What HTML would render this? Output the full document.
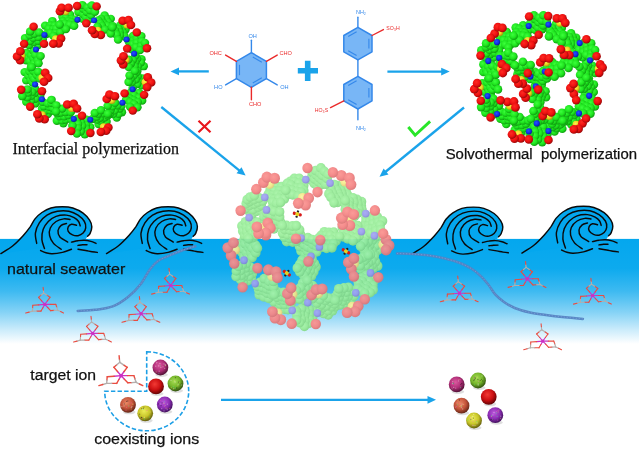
<!DOCTYPE html>
<html><head><meta charset="utf-8"><title>Scheme</title>
<style>
html,body{margin:0;padding:0;background:#fff;}
body{width:639px;height:450px;overflow:hidden;font-family:"Liberation Sans",sans-serif;}
svg{display:block;filter:blur(0.5px);}
svg text{font-family:"Liberation Sans",sans-serif;}
</style></head><body>
<svg width="639" height="450" viewBox="0 0 639 450">
<defs>
<linearGradient id="water" x1="0" y1="0" x2="0" y2="1">
<stop offset="0" stop-color="#04a7ee"/>
<stop offset="0.28" stop-color="#0daaee"/>
<stop offset="0.5" stop-color="#3ebaf1"/>
<stop offset="0.7" stop-color="#86d3f6"/>
<stop offset="0.86" stop-color="#c9ebfb"/>
<stop offset="1" stop-color="#ffffff"/>
</linearGradient>
<radialGradient id="gG" cx="0.4" cy="0.38" r="0.62"><stop offset="0" stop-color="#3cff3c"/><stop offset="0.6" stop-color="#1fe51f"/><stop offset="1" stop-color="#0f9f10"/></radialGradient>
<radialGradient id="gR" cx="0.4" cy="0.38" r="0.62"><stop offset="0" stop-color="#ff2a22"/><stop offset="0.6" stop-color="#ee1010"/><stop offset="1" stop-color="#9a0808"/></radialGradient>
<radialGradient id="gB" cx="0.4" cy="0.38" r="0.62"><stop offset="0" stop-color="#2a50ff"/><stop offset="0.6" stop-color="#1030e8"/><stop offset="1" stop-color="#0a1c9a"/></radialGradient>
<radialGradient id="gY" cx="0.4" cy="0.38" r="0.62"><stop offset="0" stop-color="#fff050"/><stop offset="0.6" stop-color="#ead820"/><stop offset="1" stop-color="#a89a10"/></radialGradient>
<radialGradient id="gGf" cx="0.4" cy="0.38" r="0.62"><stop offset="0" stop-color="#a8f5a8"/><stop offset="0.6" stop-color="#98ec98"/><stop offset="1" stop-color="#84d886"/></radialGradient>
<radialGradient id="gRf" cx="0.4" cy="0.38" r="0.62"><stop offset="0" stop-color="#fb9490"/><stop offset="0.6" stop-color="#f48484"/><stop offset="1" stop-color="#dc7474"/></radialGradient>
<radialGradient id="gBf" cx="0.4" cy="0.38" r="0.62"><stop offset="0" stop-color="#a4a8f4"/><stop offset="0.6" stop-color="#989cec"/><stop offset="1" stop-color="#8488d4"/></radialGradient>
<radialGradient id="gYf" cx="0.4" cy="0.38" r="0.62"><stop offset="0" stop-color="#fbf4a0"/><stop offset="0.6" stop-color="#f2e888"/><stop offset="1" stop-color="#d8cc78"/></radialGradient>
</defs>

<rect x="0" y="0" width="639" height="450" fill="#fff"/>
<rect x="-6" y="238.9" width="651" height="105" fill="url(#water)"/>
<g id="ringL" transform="translate(84,69.3) scale(1,0.965)"><circle cx="26.7" cy="-52.3" r="4.3" fill="url(#gG)"/>
<circle cx="20.6" cy="-55.8" r="4.3" fill="url(#gG)"/>
<circle cx="22.3" cy="-51.9" r="4.3" fill="url(#gG)"/>
<circle cx="24.3" cy="-48.4" r="4.3" fill="url(#gG)"/>
<circle cx="27.6" cy="-44.2" r="4.3" fill="url(#gG)"/>
<circle cx="17.2" cy="-52.1" r="4.3" fill="url(#gG)"/>
<circle cx="19.7" cy="-47.5" r="4.3" fill="url(#gG)"/>
<circle cx="23.3" cy="-45.2" r="4.3" fill="url(#gG)"/>
<circle cx="14.3" cy="-50.6" r="4.3" fill="url(#gG)"/>
<circle cx="16.3" cy="-47.5" r="4.3" fill="url(#gG)"/>
<circle cx="17.9" cy="-45" r="4.3" fill="url(#gG)"/>
<circle cx="21" cy="-41.2" r="4.3" fill="url(#gG)"/>
<circle cx="13.5" cy="-44.2" r="4.3" fill="url(#gG)"/>
<circle cx="41.5" cy="-41.2" r="4.3" fill="url(#gG)"/>
<circle cx="36.6" cy="-45.7" r="4.3" fill="url(#gG)"/>
<circle cx="38" cy="-41.8" r="4.3" fill="url(#gG)"/>
<circle cx="39.3" cy="-37.5" r="4.3" fill="url(#gG)"/>
<circle cx="40.5" cy="-34" r="4.3" fill="url(#gG)"/>
<circle cx="34.5" cy="-42.2" r="4.3" fill="url(#gG)"/>
<circle cx="35.6" cy="-38.4" r="4.3" fill="url(#gG)"/>
<circle cx="35.9" cy="-35.1" r="4.3" fill="url(#gG)"/>
<circle cx="28.9" cy="-44.8" r="4.3" fill="url(#gG)"/>
<circle cx="31.1" cy="-40" r="4.3" fill="url(#gG)"/>
<circle cx="32.6" cy="-35.8" r="4.3" fill="url(#gG)"/>
<circle cx="34.1" cy="-30.7" r="4.3" fill="url(#gG)"/>
<circle cx="26.7" cy="-37.1" r="4.3" fill="url(#gG)"/>
<circle cx="28.4" cy="-43.5" r="4.3" fill="url(#gG)"/>
<circle cx="59.7" cy="-3.2" r="4.3" fill="url(#gG)"/>
<circle cx="57.4" cy="-10.5" r="4.3" fill="url(#gG)"/>
<circle cx="56.8" cy="-7.1" r="4.3" fill="url(#gG)"/>
<circle cx="53.6" cy="-3" r="4.3" fill="url(#gG)"/>
<circle cx="53.3" cy="1.8" r="4.3" fill="url(#gG)"/>
<circle cx="53.1" cy="-10.8" r="4.3" fill="url(#gG)"/>
<circle cx="51.1" cy="-7.2" r="4.3" fill="url(#gG)"/>
<circle cx="50.5" cy="-2.9" r="4.3" fill="url(#gG)"/>
<circle cx="51.4" cy="-14.2" r="4.3" fill="url(#gG)"/>
<circle cx="48.8" cy="-9.6" r="4.3" fill="url(#gG)"/>
<circle cx="46.8" cy="-5.8" r="4.3" fill="url(#gG)"/>
<circle cx="44.8" cy="-2.2" r="4.3" fill="url(#gG)"/>
<circle cx="44.4" cy="-10.1" r="4.3" fill="url(#gG)"/>
<circle cx="57.6" cy="16.7" r="4.3" fill="url(#gG)"/>
<circle cx="58.1" cy="9.3" r="4.3" fill="url(#gG)"/>
<circle cx="54.9" cy="11.7" r="4.3" fill="url(#gG)"/>
<circle cx="53.1" cy="15.4" r="4.3" fill="url(#gG)"/>
<circle cx="48.7" cy="19.3" r="4.3" fill="url(#gG)"/>
<circle cx="53.6" cy="7.2" r="4.3" fill="url(#gG)"/>
<circle cx="51.6" cy="10.6" r="4.3" fill="url(#gG)"/>
<circle cx="47.7" cy="13.4" r="4.3" fill="url(#gG)"/>
<circle cx="52.1" cy="3.5" r="4.3" fill="url(#gG)"/>
<circle cx="49.3" cy="6.8" r="4.3" fill="url(#gG)"/>
<circle cx="46.5" cy="9.8" r="4.3" fill="url(#gG)"/>
<circle cx="44.6" cy="13.1" r="4.3" fill="url(#gG)"/>
<circle cx="45.6" cy="6.3" r="4.3" fill="url(#gG)"/>
<circle cx="50.9" cy="1.6" r="4.3" fill="url(#gG)"/>
<circle cx="32.8" cy="50" r="4.3" fill="url(#gG)"/>
<circle cx="37.9" cy="44.5" r="4.3" fill="url(#gG)"/>
<circle cx="34.4" cy="46.2" r="4.3" fill="url(#gG)"/>
<circle cx="29" cy="46.5" r="4.3" fill="url(#gG)"/>
<circle cx="25.8" cy="46.3" r="4.3" fill="url(#gG)"/>
<circle cx="35.7" cy="40.7" r="4.3" fill="url(#gG)"/>
<circle cx="30.6" cy="42.6" r="4.3" fill="url(#gG)"/>
<circle cx="26.5" cy="42.4" r="4.3" fill="url(#gG)"/>
<circle cx="37.4" cy="38" r="4.3" fill="url(#gG)"/>
<circle cx="33.5" cy="37.3" r="4.3" fill="url(#gG)"/>
<circle cx="28.3" cy="38.4" r="4.3" fill="url(#gG)"/>
<circle cx="23.7" cy="37.9" r="4.3" fill="url(#gG)"/>
<circle cx="31" cy="34.7" r="4.3" fill="url(#gG)"/>
<circle cx="14.6" cy="56.8" r="4.3" fill="url(#gG)"/>
<circle cx="22.5" cy="54.4" r="4.3" fill="url(#gG)"/>
<circle cx="16.6" cy="53.5" r="4.3" fill="url(#gG)"/>
<circle cx="13" cy="52.2" r="4.3" fill="url(#gG)"/>
<circle cx="8.2" cy="51.7" r="4.3" fill="url(#gG)"/>
<circle cx="20.6" cy="50" r="4.3" fill="url(#gG)"/>
<circle cx="15.9" cy="50.4" r="4.3" fill="url(#gG)"/>
<circle cx="12.7" cy="49" r="4.3" fill="url(#gG)"/>
<circle cx="23.8" cy="47.6" r="4.3" fill="url(#gG)"/>
<circle cx="18.5" cy="45.6" r="4.3" fill="url(#gG)"/>
<circle cx="14" cy="46.2" r="4.3" fill="url(#gG)"/>
<circle cx="10.8" cy="45.3" r="4.3" fill="url(#gG)"/>
<circle cx="17" cy="42.4" r="4.3" fill="url(#gG)"/>
<circle cx="23.8" cy="46.1" r="4.3" fill="url(#gG)"/>
<circle cx="-27.1" cy="53.3" r="4.3" fill="url(#gG)"/>
<circle cx="-20.6" cy="55.9" r="4.3" fill="url(#gG)"/>
<circle cx="-21.9" cy="52.8" r="4.3" fill="url(#gG)"/>
<circle cx="-24.4" cy="48.8" r="4.3" fill="url(#gG)"/>
<circle cx="-26.8" cy="45.5" r="4.3" fill="url(#gG)"/>
<circle cx="-18.2" cy="52.1" r="4.3" fill="url(#gG)"/>
<circle cx="-19.7" cy="48.8" r="4.3" fill="url(#gG)"/>
<circle cx="-23.1" cy="44.9" r="4.3" fill="url(#gG)"/>
<circle cx="-12.8" cy="51.6" r="4.3" fill="url(#gG)"/>
<circle cx="-15.7" cy="47.5" r="4.3" fill="url(#gG)"/>
<circle cx="-18.3" cy="44.3" r="4.3" fill="url(#gG)"/>
<circle cx="-21.8" cy="40.7" r="4.3" fill="url(#gG)"/>
<circle cx="-13.2" cy="44.4" r="4.3" fill="url(#gG)"/>
<circle cx="-41.9" cy="40.9" r="4.3" fill="url(#gG)"/>
<circle cx="-36.2" cy="46.5" r="4.3" fill="url(#gG)"/>
<circle cx="-38.1" cy="42.7" r="4.3" fill="url(#gG)"/>
<circle cx="-40.1" cy="38.3" r="4.3" fill="url(#gG)"/>
<circle cx="-41.5" cy="33.8" r="4.3" fill="url(#gG)"/>
<circle cx="-33.7" cy="42.6" r="4.3" fill="url(#gG)"/>
<circle cx="-34.6" cy="38.8" r="4.3" fill="url(#gG)"/>
<circle cx="-36.1" cy="35.3" r="4.3" fill="url(#gG)"/>
<circle cx="-29.7" cy="43.2" r="4.3" fill="url(#gG)"/>
<circle cx="-31" cy="40.1" r="4.3" fill="url(#gG)"/>
<circle cx="-32.5" cy="35" r="4.3" fill="url(#gG)"/>
<circle cx="-32.5" cy="31.6" r="4.3" fill="url(#gG)"/>
<circle cx="-27.7" cy="37.3" r="4.3" fill="url(#gG)"/>
<circle cx="-28" cy="43.8" r="4.3" fill="url(#gG)"/>
<circle cx="-59.3" cy="2.9" r="4.3" fill="url(#gG)"/>
<circle cx="-57.7" cy="11.5" r="4.3" fill="url(#gG)"/>
<circle cx="-55.6" cy="6.5" r="4.3" fill="url(#gG)"/>
<circle cx="-54.2" cy="2.4" r="4.3" fill="url(#gG)"/>
<circle cx="-53.1" cy="-1.3" r="4.3" fill="url(#gG)"/>
<circle cx="-53.2" cy="11" r="4.3" fill="url(#gG)"/>
<circle cx="-51.5" cy="7.2" r="4.3" fill="url(#gG)"/>
<circle cx="-50.3" cy="1.8" r="4.3" fill="url(#gG)"/>
<circle cx="-51.4" cy="13.7" r="4.3" fill="url(#gG)"/>
<circle cx="-49.9" cy="9.9" r="4.3" fill="url(#gG)"/>
<circle cx="-47.2" cy="6" r="4.3" fill="url(#gG)"/>
<circle cx="-45.8" cy="2.6" r="4.3" fill="url(#gG)"/>
<circle cx="-44" cy="9.6" r="4.3" fill="url(#gG)"/>
<circle cx="-57.5" cy="-16.9" r="4.3" fill="url(#gG)"/>
<circle cx="-57.8" cy="-9.4" r="4.3" fill="url(#gG)"/>
<circle cx="-55.1" cy="-11.7" r="4.3" fill="url(#gG)"/>
<circle cx="-52.8" cy="-14.6" r="4.3" fill="url(#gG)"/>
<circle cx="-50.3" cy="-19" r="4.3" fill="url(#gG)"/>
<circle cx="-54.2" cy="-8.5" r="4.3" fill="url(#gG)"/>
<circle cx="-50.5" cy="-11.3" r="4.3" fill="url(#gG)"/>
<circle cx="-48.7" cy="-14.9" r="4.3" fill="url(#gG)"/>
<circle cx="-52.6" cy="-3.4" r="4.3" fill="url(#gG)"/>
<circle cx="-49.6" cy="-6.3" r="4.3" fill="url(#gG)"/>
<circle cx="-46.2" cy="-9.1" r="4.3" fill="url(#gG)"/>
<circle cx="-43.4" cy="-13.7" r="4.3" fill="url(#gG)"/>
<circle cx="-45.5" cy="-6.2" r="4.3" fill="url(#gG)"/>
<circle cx="-52.4" cy="-2.3" r="4.3" fill="url(#gG)"/>
<circle cx="-31.6" cy="-50" r="4.3" fill="url(#gG)"/>
<circle cx="-38.8" cy="-45.3" r="4.3" fill="url(#gG)"/>
<circle cx="-33.6" cy="-45.4" r="4.3" fill="url(#gG)"/>
<circle cx="-29.3" cy="-45.3" r="4.3" fill="url(#gG)"/>
<circle cx="-25.3" cy="-45.5" r="4.3" fill="url(#gG)"/>
<circle cx="-35.2" cy="-42.1" r="4.3" fill="url(#gG)"/>
<circle cx="-30.7" cy="-41.3" r="4.3" fill="url(#gG)"/>
<circle cx="-27.7" cy="-42.1" r="4.3" fill="url(#gG)"/>
<circle cx="-37.6" cy="-36.6" r="4.3" fill="url(#gG)"/>
<circle cx="-33.6" cy="-37.6" r="4.3" fill="url(#gG)"/>
<circle cx="-28.3" cy="-37.5" r="4.3" fill="url(#gG)"/>
<circle cx="-23.7" cy="-38.5" r="4.3" fill="url(#gG)"/>
<circle cx="-30.6" cy="-34.6" r="4.3" fill="url(#gG)"/>
<circle cx="-14" cy="-56.6" r="4.3" fill="url(#gG)"/>
<circle cx="-21.5" cy="-54.5" r="4.3" fill="url(#gG)"/>
<circle cx="-18" cy="-53.2" r="4.3" fill="url(#gG)"/>
<circle cx="-12.3" cy="-52.1" r="4.3" fill="url(#gG)"/>
<circle cx="-8.7" cy="-51.4" r="4.3" fill="url(#gG)"/>
<circle cx="-20.8" cy="-49.9" r="4.3" fill="url(#gG)"/>
<circle cx="-15.5" cy="-50" r="4.3" fill="url(#gG)"/>
<circle cx="-12.6" cy="-48.8" r="4.3" fill="url(#gG)"/>
<circle cx="-23.4" cy="-46.9" r="4.3" fill="url(#gG)"/>
<circle cx="-19.2" cy="-47.3" r="4.3" fill="url(#gG)"/>
<circle cx="-14.3" cy="-46.2" r="4.3" fill="url(#gG)"/>
<circle cx="-9.9" cy="-45" r="4.3" fill="url(#gG)"/>
<circle cx="-18.1" cy="-41.7" r="4.3" fill="url(#gG)"/>
<circle cx="-24.4" cy="-46.3" r="4.3" fill="url(#gG)"/>
<circle cx="-5.5" cy="-59.4" r="4.3" fill="url(#gG)"/>
<circle cx="-1.2" cy="-52.2" r="4.3" fill="url(#gG)"/>
<circle cx="-0.8" cy="-57.3" r="4.3" fill="url(#gG)"/>
<circle cx="-0.6" cy="-62.7" r="4.3" fill="url(#gG)"/>
<circle cx="-1.7" cy="-66.6" r="4.3" fill="url(#gG)"/>
<circle cx="2" cy="-54.3" r="4.3" fill="url(#gG)"/>
<circle cx="2.8" cy="-59.4" r="4.3" fill="url(#gG)"/>
<circle cx="3.4" cy="-64" r="4.3" fill="url(#gG)"/>
<circle cx="6" cy="-52.4" r="4.3" fill="url(#gG)"/>
<circle cx="7.2" cy="-56.2" r="4.3" fill="url(#gG)"/>
<circle cx="6.2" cy="-61" r="4.3" fill="url(#gG)"/>
<circle cx="7.8" cy="-66.3" r="4.3" fill="url(#gG)"/>
<circle cx="10.9" cy="-59.6" r="4.3" fill="url(#gG)"/>
<circle cx="49.1" cy="-34.7" r="4.3" fill="url(#gG)"/>
<circle cx="44.8" cy="-28.7" r="4.3" fill="url(#gG)"/>
<circle cx="49.7" cy="-30" r="4.3" fill="url(#gG)"/>
<circle cx="52.8" cy="-31.6" r="4.3" fill="url(#gG)"/>
<circle cx="57.3" cy="-34.4" r="4.3" fill="url(#gG)"/>
<circle cx="49" cy="-26.1" r="4.3" fill="url(#gG)"/>
<circle cx="52.8" cy="-27.6" r="4.3" fill="url(#gG)"/>
<circle cx="57.8" cy="-28.9" r="4.3" fill="url(#gG)"/>
<circle cx="48" cy="-20.7" r="4.3" fill="url(#gG)"/>
<circle cx="51.9" cy="-22.9" r="4.3" fill="url(#gG)"/>
<circle cx="57.3" cy="-24.2" r="4.3" fill="url(#gG)"/>
<circle cx="60.9" cy="-27.4" r="4.3" fill="url(#gG)"/>
<circle cx="56" cy="-20" r="4.3" fill="url(#gG)"/>
<circle cx="55.3" cy="24.4" r="4.3" fill="url(#gG)"/>
<circle cx="46.9" cy="23.9" r="4.3" fill="url(#gG)"/>
<circle cx="49.8" cy="26.8" r="4.3" fill="url(#gG)"/>
<circle cx="54.7" cy="29.5" r="4.3" fill="url(#gG)"/>
<circle cx="58.1" cy="32.5" r="4.3" fill="url(#gG)"/>
<circle cx="45.5" cy="29.9" r="4.3" fill="url(#gG)"/>
<circle cx="49.5" cy="32" r="4.3" fill="url(#gG)"/>
<circle cx="53.7" cy="34" r="4.3" fill="url(#gG)"/>
<circle cx="42.1" cy="31.5" r="4.3" fill="url(#gG)"/>
<circle cx="45.8" cy="34" r="4.3" fill="url(#gG)"/>
<circle cx="50" cy="36.1" r="4.3" fill="url(#gG)"/>
<circle cx="53.4" cy="39.4" r="4.3" fill="url(#gG)"/>
<circle cx="46.1" cy="38.9" r="4.3" fill="url(#gG)"/>
<circle cx="6.2" cy="60" r="4.3" fill="url(#gG)"/>
<circle cx="2.4" cy="52.1" r="4.3" fill="url(#gG)"/>
<circle cx="2" cy="57.8" r="4.3" fill="url(#gG)"/>
<circle cx="2.1" cy="61.6" r="4.3" fill="url(#gG)"/>
<circle cx="0.8" cy="67.4" r="4.3" fill="url(#gG)"/>
<circle cx="-2.9" cy="55.6" r="4.3" fill="url(#gG)"/>
<circle cx="-1.9" cy="58.8" r="4.3" fill="url(#gG)"/>
<circle cx="-3.3" cy="64.5" r="4.3" fill="url(#gG)"/>
<circle cx="-6.8" cy="51.5" r="4.3" fill="url(#gG)"/>
<circle cx="-6" cy="56.8" r="4.3" fill="url(#gG)"/>
<circle cx="-6.2" cy="60.9" r="4.3" fill="url(#gG)"/>
<circle cx="-7.1" cy="66.6" r="4.3" fill="url(#gG)"/>
<circle cx="-11.6" cy="58.5" r="4.3" fill="url(#gG)"/>
<circle cx="-48.7" cy="35.4" r="4.3" fill="url(#gG)"/>
<circle cx="-43.8" cy="27.1" r="4.3" fill="url(#gG)"/>
<circle cx="-48.8" cy="30.5" r="4.3" fill="url(#gG)"/>
<circle cx="-53" cy="32.5" r="4.3" fill="url(#gG)"/>
<circle cx="-57.7" cy="33.6" r="4.3" fill="url(#gG)"/>
<circle cx="-49.3" cy="24.5" r="4.3" fill="url(#gG)"/>
<circle cx="-52.7" cy="27.5" r="4.3" fill="url(#gG)"/>
<circle cx="-56.8" cy="29" r="4.3" fill="url(#gG)"/>
<circle cx="-49" cy="20.1" r="4.3" fill="url(#gG)"/>
<circle cx="-52" cy="23.7" r="4.3" fill="url(#gG)"/>
<circle cx="-56" cy="24.2" r="4.3" fill="url(#gG)"/>
<circle cx="-61.7" cy="27.9" r="4.3" fill="url(#gG)"/>
<circle cx="-56.6" cy="20.7" r="4.3" fill="url(#gG)"/>
<circle cx="-54.9" cy="-25.2" r="4.3" fill="url(#gG)"/>
<circle cx="-46.4" cy="-24.9" r="4.3" fill="url(#gG)"/>
<circle cx="-50.2" cy="-28.2" r="4.3" fill="url(#gG)"/>
<circle cx="-54" cy="-29.2" r="4.3" fill="url(#gG)"/>
<circle cx="-58.9" cy="-32.4" r="4.3" fill="url(#gG)"/>
<circle cx="-45.8" cy="-29.6" r="4.3" fill="url(#gG)"/>
<circle cx="-50.7" cy="-32.6" r="4.3" fill="url(#gG)"/>
<circle cx="-54.1" cy="-35.4" r="4.3" fill="url(#gG)"/>
<circle cx="-41.3" cy="-31.1" r="4.3" fill="url(#gG)"/>
<circle cx="-45.6" cy="-33.5" r="4.3" fill="url(#gG)"/>
<circle cx="-49.7" cy="-36.8" r="4.3" fill="url(#gG)"/>
<circle cx="-53.8" cy="-39.2" r="4.3" fill="url(#gG)"/>
<circle cx="-44.9" cy="-38.3" r="4.3" fill="url(#gG)"/>
<circle cx="10.1" cy="-50.7" r="3.1" fill="url(#gB)"/>
<circle cx="42.6" cy="-30.8" r="3.1" fill="url(#gB)"/>
<circle cx="13.6" cy="-40.4" r="3.8" fill="url(#gY)"/>
<circle cx="43.1" cy="-46" r="3.8" fill="url(#gY)"/>
<circle cx="50.2" cy="-16.1" r="3.1" fill="url(#gB)"/>
<circle cx="48.6" cy="20.7" r="3.1" fill="url(#gB)"/>
<circle cx="41.8" cy="-9.6" r="3.8" fill="url(#gY)"/>
<circle cx="61.3" cy="13.3" r="3.8" fill="url(#gY)"/>
<circle cx="38.4" cy="34.6" r="3.1" fill="url(#gB)"/>
<circle cx="6.3" cy="52.4" r="3.1" fill="url(#gB)"/>
<circle cx="27.8" cy="32.2" r="3.8" fill="url(#gY)"/>
<circle cx="19.6" cy="59.7" r="3.8" fill="url(#gY)"/>
<circle cx="-10.2" cy="51.5" r="3.1" fill="url(#gB)"/>
<circle cx="-42.1" cy="31.1" r="3.1" fill="url(#gB)"/>
<circle cx="-12.1" cy="40.5" r="3.8" fill="url(#gY)"/>
<circle cx="-42" cy="47.2" r="3.8" fill="url(#gY)"/>
<circle cx="-48.9" cy="15.7" r="3.1" fill="url(#gB)"/>
<circle cx="-48" cy="-20.4" r="3.1" fill="url(#gB)"/>
<circle cx="-41.8" cy="8.7" r="3.8" fill="url(#gY)"/>
<circle cx="-62.4" cy="-13.9" r="3.8" fill="url(#gY)"/>
<circle cx="-39.5" cy="-35.6" r="3.1" fill="url(#gB)"/>
<circle cx="-6.5" cy="-51.4" r="3.1" fill="url(#gB)"/>
<circle cx="-28.2" cy="-31.4" r="3.8" fill="url(#gY)"/>
<circle cx="-18.4" cy="-59.9" r="3.8" fill="url(#gY)"/>
<circle cx="16.8" cy="-35.6" r="4.4" fill="url(#gR)"/>
<circle cx="10.8" cy="-36.6" r="4.4" fill="url(#gR)"/>
<circle cx="8.1" cy="-40.5" r="4.4" fill="url(#gR)"/>
<circle cx="38.7" cy="-50.3" r="4.4" fill="url(#gR)"/>
<circle cx="44.5" cy="-51.1" r="4.4" fill="url(#gR)"/>
<circle cx="46.9" cy="-45.9" r="4.4" fill="url(#gR)"/>
<circle cx="39.2" cy="-5" r="4.4" fill="url(#gR)"/>
<circle cx="37" cy="-9.2" r="4.4" fill="url(#gR)"/>
<circle cx="39.5" cy="-13.5" r="4.4" fill="url(#gR)"/>
<circle cx="63.7" cy="8.3" r="4.4" fill="url(#gR)"/>
<circle cx="67.1" cy="13.7" r="4.4" fill="url(#gR)"/>
<circle cx="63.1" cy="18.6" r="4.4" fill="url(#gR)"/>
<circle cx="22.8" cy="30.8" r="4.4" fill="url(#gR)"/>
<circle cx="25.5" cy="26" r="4.4" fill="url(#gR)"/>
<circle cx="30.9" cy="27.8" r="4.4" fill="url(#gR)"/>
<circle cx="24.3" cy="60.4" r="4.4" fill="url(#gR)"/>
<circle cx="22.1" cy="63.8" r="4.4" fill="url(#gR)"/>
<circle cx="16.9" cy="64.9" r="4.4" fill="url(#gR)"/>
<circle cx="-16.7" cy="36.6" r="4.4" fill="url(#gR)"/>
<circle cx="-10.4" cy="35.8" r="4.4" fill="url(#gR)"/>
<circle cx="-7" cy="40.5" r="4.4" fill="url(#gR)"/>
<circle cx="-39.4" cy="51.8" r="4.4" fill="url(#gR)"/>
<circle cx="-44.7" cy="51" r="4.4" fill="url(#gR)"/>
<circle cx="-46.6" cy="46.5" r="4.4" fill="url(#gR)"/>
<circle cx="-38.8" cy="3.5" r="4.4" fill="url(#gR)"/>
<circle cx="-35.9" cy="9" r="4.4" fill="url(#gR)"/>
<circle cx="-40" cy="12.9" r="4.4" fill="url(#gR)"/>
<circle cx="-63.9" cy="-9.4" r="4.4" fill="url(#gR)"/>
<circle cx="-66.9" cy="-13.3" r="4.4" fill="url(#gR)"/>
<circle cx="-63.6" cy="-18.6" r="4.4" fill="url(#gR)"/>
<circle cx="-23" cy="-31.8" r="4.4" fill="url(#gR)"/>
<circle cx="-25.4" cy="-26.7" r="4.4" fill="url(#gR)"/>
<circle cx="-30.7" cy="-26.5" r="4.4" fill="url(#gR)"/>
<circle cx="-24" cy="-60.2" r="4.4" fill="url(#gR)"/>
<circle cx="-22.4" cy="-63.9" r="4.4" fill="url(#gR)"/>
<circle cx="-15.5" cy="-63.9" r="4.4" fill="url(#gR)"/>
<circle cx="12.6" cy="-65.2" r="4.3" fill="url(#gR)"/>
<circle cx="-6.9" cy="-65.6" r="4.3" fill="url(#gR)"/>
<circle cx="2.3" cy="-47.6" r="4.3" fill="url(#gR)"/>
<circle cx="63" cy="-21.8" r="4.3" fill="url(#gR)"/>
<circle cx="52.8" cy="-38.2" r="4.3" fill="url(#gR)"/>
<circle cx="43.2" cy="-21.4" r="4.3" fill="url(#gR)"/>
<circle cx="48.8" cy="42.8" r="4.3" fill="url(#gR)"/>
<circle cx="60.1" cy="26.5" r="4.3" fill="url(#gR)"/>
<circle cx="40.6" cy="25" r="4.3" fill="url(#gR)"/>
<circle cx="-12.8" cy="64" r="4.3" fill="url(#gR)"/>
<circle cx="6.4" cy="66" r="4.3" fill="url(#gR)"/>
<circle cx="-2" cy="48.1" r="4.3" fill="url(#gR)"/>
<circle cx="-62.8" cy="21.2" r="4.3" fill="url(#gR)"/>
<circle cx="-53.8" cy="38.8" r="4.3" fill="url(#gR)"/>
<circle cx="-42" cy="22.7" r="4.3" fill="url(#gR)"/>
<circle cx="-50.4" cy="-44.2" r="4.3" fill="url(#gR)"/>
<circle cx="-59.9" cy="-26.4" r="4.3" fill="url(#gR)"/>
<circle cx="-39.9" cy="-26.3" r="4.3" fill="url(#gR)"/></g>
<g id="cageR"><circle cx="561.8" cy="27.7" r="4.3" fill="url(#gG)"/>
<circle cx="555.6" cy="24.5" r="4.3" fill="url(#gG)"/>
<circle cx="557.5" cy="28.3" r="4.3" fill="url(#gG)"/>
<circle cx="559.6" cy="31.7" r="4.3" fill="url(#gG)"/>
<circle cx="563" cy="35.8" r="4.3" fill="url(#gG)"/>
<circle cx="552.3" cy="28.3" r="4.3" fill="url(#gG)"/>
<circle cx="555" cy="32.8" r="4.3" fill="url(#gG)"/>
<circle cx="558.7" cy="35" r="4.3" fill="url(#gG)"/>
<circle cx="549.5" cy="30" r="4.3" fill="url(#gG)"/>
<circle cx="551.6" cy="33" r="4.3" fill="url(#gG)"/>
<circle cx="553.4" cy="35.5" r="4.3" fill="url(#gG)"/>
<circle cx="556.7" cy="39.1" r="4.3" fill="url(#gG)"/>
<circle cx="549" cy="36.4" r="4.3" fill="url(#gG)"/>
<circle cx="576.2" cy="37.7" r="4.3" fill="url(#gG)"/>
<circle cx="571.1" cy="33.4" r="4.3" fill="url(#gG)"/>
<circle cx="572.7" cy="37.2" r="4.3" fill="url(#gG)"/>
<circle cx="574.2" cy="41.4" r="4.3" fill="url(#gG)"/>
<circle cx="575.6" cy="44.9" r="4.3" fill="url(#gG)"/>
<circle cx="569.2" cy="37.1" r="4.3" fill="url(#gG)"/>
<circle cx="570.4" cy="40.7" r="4.3" fill="url(#gG)"/>
<circle cx="570.9" cy="44.1" r="4.3" fill="url(#gG)"/>
<circle cx="563.5" cy="34.6" r="4.3" fill="url(#gG)"/>
<circle cx="565.9" cy="39.4" r="4.3" fill="url(#gG)"/>
<circle cx="567.5" cy="43.5" r="4.3" fill="url(#gG)"/>
<circle cx="569.2" cy="48.6" r="4.3" fill="url(#gG)"/>
<circle cx="561.6" cy="42.4" r="4.3" fill="url(#gG)"/>
<circle cx="563.5" cy="36.2" r="4.3" fill="url(#gG)"/>
<circle cx="595" cy="73" r="4.3" fill="url(#gG)"/>
<circle cx="592.4" cy="65.8" r="4.3" fill="url(#gG)"/>
<circle cx="591.9" cy="69.2" r="4.3" fill="url(#gG)"/>
<circle cx="588.9" cy="73.4" r="4.3" fill="url(#gG)"/>
<circle cx="588.8" cy="78.3" r="4.3" fill="url(#gG)"/>
<circle cx="588.1" cy="65.6" r="4.3" fill="url(#gG)"/>
<circle cx="586.3" cy="69.4" r="4.3" fill="url(#gG)"/>
<circle cx="585.8" cy="73.7" r="4.3" fill="url(#gG)"/>
<circle cx="586.2" cy="62.4" r="4.3" fill="url(#gG)"/>
<circle cx="583.8" cy="67" r="4.3" fill="url(#gG)"/>
<circle cx="581.9" cy="71" r="4.3" fill="url(#gG)"/>
<circle cx="580.1" cy="74.7" r="4.3" fill="url(#gG)"/>
<circle cx="579.4" cy="66.7" r="4.3" fill="url(#gG)"/>
<circle cx="593.7" cy="92" r="4.3" fill="url(#gG)"/>
<circle cx="593.9" cy="84.5" r="4.3" fill="url(#gG)"/>
<circle cx="590.9" cy="87" r="4.3" fill="url(#gG)"/>
<circle cx="589.1" cy="90.9" r="4.3" fill="url(#gG)"/>
<circle cx="584.9" cy="94.9" r="4.3" fill="url(#gG)"/>
<circle cx="589.4" cy="82.6" r="4.3" fill="url(#gG)"/>
<circle cx="587.5" cy="86.1" r="4.3" fill="url(#gG)"/>
<circle cx="583.8" cy="89" r="4.3" fill="url(#gG)"/>
<circle cx="587.6" cy="79" r="4.3" fill="url(#gG)"/>
<circle cx="585" cy="82.4" r="4.3" fill="url(#gG)"/>
<circle cx="582.4" cy="85.5" r="4.3" fill="url(#gG)"/>
<circle cx="580.6" cy="89" r="4.3" fill="url(#gG)"/>
<circle cx="581.3" cy="82.1" r="4.3" fill="url(#gG)"/>
<circle cx="586.4" cy="77.7" r="4.3" fill="url(#gG)"/>
<circle cx="571.4" cy="124.5" r="4.3" fill="url(#gG)"/>
<circle cx="576.4" cy="118.7" r="4.3" fill="url(#gG)"/>
<circle cx="572.9" cy="120.6" r="4.3" fill="url(#gG)"/>
<circle cx="567.5" cy="121.1" r="4.3" fill="url(#gG)"/>
<circle cx="564.3" cy="121.1" r="4.3" fill="url(#gG)"/>
<circle cx="574.1" cy="115" r="4.3" fill="url(#gG)"/>
<circle cx="569" cy="117.1" r="4.3" fill="url(#gG)"/>
<circle cx="564.9" cy="117.1" r="4.3" fill="url(#gG)"/>
<circle cx="575.5" cy="112.2" r="4.3" fill="url(#gG)"/>
<circle cx="571.7" cy="111.8" r="4.3" fill="url(#gG)"/>
<circle cx="566.5" cy="113.1" r="4.3" fill="url(#gG)"/>
<circle cx="561.9" cy="112.7" r="4.3" fill="url(#gG)"/>
<circle cx="569" cy="109.2" r="4.3" fill="url(#gG)"/>
<circle cx="554.5" cy="131.5" r="4.3" fill="url(#gG)"/>
<circle cx="562.3" cy="128.8" r="4.3" fill="url(#gG)"/>
<circle cx="556.3" cy="128.1" r="4.3" fill="url(#gG)"/>
<circle cx="552.7" cy="127" r="4.3" fill="url(#gG)"/>
<circle cx="547.9" cy="126.7" r="4.3" fill="url(#gG)"/>
<circle cx="560.2" cy="124.5" r="4.3" fill="url(#gG)"/>
<circle cx="555.5" cy="125.1" r="4.3" fill="url(#gG)"/>
<circle cx="552.2" cy="123.8" r="4.3" fill="url(#gG)"/>
<circle cx="563.3" cy="121.9" r="4.3" fill="url(#gG)"/>
<circle cx="557.9" cy="120.1" r="4.3" fill="url(#gG)"/>
<circle cx="553.3" cy="120.9" r="4.3" fill="url(#gG)"/>
<circle cx="550.2" cy="120.2" r="4.3" fill="url(#gG)"/>
<circle cx="556.2" cy="117" r="4.3" fill="url(#gG)"/>
<circle cx="562.7" cy="120.7" r="4.3" fill="url(#gG)"/>
<circle cx="514.8" cy="129.9" r="4.3" fill="url(#gG)"/>
<circle cx="521.4" cy="132.1" r="4.3" fill="url(#gG)"/>
<circle cx="520" cy="129.2" r="4.3" fill="url(#gG)"/>
<circle cx="517.3" cy="125.3" r="4.3" fill="url(#gG)"/>
<circle cx="514.7" cy="122.1" r="4.3" fill="url(#gG)"/>
<circle cx="523.7" cy="128.3" r="4.3" fill="url(#gG)"/>
<circle cx="522" cy="125" r="4.3" fill="url(#gG)"/>
<circle cx="518.5" cy="121.3" r="4.3" fill="url(#gG)"/>
<circle cx="529" cy="127.5" r="4.3" fill="url(#gG)"/>
<circle cx="525.9" cy="123.6" r="4.3" fill="url(#gG)"/>
<circle cx="523.2" cy="120.5" r="4.3" fill="url(#gG)"/>
<circle cx="519.6" cy="117" r="4.3" fill="url(#gG)"/>
<circle cx="528.3" cy="120.4" r="4.3" fill="url(#gG)"/>
<circle cx="500.4" cy="118.6" r="4.3" fill="url(#gG)"/>
<circle cx="506.3" cy="124" r="4.3" fill="url(#gG)"/>
<circle cx="504.2" cy="120.2" r="4.3" fill="url(#gG)"/>
<circle cx="502.1" cy="115.9" r="4.3" fill="url(#gG)"/>
<circle cx="500.5" cy="111.4" r="4.3" fill="url(#gG)"/>
<circle cx="508.7" cy="119.9" r="4.3" fill="url(#gG)"/>
<circle cx="507.6" cy="116.2" r="4.3" fill="url(#gG)"/>
<circle cx="505.9" cy="112.8" r="4.3" fill="url(#gG)"/>
<circle cx="512.7" cy="120.3" r="4.3" fill="url(#gG)"/>
<circle cx="511.2" cy="117.4" r="4.3" fill="url(#gG)"/>
<circle cx="509.6" cy="112.3" r="4.3" fill="url(#gG)"/>
<circle cx="509.3" cy="108.9" r="4.3" fill="url(#gG)"/>
<circle cx="514.4" cy="114.3" r="4.3" fill="url(#gG)"/>
<circle cx="513.9" cy="120.6" r="4.3" fill="url(#gG)"/>
<circle cx="482.4" cy="83.3" r="4.3" fill="url(#gG)"/>
<circle cx="484.4" cy="91.8" r="4.3" fill="url(#gG)"/>
<circle cx="486.3" cy="86.7" r="4.3" fill="url(#gG)"/>
<circle cx="487.5" cy="82.5" r="4.3" fill="url(#gG)"/>
<circle cx="488.4" cy="78.8" r="4.3" fill="url(#gG)"/>
<circle cx="488.9" cy="91.1" r="4.3" fill="url(#gG)"/>
<circle cx="490.4" cy="87.2" r="4.3" fill="url(#gG)"/>
<circle cx="491.3" cy="81.7" r="4.3" fill="url(#gG)"/>
<circle cx="490.8" cy="93.7" r="4.3" fill="url(#gG)"/>
<circle cx="492.2" cy="89.8" r="4.3" fill="url(#gG)"/>
<circle cx="494.6" cy="85.9" r="4.3" fill="url(#gG)"/>
<circle cx="495.8" cy="82.4" r="4.3" fill="url(#gG)"/>
<circle cx="498" cy="89.4" r="4.3" fill="url(#gG)"/>
<circle cx="483.4" cy="64.4" r="4.3" fill="url(#gG)"/>
<circle cx="483.4" cy="72" r="4.3" fill="url(#gG)"/>
<circle cx="486" cy="69.5" r="4.3" fill="url(#gG)"/>
<circle cx="488.2" cy="66.5" r="4.3" fill="url(#gG)"/>
<circle cx="490.5" cy="61.9" r="4.3" fill="url(#gG)"/>
<circle cx="487" cy="72.7" r="4.3" fill="url(#gG)"/>
<circle cx="490.6" cy="69.7" r="4.3" fill="url(#gG)"/>
<circle cx="492.2" cy="66" r="4.3" fill="url(#gG)"/>
<circle cx="488.9" cy="77.7" r="4.3" fill="url(#gG)"/>
<circle cx="491.7" cy="74.6" r="4.3" fill="url(#gG)"/>
<circle cx="494.9" cy="71.8" r="4.3" fill="url(#gG)"/>
<circle cx="497.6" cy="67" r="4.3" fill="url(#gG)"/>
<circle cx="495.8" cy="74.6" r="4.3" fill="url(#gG)"/>
<circle cx="489.1" cy="78.2" r="4.3" fill="url(#gG)"/>
<circle cx="506.7" cy="32.1" r="4.3" fill="url(#gG)"/>
<circle cx="499.7" cy="37.1" r="4.3" fill="url(#gG)"/>
<circle cx="504.9" cy="36.8" r="4.3" fill="url(#gG)"/>
<circle cx="509.2" cy="36.7" r="4.3" fill="url(#gG)"/>
<circle cx="513.2" cy="36.3" r="4.3" fill="url(#gG)"/>
<circle cx="503.5" cy="40.1" r="4.3" fill="url(#gG)"/>
<circle cx="508" cy="40.8" r="4.3" fill="url(#gG)"/>
<circle cx="511" cy="39.7" r="4.3" fill="url(#gG)"/>
<circle cx="501.3" cy="45.7" r="4.3" fill="url(#gG)"/>
<circle cx="505.2" cy="44.6" r="4.3" fill="url(#gG)"/>
<circle cx="510.6" cy="44.5" r="4.3" fill="url(#gG)"/>
<circle cx="515.1" cy="43.3" r="4.3" fill="url(#gG)"/>
<circle cx="508.4" cy="47.5" r="4.3" fill="url(#gG)"/>
<circle cx="523.1" cy="25.2" r="4.3" fill="url(#gG)"/>
<circle cx="515.7" cy="27.6" r="4.3" fill="url(#gG)"/>
<circle cx="519.3" cy="28.8" r="4.3" fill="url(#gG)"/>
<circle cx="525" cy="29.7" r="4.3" fill="url(#gG)"/>
<circle cx="528.6" cy="30.2" r="4.3" fill="url(#gG)"/>
<circle cx="516.6" cy="32.2" r="4.3" fill="url(#gG)"/>
<circle cx="521.9" cy="32" r="4.3" fill="url(#gG)"/>
<circle cx="524.9" cy="32.9" r="4.3" fill="url(#gG)"/>
<circle cx="514.1" cy="35.3" r="4.3" fill="url(#gG)"/>
<circle cx="518.4" cy="34.8" r="4.3" fill="url(#gG)"/>
<circle cx="523.3" cy="35.6" r="4.3" fill="url(#gG)"/>
<circle cx="527.7" cy="36.6" r="4.3" fill="url(#gG)"/>
<circle cx="519.6" cy="40.3" r="4.3" fill="url(#gG)"/>
<circle cx="513.6" cy="35.7" r="4.3" fill="url(#gG)"/>
<circle cx="530.4" cy="22.7" r="4.3" fill="url(#gG)"/>
<circle cx="535" cy="29.7" r="4.3" fill="url(#gG)"/>
<circle cx="535.2" cy="24.6" r="4.3" fill="url(#gG)"/>
<circle cx="535.2" cy="19.2" r="4.3" fill="url(#gG)"/>
<circle cx="533.9" cy="15.3" r="4.3" fill="url(#gG)"/>
<circle cx="538.1" cy="27.4" r="4.3" fill="url(#gG)"/>
<circle cx="538.7" cy="22.3" r="4.3" fill="url(#gG)"/>
<circle cx="539.1" cy="17.7" r="4.3" fill="url(#gG)"/>
<circle cx="542.2" cy="29.1" r="4.3" fill="url(#gG)"/>
<circle cx="543.2" cy="25.4" r="4.3" fill="url(#gG)"/>
<circle cx="542" cy="20.6" r="4.3" fill="url(#gG)"/>
<circle cx="543.4" cy="15.3" r="4.3" fill="url(#gG)"/>
<circle cx="546.8" cy="21.8" r="4.3" fill="url(#gG)"/>
<circle cx="583" cy="43.3" r="4.3" fill="url(#gG)"/>
<circle cx="579" cy="49.5" r="4.3" fill="url(#gG)"/>
<circle cx="583.8" cy="48" r="4.3" fill="url(#gG)"/>
<circle cx="586.8" cy="46.1" r="4.3" fill="url(#gG)"/>
<circle cx="591.2" cy="43.2" r="4.3" fill="url(#gG)"/>
<circle cx="583.3" cy="51.9" r="4.3" fill="url(#gG)"/>
<circle cx="587.1" cy="50.1" r="4.3" fill="url(#gG)"/>
<circle cx="591.9" cy="48.7" r="4.3" fill="url(#gG)"/>
<circle cx="582.5" cy="57.3" r="4.3" fill="url(#gG)"/>
<circle cx="586.3" cy="54.9" r="4.3" fill="url(#gG)"/>
<circle cx="591.6" cy="53.4" r="4.3" fill="url(#gG)"/>
<circle cx="595.1" cy="50" r="4.3" fill="url(#gG)"/>
<circle cx="590.5" cy="57.6" r="4.3" fill="url(#gG)"/>
<circle cx="591.8" cy="98.6" r="4.3" fill="url(#gG)"/>
<circle cx="583.4" cy="98.4" r="4.3" fill="url(#gG)"/>
<circle cx="586.4" cy="101.1" r="4.3" fill="url(#gG)"/>
<circle cx="591.4" cy="103.6" r="4.3" fill="url(#gG)"/>
<circle cx="594.9" cy="106.5" r="4.3" fill="url(#gG)"/>
<circle cx="582.2" cy="104.4" r="4.3" fill="url(#gG)"/>
<circle cx="586.3" cy="106.3" r="4.3" fill="url(#gG)"/>
<circle cx="590.6" cy="108.1" r="4.3" fill="url(#gG)"/>
<circle cx="578.9" cy="106.2" r="4.3" fill="url(#gG)"/>
<circle cx="582.7" cy="108.5" r="4.3" fill="url(#gG)"/>
<circle cx="587.1" cy="110.4" r="4.3" fill="url(#gG)"/>
<circle cx="590.5" cy="113.6" r="4.3" fill="url(#gG)"/>
<circle cx="583.2" cy="113.4" r="4.3" fill="url(#gG)"/>
<circle cx="547.3" cy="134.5" r="4.3" fill="url(#gG)"/>
<circle cx="543.2" cy="126.8" r="4.3" fill="url(#gG)"/>
<circle cx="543" cy="132.5" r="4.3" fill="url(#gG)"/>
<circle cx="543.3" cy="136.3" r="4.3" fill="url(#gG)"/>
<circle cx="542.2" cy="142.1" r="4.3" fill="url(#gG)"/>
<circle cx="538" cy="130.5" r="4.3" fill="url(#gG)"/>
<circle cx="539.2" cy="133.6" r="4.3" fill="url(#gG)"/>
<circle cx="538" cy="139.4" r="4.3" fill="url(#gG)"/>
<circle cx="534" cy="126.5" r="4.3" fill="url(#gG)"/>
<circle cx="535" cy="131.8" r="4.3" fill="url(#gG)"/>
<circle cx="535" cy="136" r="4.3" fill="url(#gG)"/>
<circle cx="534.3" cy="141.7" r="4.3" fill="url(#gG)"/>
<circle cx="529.5" cy="133.8" r="4.3" fill="url(#gG)"/>
<circle cx="494.4" cy="114.1" r="4.3" fill="url(#gG)"/>
<circle cx="499" cy="105.6" r="4.3" fill="url(#gG)"/>
<circle cx="494.1" cy="109.1" r="4.3" fill="url(#gG)"/>
<circle cx="490" cy="111.3" r="4.3" fill="url(#gG)"/>
<circle cx="485.4" cy="112.6" r="4.3" fill="url(#gG)"/>
<circle cx="493.4" cy="103.1" r="4.3" fill="url(#gG)"/>
<circle cx="490.1" cy="106.3" r="4.3" fill="url(#gG)"/>
<circle cx="486.1" cy="108" r="4.3" fill="url(#gG)"/>
<circle cx="493.5" cy="98.7" r="4.3" fill="url(#gG)"/>
<circle cx="490.6" cy="102.5" r="4.3" fill="url(#gG)"/>
<circle cx="486.7" cy="103.2" r="4.3" fill="url(#gG)"/>
<circle cx="481.1" cy="107.1" r="4.3" fill="url(#gG)"/>
<circle cx="485.9" cy="99.7" r="4.3" fill="url(#gG)"/>
<circle cx="485.6" cy="57.3" r="4.3" fill="url(#gG)"/>
<circle cx="494.1" cy="57.2" r="4.3" fill="url(#gG)"/>
<circle cx="490.2" cy="54.1" r="4.3" fill="url(#gG)"/>
<circle cx="486.3" cy="53.3" r="4.3" fill="url(#gG)"/>
<circle cx="481.3" cy="50.2" r="4.3" fill="url(#gG)"/>
<circle cx="494.5" cy="52.5" r="4.3" fill="url(#gG)"/>
<circle cx="489.5" cy="49.7" r="4.3" fill="url(#gG)"/>
<circle cx="486" cy="47.1" r="4.3" fill="url(#gG)"/>
<circle cx="498.9" cy="50.8" r="4.3" fill="url(#gG)"/>
<circle cx="494.4" cy="48.6" r="4.3" fill="url(#gG)"/>
<circle cx="490.2" cy="45.4" r="4.3" fill="url(#gG)"/>
<circle cx="486.1" cy="43.3" r="4.3" fill="url(#gG)"/>
<circle cx="494.9" cy="43.8" r="4.3" fill="url(#gG)"/>
<circle cx="529.9" cy="79" r="4.3" fill="url(#gG)"/>
<circle cx="534.9" cy="85.9" r="4.3" fill="url(#gG)"/>
<circle cx="535" cy="80.5" r="4.3" fill="url(#gG)"/>
<circle cx="535.1" cy="76.6" r="4.3" fill="url(#gG)"/>
<circle cx="534.8" cy="71.7" r="4.3" fill="url(#gG)"/>
<circle cx="539" cy="82.8" r="4.3" fill="url(#gG)"/>
<circle cx="538.9" cy="77.5" r="4.3" fill="url(#gG)"/>
<circle cx="538.2" cy="73.5" r="4.3" fill="url(#gG)"/>
<circle cx="541.7" cy="85.1" r="4.3" fill="url(#gG)"/>
<circle cx="542.8" cy="80.9" r="4.3" fill="url(#gG)"/>
<circle cx="542.1" cy="76.8" r="4.3" fill="url(#gG)"/>
<circle cx="542.9" cy="71" r="4.3" fill="url(#gG)"/>
<circle cx="546.9" cy="78.4" r="4.3" fill="url(#gG)"/>
<circle cx="552.2" cy="62" r="4.3" fill="url(#gG)"/>
<circle cx="546.9" cy="67.1" r="4.3" fill="url(#gG)"/>
<circle cx="550.7" cy="66.8" r="4.3" fill="url(#gG)"/>
<circle cx="555.7" cy="64.9" r="4.3" fill="url(#gG)"/>
<circle cx="559.4" cy="65.7" r="4.3" fill="url(#gG)"/>
<circle cx="548.2" cy="70.3" r="4.3" fill="url(#gG)"/>
<circle cx="552.2" cy="69.4" r="4.3" fill="url(#gG)"/>
<circle cx="557.2" cy="68.6" r="4.3" fill="url(#gG)"/>
<circle cx="546.4" cy="75.3" r="4.3" fill="url(#gG)"/>
<circle cx="551.4" cy="74" r="4.3" fill="url(#gG)"/>
<circle cx="556.6" cy="73.6" r="4.3" fill="url(#gG)"/>
<circle cx="561" cy="73.2" r="4.3" fill="url(#gG)"/>
<circle cx="554.5" cy="76.8" r="4.3" fill="url(#gG)"/>
<circle cx="572.1" cy="52.7" r="4.3" fill="url(#gG)"/>
<circle cx="563.8" cy="55.6" r="4.3" fill="url(#gG)"/>
<circle cx="568.4" cy="55.6" r="4.3" fill="url(#gG)"/>
<circle cx="572.8" cy="56.4" r="4.3" fill="url(#gG)"/>
<circle cx="578" cy="56.4" r="4.3" fill="url(#gG)"/>
<circle cx="566.9" cy="58.9" r="4.3" fill="url(#gG)"/>
<circle cx="570.6" cy="60" r="4.3" fill="url(#gG)"/>
<circle cx="574.6" cy="60.2" r="4.3" fill="url(#gG)"/>
<circle cx="563.5" cy="62.5" r="4.3" fill="url(#gG)"/>
<circle cx="567.2" cy="63.6" r="4.3" fill="url(#gG)"/>
<circle cx="571.6" cy="63.1" r="4.3" fill="url(#gG)"/>
<circle cx="575.9" cy="64" r="4.3" fill="url(#gG)"/>
<circle cx="568.5" cy="67.9" r="4.3" fill="url(#gG)"/>
<circle cx="561.6" cy="65.6" r="4.3" fill="url(#gG)"/>
<circle cx="546" cy="97.3" r="4.3" fill="url(#gG)"/>
<circle cx="545.5" cy="91.3" r="4.3" fill="url(#gG)"/>
<circle cx="542.2" cy="95.3" r="4.3" fill="url(#gG)"/>
<circle cx="541" cy="98.6" r="4.3" fill="url(#gG)"/>
<circle cx="540.3" cy="102.3" r="4.3" fill="url(#gG)"/>
<circle cx="540.3" cy="91.8" r="4.3" fill="url(#gG)"/>
<circle cx="538.9" cy="95" r="4.3" fill="url(#gG)"/>
<circle cx="537.6" cy="99.8" r="4.3" fill="url(#gG)"/>
<circle cx="537.8" cy="86.8" r="4.3" fill="url(#gG)"/>
<circle cx="536.1" cy="91.5" r="4.3" fill="url(#gG)"/>
<circle cx="533.5" cy="94.8" r="4.3" fill="url(#gG)"/>
<circle cx="532.4" cy="99" r="4.3" fill="url(#gG)"/>
<circle cx="531.3" cy="92.4" r="4.3" fill="url(#gG)"/>
<circle cx="544.3" cy="119.8" r="4.3" fill="url(#gG)"/>
<circle cx="545.9" cy="112.5" r="4.3" fill="url(#gG)"/>
<circle cx="543.4" cy="116.1" r="4.3" fill="url(#gG)"/>
<circle cx="540.9" cy="120.3" r="4.3" fill="url(#gG)"/>
<circle cx="537.5" cy="122.4" r="4.3" fill="url(#gG)"/>
<circle cx="540.7" cy="112.6" r="4.3" fill="url(#gG)"/>
<circle cx="539" cy="115.5" r="4.3" fill="url(#gG)"/>
<circle cx="535.4" cy="118.2" r="4.3" fill="url(#gG)"/>
<circle cx="540.2" cy="107.8" r="4.3" fill="url(#gG)"/>
<circle cx="537.2" cy="111.3" r="4.3" fill="url(#gG)"/>
<circle cx="534.6" cy="113.9" r="4.3" fill="url(#gG)"/>
<circle cx="530.8" cy="118.7" r="4.3" fill="url(#gG)"/>
<circle cx="533.4" cy="111" r="4.3" fill="url(#gG)"/>
<circle cx="537.7" cy="104.4" r="4.3" fill="url(#gG)"/>
<circle cx="517.4" cy="74.4" r="4.3" fill="url(#gG)"/>
<circle cx="525.1" cy="76.8" r="4.3" fill="url(#gG)"/>
<circle cx="522.3" cy="73.2" r="4.3" fill="url(#gG)"/>
<circle cx="518.8" cy="70.7" r="4.3" fill="url(#gG)"/>
<circle cx="517" cy="67.1" r="4.3" fill="url(#gG)"/>
<circle cx="526.4" cy="73.4" r="4.3" fill="url(#gG)"/>
<circle cx="523.4" cy="69.6" r="4.3" fill="url(#gG)"/>
<circle cx="521.7" cy="66.9" r="4.3" fill="url(#gG)"/>
<circle cx="530.3" cy="72.2" r="4.3" fill="url(#gG)"/>
<circle cx="528.9" cy="69.6" r="4.3" fill="url(#gG)"/>
<circle cx="526.2" cy="65.3" r="4.3" fill="url(#gG)"/>
<circle cx="522.9" cy="61.8" r="4.3" fill="url(#gG)"/>
<circle cx="530.7" cy="65" r="4.3" fill="url(#gG)"/>
<circle cx="499.5" cy="63.3" r="4.3" fill="url(#gG)"/>
<circle cx="504.8" cy="67.5" r="4.3" fill="url(#gG)"/>
<circle cx="504.1" cy="64" r="4.3" fill="url(#gG)"/>
<circle cx="502" cy="58.8" r="4.3" fill="url(#gG)"/>
<circle cx="499.9" cy="55.5" r="4.3" fill="url(#gG)"/>
<circle cx="507.2" cy="63.3" r="4.3" fill="url(#gG)"/>
<circle cx="506.6" cy="59.8" r="4.3" fill="url(#gG)"/>
<circle cx="505.3" cy="55.3" r="4.3" fill="url(#gG)"/>
<circle cx="512.9" cy="64" r="4.3" fill="url(#gG)"/>
<circle cx="510.4" cy="60.9" r="4.3" fill="url(#gG)"/>
<circle cx="508.6" cy="56.1" r="4.3" fill="url(#gG)"/>
<circle cx="508.3" cy="52.6" r="4.3" fill="url(#gG)"/>
<circle cx="513.4" cy="56.6" r="4.3" fill="url(#gG)"/>
<circle cx="515" cy="65.3" r="4.3" fill="url(#gG)"/>
<circle cx="548.5" cy="24.6" r="3.1" fill="url(#gB)"/>
<circle cx="579.7" cy="43.1" r="3.1" fill="url(#gB)"/>
<circle cx="560" cy="22.9" r="3.8" fill="url(#gY)"/>
<circle cx="567" cy="50.4" r="3.8" fill="url(#gY)"/>
<circle cx="590" cy="60.3" r="3.1" fill="url(#gB)"/>
<circle cx="589.2" cy="95.8" r="3.1" fill="url(#gB)"/>
<circle cx="598.4" cy="68.9" r="3.8" fill="url(#gY)"/>
<circle cx="575.9" cy="88.2" r="3.8" fill="url(#gY)"/>
<circle cx="579" cy="113.4" r="3.1" fill="url(#gB)"/>
<circle cx="548.5" cy="131.1" r="3.1" fill="url(#gB)"/>
<circle cx="576.3" cy="124.5" r="3.8" fill="url(#gY)"/>
<circle cx="549.2" cy="116.3" r="3.8" fill="url(#gY)"/>
<circle cx="528.9" cy="131.4" r="3.1" fill="url(#gB)"/>
<circle cx="497.1" cy="114.1" r="3.1" fill="url(#gB)"/>
<circle cx="518.4" cy="134.1" r="3.8" fill="url(#gY)"/>
<circle cx="509.9" cy="106.1" r="3.8" fill="url(#gY)"/>
<circle cx="487.6" cy="96.1" r="3.1" fill="url(#gB)"/>
<circle cx="488.3" cy="60.9" r="3.1" fill="url(#gB)"/>
<circle cx="480" cy="87.6" r="3.8" fill="url(#gY)"/>
<circle cx="500.7" cy="68.7" r="3.8" fill="url(#gY)"/>
<circle cx="497" cy="42.2" r="3.1" fill="url(#gB)"/>
<circle cx="528.7" cy="26" r="3.1" fill="url(#gB)"/>
<circle cx="499.4" cy="32.4" r="3.8" fill="url(#gY)"/>
<circle cx="527.7" cy="40.9" r="3.8" fill="url(#gY)"/>
<circle cx="544.8" cy="71.5" r="3.1" fill="url(#gB)"/>
<circle cx="575.5" cy="54.2" r="3.1" fill="url(#gB)"/>
<circle cx="546.3" cy="62.7" r="3.8" fill="url(#gY)"/>
<circle cx="535.8" cy="86.4" r="3.1" fill="url(#gB)"/>
<circle cx="536.8" cy="123.4" r="3.1" fill="url(#gB)"/>
<circle cx="528.4" cy="93.2" r="3.8" fill="url(#gY)"/>
<circle cx="530.4" cy="76.6" r="3.1" fill="url(#gB)"/>
<circle cx="499.2" cy="57.9" r="3.1" fill="url(#gB)"/>
<circle cx="521.2" cy="79.9" r="3.8" fill="url(#gY)"/>
<circle cx="556.9" cy="18.4" r="4.4" fill="url(#gR)"/>
<circle cx="562.5" cy="18.3" r="4.4" fill="url(#gR)"/>
<circle cx="565.3" cy="22.8" r="4.4" fill="url(#gR)"/>
<circle cx="569.3" cy="55.1" r="4.4" fill="url(#gR)"/>
<circle cx="564.2" cy="54.9" r="4.4" fill="url(#gR)"/>
<circle cx="560.9" cy="49.4" r="4.4" fill="url(#gR)"/>
<circle cx="600.2" cy="64.3" r="4.4" fill="url(#gR)"/>
<circle cx="602.6" cy="67.6" r="4.4" fill="url(#gR)"/>
<circle cx="599.2" cy="72.8" r="4.4" fill="url(#gR)"/>
<circle cx="573.9" cy="94" r="4.4" fill="url(#gR)"/>
<circle cx="570.4" cy="88.1" r="4.4" fill="url(#gR)"/>
<circle cx="573.6" cy="83.9" r="4.4" fill="url(#gR)"/>
<circle cx="582.5" cy="123.3" r="4.4" fill="url(#gR)"/>
<circle cx="578.6" cy="128.8" r="4.4" fill="url(#gR)"/>
<circle cx="573.9" cy="129.4" r="4.4" fill="url(#gR)"/>
<circle cx="542.7" cy="116" r="4.4" fill="url(#gR)"/>
<circle cx="545.5" cy="111.2" r="4.4" fill="url(#gR)"/>
<circle cx="551.3" cy="112.4" r="4.4" fill="url(#gR)"/>
<circle cx="520.9" cy="138.3" r="4.4" fill="url(#gR)"/>
<circle cx="514.5" cy="138.6" r="4.4" fill="url(#gR)"/>
<circle cx="512" cy="134.5" r="4.4" fill="url(#gR)"/>
<circle cx="507.4" cy="101.9" r="4.4" fill="url(#gR)"/>
<circle cx="514" cy="101.5" r="4.4" fill="url(#gR)"/>
<circle cx="515.5" cy="107.3" r="4.4" fill="url(#gR)"/>
<circle cx="478" cy="92.9" r="4.4" fill="url(#gR)"/>
<circle cx="474.3" cy="89.2" r="4.4" fill="url(#gR)"/>
<circle cx="477.2" cy="83.2" r="4.4" fill="url(#gR)"/>
<circle cx="501.9" cy="64.2" r="4.4" fill="url(#gR)"/>
<circle cx="506.3" cy="68" r="4.4" fill="url(#gR)"/>
<circle cx="502.8" cy="73" r="4.4" fill="url(#gR)"/>
<circle cx="494.6" cy="33.6" r="4.4" fill="url(#gR)"/>
<circle cx="497.9" cy="27.2" r="4.4" fill="url(#gR)"/>
<circle cx="502.4" cy="27.9" r="4.4" fill="url(#gR)"/>
<circle cx="533.3" cy="40.4" r="4.4" fill="url(#gR)"/>
<circle cx="531.3" cy="45.1" r="4.4" fill="url(#gR)"/>
<circle cx="524.7" cy="44" r="4.4" fill="url(#gR)"/>
<circle cx="548.2" cy="16.1" r="4.3" fill="url(#gR)"/>
<circle cx="529.1" cy="16.5" r="4.3" fill="url(#gR)"/>
<circle cx="538.7" cy="34.8" r="4.3" fill="url(#gR)"/>
<circle cx="596.6" cy="56.2" r="4.3" fill="url(#gR)"/>
<circle cx="586.4" cy="39.2" r="4.3" fill="url(#gR)"/>
<circle cx="586.1" cy="118.5" r="4.3" fill="url(#gR)"/>
<circle cx="597.7" cy="101.1" r="4.3" fill="url(#gR)"/>
<circle cx="576.2" cy="100.1" r="4.3" fill="url(#gR)"/>
<circle cx="528.8" cy="139.4" r="4.3" fill="url(#gR)"/>
<circle cx="548.5" cy="140" r="4.3" fill="url(#gR)"/>
<circle cx="480.8" cy="100.7" r="4.3" fill="url(#gR)"/>
<circle cx="490.6" cy="117.5" r="4.3" fill="url(#gR)"/>
<circle cx="500.6" cy="100.4" r="4.3" fill="url(#gR)"/>
<circle cx="490.8" cy="38" r="4.3" fill="url(#gR)"/>
<circle cx="480.5" cy="55.6" r="4.3" fill="url(#gR)"/>
<circle cx="548.6" cy="72.5" r="4.3" fill="url(#gR)"/>
<circle cx="527.8" cy="73.1" r="4.3" fill="url(#gR)"/>
<circle cx="538.2" cy="89.6" r="4.3" fill="url(#gR)"/>
<circle cx="540.3" cy="62.4" r="4.4" fill="url(#gR)"/>
<circle cx="543.6" cy="58.1" r="4.4" fill="url(#gR)"/>
<circle cx="549.1" cy="58.3" r="4.4" fill="url(#gR)"/>
<circle cx="525.6" cy="97.7" r="4.4" fill="url(#gR)"/>
<circle cx="523.2" cy="93.9" r="4.4" fill="url(#gR)"/>
<circle cx="526.9" cy="88.6" r="4.4" fill="url(#gR)"/>
<circle cx="522.8" cy="83.6" r="4.4" fill="url(#gR)"/>
<circle cx="518.4" cy="83.7" r="4.4" fill="url(#gR)"/>
<circle cx="515.6" cy="79" r="4.4" fill="url(#gR)"/></g>
<g transform="translate(-106,0.9)"><g><path d="M106.9,252.7C108.9,251.4 115.2,247.9 118.9,244.9C122.6,241.9 126.4,237.8 129.3,234.6C132.2,231.4 134.2,228.8 136.2,226C138.1,223.2 139.1,220.4 141,218C142.9,215.6 145.2,213.4 147.9,211.6C150.6,209.8 153.5,208.1 156.9,207.1C160.3,206.1 164.8,205.8 168.5,205.8C172.2,205.8 175.4,206 178.8,207.1C182.2,208.2 186.3,210.2 189.1,212.2C191.9,214.2 194.1,217 195.6,219.3C197.1,221.6 197.7,223.7 197.8,225.8C197.9,228 196.9,230.6 196.2,232.2C195.5,233.8 194,234.9 193.6,235.4L190,241 L106.9,252.7Z" fill="#04a7ee" stroke="none"/><g fill="none" stroke="#0a0a0a" stroke-width="1.45" stroke-linecap="round" stroke-linejoin="round"><path d="M106.9,252.7C108.9,251.4 115.2,247.9 118.9,244.9C122.6,241.9 126.4,237.8 129.3,234.6C132.2,231.4 134.2,228.8 136.2,226C138.1,223.2 139.1,220.4 141,218C142.9,215.6 145.2,213.4 147.9,211.6C150.6,209.8 153.5,208.1 156.9,207.1C160.3,206.1 164.8,205.8 168.5,205.8C172.2,205.8 175.4,206 178.8,207.1C182.2,208.2 186.3,210.2 189.1,212.2C191.9,214.2 194.1,217 195.6,219.3C197.1,221.6 197.7,223.7 197.8,225.8C197.9,228 196.9,230.6 196.2,232.2C195.5,233.8 194,234.9 193.6,235.4"/><path d="M142.7,242.5C142.5,240.8 141,235.6 141.4,232.2C141.8,228.8 143.4,224.9 145.3,221.9C147.2,218.9 150,216.1 153,214.2C156,212.3 159.8,211 163.4,210.3C167.1,209.7 171.5,209.7 174.9,210.3C178.3,211 181.4,212.5 184,214.2C186.6,215.9 189.1,218.5 190.4,220.6C191.7,222.7 191.9,225.1 191.7,227C191.5,228.9 190.4,230.9 189.1,232.2C187.8,233.5 185.8,234.5 184,234.8C182.2,235.1 180.1,234.7 178.5,234C176.9,233.3 174.9,231.8 174.2,230.5C173.5,229.2 173.6,227.2 174.2,226C174.8,224.8 176.1,223.6 177.5,223.3C178.9,223 181.7,224.1 182.5,224.3"/><path d="M150.5,247.7C150.1,246.2 148.1,241.9 147.9,238.7C147.7,235.5 148.1,231.4 149.2,228.4C150.3,225.4 152.2,222.8 154.3,220.6C156.5,218.4 159.1,216.6 162.1,215.5C165.1,214.4 169.4,214 172.4,214.2C175.4,214.4 178.1,215.7 180.1,216.8C182.1,217.9 183.6,219.2 184.6,220.6C185.6,222 185.9,224.3 186.2,225"/><path d="M167.2,248.3C165.9,247.3 161.4,244.8 159.5,242.5C157.6,240.2 156.1,237.4 155.6,234.8C155.1,232.2 155.2,229.5 156.3,227.1C157.4,224.7 159.8,222.1 162.1,220.6C164.3,219.1 167.5,218.3 169.8,218C172.1,217.7 175,218.5 176,218.6"/><path d="M173.7,241.2C172.4,240.3 167.5,238 165.9,236.1C164.3,234.2 163.8,231.5 164,229.6C164.2,227.7 165.8,225.7 167.2,224.5C168.6,223.3 171.6,222.9 172.5,222.6"/><path d="M177.5,241.2C178.6,241 181.8,240.1 184,239.8C186.2,239.5 188.2,239.2 190.4,239.3C192.6,239.4 195.1,240 197,240.5C198.9,241 201.2,242.2 202,242.5"/><path d="M184,244.5C184.8,244.4 187,244 188.5,243.9C190,243.8 192.2,243.8 193,243.8"/><path d="M184,248.3C185.3,248.5 189.4,249.2 191.7,249.6C194,250 196.1,250.5 198,250.8C199.9,251.1 202.4,251.4 203.3,251.5"/><path d="M146.6,249.6C147.5,250 150.1,251.3 152,251.8C153.9,252.3 155.4,252.9 158.2,252.8C160.9,252.8 165.3,252.2 168.5,251.5C171.7,250.8 176,248.8 177.5,248.3"/></g></g></g>
<g transform="translate(-0.4,0.9)"><g><path d="M106.9,252.7C108.9,251.4 115.2,247.9 118.9,244.9C122.6,241.9 126.4,237.8 129.3,234.6C132.2,231.4 134.2,228.8 136.2,226C138.1,223.2 139.1,220.4 141,218C142.9,215.6 145.2,213.4 147.9,211.6C150.6,209.8 153.5,208.1 156.9,207.1C160.3,206.1 164.8,205.8 168.5,205.8C172.2,205.8 175.4,206 178.8,207.1C182.2,208.2 186.3,210.2 189.1,212.2C191.9,214.2 194.1,217 195.6,219.3C197.1,221.6 197.7,223.7 197.8,225.8C197.9,228 196.9,230.6 196.2,232.2C195.5,233.8 194,234.9 193.6,235.4L190,241 L106.9,252.7Z" fill="#04a7ee" stroke="none"/><g fill="none" stroke="#0a0a0a" stroke-width="1.45" stroke-linecap="round" stroke-linejoin="round"><path d="M106.9,252.7C108.9,251.4 115.2,247.9 118.9,244.9C122.6,241.9 126.4,237.8 129.3,234.6C132.2,231.4 134.2,228.8 136.2,226C138.1,223.2 139.1,220.4 141,218C142.9,215.6 145.2,213.4 147.9,211.6C150.6,209.8 153.5,208.1 156.9,207.1C160.3,206.1 164.8,205.8 168.5,205.8C172.2,205.8 175.4,206 178.8,207.1C182.2,208.2 186.3,210.2 189.1,212.2C191.9,214.2 194.1,217 195.6,219.3C197.1,221.6 197.7,223.7 197.8,225.8C197.9,228 196.9,230.6 196.2,232.2C195.5,233.8 194,234.9 193.6,235.4"/><path d="M142.7,242.5C142.5,240.8 141,235.6 141.4,232.2C141.8,228.8 143.4,224.9 145.3,221.9C147.2,218.9 150,216.1 153,214.2C156,212.3 159.8,211 163.4,210.3C167.1,209.7 171.5,209.7 174.9,210.3C178.3,211 181.4,212.5 184,214.2C186.6,215.9 189.1,218.5 190.4,220.6C191.7,222.7 191.9,225.1 191.7,227C191.5,228.9 190.4,230.9 189.1,232.2C187.8,233.5 185.8,234.5 184,234.8C182.2,235.1 180.1,234.7 178.5,234C176.9,233.3 174.9,231.8 174.2,230.5C173.5,229.2 173.6,227.2 174.2,226C174.8,224.8 176.1,223.6 177.5,223.3C178.9,223 181.7,224.1 182.5,224.3"/><path d="M150.5,247.7C150.1,246.2 148.1,241.9 147.9,238.7C147.7,235.5 148.1,231.4 149.2,228.4C150.3,225.4 152.2,222.8 154.3,220.6C156.5,218.4 159.1,216.6 162.1,215.5C165.1,214.4 169.4,214 172.4,214.2C175.4,214.4 178.1,215.7 180.1,216.8C182.1,217.9 183.6,219.2 184.6,220.6C185.6,222 185.9,224.3 186.2,225"/><path d="M167.2,248.3C165.9,247.3 161.4,244.8 159.5,242.5C157.6,240.2 156.1,237.4 155.6,234.8C155.1,232.2 155.2,229.5 156.3,227.1C157.4,224.7 159.8,222.1 162.1,220.6C164.3,219.1 167.5,218.3 169.8,218C172.1,217.7 175,218.5 176,218.6"/><path d="M173.7,241.2C172.4,240.3 167.5,238 165.9,236.1C164.3,234.2 163.8,231.5 164,229.6C164.2,227.7 165.8,225.7 167.2,224.5C168.6,223.3 171.6,222.9 172.5,222.6"/><path d="M177.5,241.2C178.6,241 181.8,240.1 184,239.8C186.2,239.5 188.2,239.2 190.4,239.3C192.6,239.4 195.1,240 197,240.5C198.9,241 201.2,242.2 202,242.5"/><path d="M184,244.5C184.8,244.4 187,244 188.5,243.9C190,243.8 192.2,243.8 193,243.8"/><path d="M184,248.3C185.3,248.5 189.4,249.2 191.7,249.6C194,250 196.1,250.5 198,250.8C199.9,251.1 202.4,251.4 203.3,251.5"/><path d="M146.6,249.6C147.5,250 150.1,251.3 152,251.8C153.9,252.3 155.4,252.9 158.2,252.8C160.9,252.8 165.3,252.2 168.5,251.5C171.7,250.8 176,248.8 177.5,248.3"/></g></g></g>
<g transform="translate(305,1.3)"><g><path d="M106.9,252.7C108.9,251.4 115.2,247.9 118.9,244.9C122.6,241.9 126.4,237.8 129.3,234.6C132.2,231.4 134.2,228.8 136.2,226C138.1,223.2 139.1,220.4 141,218C142.9,215.6 145.2,213.4 147.9,211.6C150.6,209.8 153.5,208.1 156.9,207.1C160.3,206.1 164.8,205.8 168.5,205.8C172.2,205.8 175.4,206 178.8,207.1C182.2,208.2 186.3,210.2 189.1,212.2C191.9,214.2 194.1,217 195.6,219.3C197.1,221.6 197.7,223.7 197.8,225.8C197.9,228 196.9,230.6 196.2,232.2C195.5,233.8 194,234.9 193.6,235.4L190,241 L106.9,252.7Z" fill="#04a7ee" stroke="none"/><g fill="none" stroke="#0a0a0a" stroke-width="1.45" stroke-linecap="round" stroke-linejoin="round"><path d="M106.9,252.7C108.9,251.4 115.2,247.9 118.9,244.9C122.6,241.9 126.4,237.8 129.3,234.6C132.2,231.4 134.2,228.8 136.2,226C138.1,223.2 139.1,220.4 141,218C142.9,215.6 145.2,213.4 147.9,211.6C150.6,209.8 153.5,208.1 156.9,207.1C160.3,206.1 164.8,205.8 168.5,205.8C172.2,205.8 175.4,206 178.8,207.1C182.2,208.2 186.3,210.2 189.1,212.2C191.9,214.2 194.1,217 195.6,219.3C197.1,221.6 197.7,223.7 197.8,225.8C197.9,228 196.9,230.6 196.2,232.2C195.5,233.8 194,234.9 193.6,235.4"/><path d="M142.7,242.5C142.5,240.8 141,235.6 141.4,232.2C141.8,228.8 143.4,224.9 145.3,221.9C147.2,218.9 150,216.1 153,214.2C156,212.3 159.8,211 163.4,210.3C167.1,209.7 171.5,209.7 174.9,210.3C178.3,211 181.4,212.5 184,214.2C186.6,215.9 189.1,218.5 190.4,220.6C191.7,222.7 191.9,225.1 191.7,227C191.5,228.9 190.4,230.9 189.1,232.2C187.8,233.5 185.8,234.5 184,234.8C182.2,235.1 180.1,234.7 178.5,234C176.9,233.3 174.9,231.8 174.2,230.5C173.5,229.2 173.6,227.2 174.2,226C174.8,224.8 176.1,223.6 177.5,223.3C178.9,223 181.7,224.1 182.5,224.3"/><path d="M150.5,247.7C150.1,246.2 148.1,241.9 147.9,238.7C147.7,235.5 148.1,231.4 149.2,228.4C150.3,225.4 152.2,222.8 154.3,220.6C156.5,218.4 159.1,216.6 162.1,215.5C165.1,214.4 169.4,214 172.4,214.2C175.4,214.4 178.1,215.7 180.1,216.8C182.1,217.9 183.6,219.2 184.6,220.6C185.6,222 185.9,224.3 186.2,225"/><path d="M167.2,248.3C165.9,247.3 161.4,244.8 159.5,242.5C157.6,240.2 156.1,237.4 155.6,234.8C155.1,232.2 155.2,229.5 156.3,227.1C157.4,224.7 159.8,222.1 162.1,220.6C164.3,219.1 167.5,218.3 169.8,218C172.1,217.7 175,218.5 176,218.6"/><path d="M173.7,241.2C172.4,240.3 167.5,238 165.9,236.1C164.3,234.2 163.8,231.5 164,229.6C164.2,227.7 165.8,225.7 167.2,224.5C168.6,223.3 171.6,222.9 172.5,222.6"/><path d="M177.5,241.2C178.6,241 181.8,240.1 184,239.8C186.2,239.5 188.2,239.2 190.4,239.3C192.6,239.4 195.1,240 197,240.5C198.9,241 201.2,242.2 202,242.5"/><path d="M184,244.5C184.8,244.4 187,244 188.5,243.9C190,243.8 192.2,243.8 193,243.8"/><path d="M184,248.3C185.3,248.5 189.4,249.2 191.7,249.6C194,250 196.1,250.5 198,250.8C199.9,251.1 202.4,251.4 203.3,251.5"/><path d="M146.6,249.6C147.5,250 150.1,251.3 152,251.8C153.9,252.3 155.4,252.9 158.2,252.8C160.9,252.8 165.3,252.2 168.5,251.5C171.7,250.8 176,248.8 177.5,248.3"/></g></g></g>
<g transform="translate(415,0.4)"><g><path d="M106.9,252.7C108.9,251.4 115.2,247.9 118.9,244.9C122.6,241.9 126.4,237.8 129.3,234.6C132.2,231.4 134.2,228.8 136.2,226C138.1,223.2 139.1,220.4 141,218C142.9,215.6 145.2,213.4 147.9,211.6C150.6,209.8 153.5,208.1 156.9,207.1C160.3,206.1 164.8,205.8 168.5,205.8C172.2,205.8 175.4,206 178.8,207.1C182.2,208.2 186.3,210.2 189.1,212.2C191.9,214.2 194.1,217 195.6,219.3C197.1,221.6 197.7,223.7 197.8,225.8C197.9,228 196.9,230.6 196.2,232.2C195.5,233.8 194,234.9 193.6,235.4L190,241 L106.9,252.7Z" fill="#04a7ee" stroke="none"/><g fill="none" stroke="#0a0a0a" stroke-width="1.45" stroke-linecap="round" stroke-linejoin="round"><path d="M106.9,252.7C108.9,251.4 115.2,247.9 118.9,244.9C122.6,241.9 126.4,237.8 129.3,234.6C132.2,231.4 134.2,228.8 136.2,226C138.1,223.2 139.1,220.4 141,218C142.9,215.6 145.2,213.4 147.9,211.6C150.6,209.8 153.5,208.1 156.9,207.1C160.3,206.1 164.8,205.8 168.5,205.8C172.2,205.8 175.4,206 178.8,207.1C182.2,208.2 186.3,210.2 189.1,212.2C191.9,214.2 194.1,217 195.6,219.3C197.1,221.6 197.7,223.7 197.8,225.8C197.9,228 196.9,230.6 196.2,232.2C195.5,233.8 194,234.9 193.6,235.4"/><path d="M142.7,242.5C142.5,240.8 141,235.6 141.4,232.2C141.8,228.8 143.4,224.9 145.3,221.9C147.2,218.9 150,216.1 153,214.2C156,212.3 159.8,211 163.4,210.3C167.1,209.7 171.5,209.7 174.9,210.3C178.3,211 181.4,212.5 184,214.2C186.6,215.9 189.1,218.5 190.4,220.6C191.7,222.7 191.9,225.1 191.7,227C191.5,228.9 190.4,230.9 189.1,232.2C187.8,233.5 185.8,234.5 184,234.8C182.2,235.1 180.1,234.7 178.5,234C176.9,233.3 174.9,231.8 174.2,230.5C173.5,229.2 173.6,227.2 174.2,226C174.8,224.8 176.1,223.6 177.5,223.3C178.9,223 181.7,224.1 182.5,224.3"/><path d="M150.5,247.7C150.1,246.2 148.1,241.9 147.9,238.7C147.7,235.5 148.1,231.4 149.2,228.4C150.3,225.4 152.2,222.8 154.3,220.6C156.5,218.4 159.1,216.6 162.1,215.5C165.1,214.4 169.4,214 172.4,214.2C175.4,214.4 178.1,215.7 180.1,216.8C182.1,217.9 183.6,219.2 184.6,220.6C185.6,222 185.9,224.3 186.2,225"/><path d="M167.2,248.3C165.9,247.3 161.4,244.8 159.5,242.5C157.6,240.2 156.1,237.4 155.6,234.8C155.1,232.2 155.2,229.5 156.3,227.1C157.4,224.7 159.8,222.1 162.1,220.6C164.3,219.1 167.5,218.3 169.8,218C172.1,217.7 175,218.5 176,218.6"/><path d="M173.7,241.2C172.4,240.3 167.5,238 165.9,236.1C164.3,234.2 163.8,231.5 164,229.6C164.2,227.7 165.8,225.7 167.2,224.5C168.6,223.3 171.6,222.9 172.5,222.6"/><path d="M177.5,241.2C178.6,241 181.8,240.1 184,239.8C186.2,239.5 188.2,239.2 190.4,239.3C192.6,239.4 195.1,240 197,240.5C198.9,241 201.2,242.2 202,242.5"/><path d="M184,244.5C184.8,244.4 187,244 188.5,243.9C190,243.8 192.2,243.8 193,243.8"/><path d="M184,248.3C185.3,248.5 189.4,249.2 191.7,249.6C194,250 196.1,250.5 198,250.8C199.9,251.1 202.4,251.4 203.3,251.5"/><path d="M146.6,249.6C147.5,250 150.1,251.3 152,251.8C153.9,252.3 155.4,252.9 158.2,252.8C160.9,252.8 165.3,252.2 168.5,251.5C171.7,250.8 176,248.8 177.5,248.3"/></g></g></g>
<g id="cageC" opacity="0.93" transform="translate(308.3,246.6) scale(1,1.025)"><circle cx="34.8" cy="-59" r="4.8" fill="url(#gGf)"/>
<circle cx="37.7" cy="-55.1" r="4.8" fill="url(#gGf)"/>
<circle cx="39" cy="-50.8" r="4.8" fill="url(#gGf)"/>
<circle cx="29.7" cy="-59.4" r="4.8" fill="url(#gGf)"/>
<circle cx="32.6" cy="-54.7" r="4.8" fill="url(#gGf)"/>
<circle cx="33.7" cy="-51.5" r="4.8" fill="url(#gGf)"/>
<circle cx="35.8" cy="-46.5" r="4.8" fill="url(#gGf)"/>
<circle cx="26" cy="-60.5" r="4.8" fill="url(#gGf)"/>
<circle cx="28.6" cy="-54.7" r="4.8" fill="url(#gGf)"/>
<circle cx="30.1" cy="-51.2" r="4.8" fill="url(#gGf)"/>
<circle cx="31.3" cy="-48.2" r="4.8" fill="url(#gGf)"/>
<circle cx="34" cy="-44" r="4.8" fill="url(#gGf)"/>
<circle cx="22.6" cy="-56.2" r="4.8" fill="url(#gGf)"/>
<circle cx="24.4" cy="-51.7" r="4.8" fill="url(#gGf)"/>
<circle cx="27.2" cy="-47" r="4.8" fill="url(#gGf)"/>
<circle cx="29.4" cy="-43.2" r="4.8" fill="url(#gGf)"/>
<circle cx="20.6" cy="-51.6" r="4.8" fill="url(#gGf)"/>
<circle cx="22.6" cy="-48.2" r="4.8" fill="url(#gGf)"/>
<circle cx="25.7" cy="-42.8" r="4.8" fill="url(#gGf)"/>
<circle cx="53.2" cy="-43.8" r="4.8" fill="url(#gGf)"/>
<circle cx="53" cy="-40.1" r="4.8" fill="url(#gGf)"/>
<circle cx="53.7" cy="-35.9" r="4.8" fill="url(#gGf)"/>
<circle cx="48.7" cy="-46" r="4.8" fill="url(#gGf)"/>
<circle cx="49.6" cy="-41.4" r="4.8" fill="url(#gGf)"/>
<circle cx="50.6" cy="-36.1" r="4.8" fill="url(#gGf)"/>
<circle cx="49.6" cy="-32.7" r="4.8" fill="url(#gGf)"/>
<circle cx="44.7" cy="-47.4" r="4.8" fill="url(#gGf)"/>
<circle cx="45.6" cy="-43" r="4.8" fill="url(#gGf)"/>
<circle cx="44.7" cy="-38.1" r="4.8" fill="url(#gGf)"/>
<circle cx="46.7" cy="-34.2" r="4.8" fill="url(#gGf)"/>
<circle cx="46.3" cy="-29.5" r="4.8" fill="url(#gGf)"/>
<circle cx="41.2" cy="-44" r="4.8" fill="url(#gGf)"/>
<circle cx="40.5" cy="-40.4" r="4.8" fill="url(#gGf)"/>
<circle cx="41.2" cy="-36.2" r="4.8" fill="url(#gGf)"/>
<circle cx="43.2" cy="-31.4" r="4.8" fill="url(#gGf)"/>
<circle cx="36.9" cy="-41.6" r="4.8" fill="url(#gGf)"/>
<circle cx="37" cy="-36.5" r="4.8" fill="url(#gGf)"/>
<circle cx="37.7" cy="-32.2" r="4.8" fill="url(#gGf)"/>
<circle cx="37" cy="-45" r="4.8" fill="url(#gGf)"/>
<circle cx="70.7" cy="-1.5" r="4.8" fill="url(#gGf)"/>
<circle cx="69.7" cy="3.4" r="4.8" fill="url(#gGf)"/>
<circle cx="66.2" cy="7.5" r="4.8" fill="url(#gGf)"/>
<circle cx="68.4" cy="-5.3" r="4.8" fill="url(#gGf)"/>
<circle cx="67.2" cy="-0.9" r="4.8" fill="url(#gGf)"/>
<circle cx="63.6" cy="3.7" r="4.8" fill="url(#gGf)"/>
<circle cx="61.5" cy="6.4" r="4.8" fill="url(#gGf)"/>
<circle cx="67.1" cy="-9.4" r="4.8" fill="url(#gGf)"/>
<circle cx="63.9" cy="-5.9" r="4.8" fill="url(#gGf)"/>
<circle cx="61.3" cy="-1" r="4.8" fill="url(#gGf)"/>
<circle cx="59.2" cy="3" r="4.8" fill="url(#gGf)"/>
<circle cx="57.2" cy="6.7" r="4.8" fill="url(#gGf)"/>
<circle cx="62.9" cy="-9.1" r="4.8" fill="url(#gGf)"/>
<circle cx="59.8" cy="-4.5" r="4.8" fill="url(#gGf)"/>
<circle cx="56.8" cy="-1.8" r="4.8" fill="url(#gGf)"/>
<circle cx="55.8" cy="3.4" r="4.8" fill="url(#gGf)"/>
<circle cx="57" cy="-9.7" r="4.8" fill="url(#gGf)"/>
<circle cx="55.5" cy="-4.3" r="4.8" fill="url(#gGf)"/>
<circle cx="52.3" cy="-0.3" r="4.8" fill="url(#gGf)"/>
<circle cx="69.4" cy="19" r="4.8" fill="url(#gGf)"/>
<circle cx="65.1" cy="21.2" r="4.8" fill="url(#gGf)"/>
<circle cx="61.1" cy="25.9" r="4.8" fill="url(#gGf)"/>
<circle cx="67.2" cy="14.7" r="4.8" fill="url(#gGf)"/>
<circle cx="63.8" cy="18.1" r="4.8" fill="url(#gGf)"/>
<circle cx="61.1" cy="20.2" r="4.8" fill="url(#gGf)"/>
<circle cx="56.9" cy="24.1" r="4.8" fill="url(#gGf)"/>
<circle cx="65.9" cy="9.4" r="4.8" fill="url(#gGf)"/>
<circle cx="63.4" cy="13.6" r="4.8" fill="url(#gGf)"/>
<circle cx="60.1" cy="15.7" r="4.8" fill="url(#gGf)"/>
<circle cx="57.3" cy="18.7" r="4.8" fill="url(#gGf)"/>
<circle cx="52.3" cy="21.9" r="4.8" fill="url(#gGf)"/>
<circle cx="62.2" cy="7.7" r="4.8" fill="url(#gGf)"/>
<circle cx="58.3" cy="11.4" r="4.8" fill="url(#gGf)"/>
<circle cx="55.6" cy="14.1" r="4.8" fill="url(#gGf)"/>
<circle cx="51.9" cy="18.6" r="4.8" fill="url(#gGf)"/>
<circle cx="58.7" cy="7.4" r="4.8" fill="url(#gGf)"/>
<circle cx="54.8" cy="10.4" r="4.8" fill="url(#gGf)"/>
<circle cx="50.5" cy="12.5" r="4.8" fill="url(#gGf)"/>
<circle cx="60.1" cy="8.2" r="4.8" fill="url(#gGf)"/>
<circle cx="41.2" cy="56.7" r="4.8" fill="url(#gGf)"/>
<circle cx="35.4" cy="56.4" r="4.8" fill="url(#gGf)"/>
<circle cx="31.6" cy="56.9" r="4.8" fill="url(#gGf)"/>
<circle cx="42.5" cy="52.6" r="4.8" fill="url(#gGf)"/>
<circle cx="37.5" cy="52.1" r="4.8" fill="url(#gGf)"/>
<circle cx="34.1" cy="53.1" r="4.8" fill="url(#gGf)"/>
<circle cx="29.5" cy="53" r="4.8" fill="url(#gGf)"/>
<circle cx="45.4" cy="48.3" r="4.8" fill="url(#gGf)"/>
<circle cx="40" cy="48.2" r="4.8" fill="url(#gGf)"/>
<circle cx="36.4" cy="48.9" r="4.8" fill="url(#gGf)"/>
<circle cx="30.9" cy="49.1" r="4.8" fill="url(#gGf)"/>
<circle cx="27.2" cy="49" r="4.8" fill="url(#gGf)"/>
<circle cx="42.5" cy="43.6" r="4.8" fill="url(#gGf)"/>
<circle cx="37.9" cy="44.3" r="4.8" fill="url(#gGf)"/>
<circle cx="32.4" cy="44.7" r="4.8" fill="url(#gGf)"/>
<circle cx="29.4" cy="45.4" r="4.8" fill="url(#gGf)"/>
<circle cx="40.1" cy="39.8" r="4.8" fill="url(#gGf)"/>
<circle cx="35.6" cy="40.4" r="4.8" fill="url(#gGf)"/>
<circle cx="30.5" cy="41.2" r="4.8" fill="url(#gGf)"/>
<circle cx="19.9" cy="66.5" r="4.8" fill="url(#gGf)"/>
<circle cx="15.4" cy="65.2" r="4.8" fill="url(#gGf)"/>
<circle cx="11.7" cy="63.4" r="4.8" fill="url(#gGf)"/>
<circle cx="24.2" cy="62.7" r="4.8" fill="url(#gGf)"/>
<circle cx="19.6" cy="62.4" r="4.8" fill="url(#gGf)"/>
<circle cx="14.4" cy="59.7" r="4.8" fill="url(#gGf)"/>
<circle cx="10" cy="59.8" r="4.8" fill="url(#gGf)"/>
<circle cx="26.5" cy="58.7" r="4.8" fill="url(#gGf)"/>
<circle cx="23.2" cy="58.6" r="4.8" fill="url(#gGf)"/>
<circle cx="17.9" cy="57.9" r="4.8" fill="url(#gGf)"/>
<circle cx="13.2" cy="56.5" r="4.8" fill="url(#gGf)"/>
<circle cx="8.5" cy="55" r="4.8" fill="url(#gGf)"/>
<circle cx="26.2" cy="55.7" r="4.8" fill="url(#gGf)"/>
<circle cx="21.9" cy="53.7" r="4.8" fill="url(#gGf)"/>
<circle cx="16.9" cy="52.5" r="4.8" fill="url(#gGf)"/>
<circle cx="11.6" cy="51.7" r="4.8" fill="url(#gGf)"/>
<circle cx="25" cy="51.1" r="4.8" fill="url(#gGf)"/>
<circle cx="20.2" cy="50.3" r="4.8" fill="url(#gGf)"/>
<circle cx="15" cy="47.8" r="4.8" fill="url(#gGf)"/>
<circle cx="26.8" cy="52.3" r="4.8" fill="url(#gGf)"/>
<circle cx="-29.7" cy="61" r="4.8" fill="url(#gGf)"/>
<circle cx="-31.4" cy="57.2" r="4.8" fill="url(#gGf)"/>
<circle cx="-34.3" cy="53.9" r="4.8" fill="url(#gGf)"/>
<circle cx="-23.7" cy="61" r="4.8" fill="url(#gGf)"/>
<circle cx="-27.8" cy="56.3" r="4.8" fill="url(#gGf)"/>
<circle cx="-28.7" cy="52.4" r="4.8" fill="url(#gGf)"/>
<circle cx="-31.4" cy="49.4" r="4.8" fill="url(#gGf)"/>
<circle cx="-20.3" cy="61.5" r="4.8" fill="url(#gGf)"/>
<circle cx="-23.3" cy="56.4" r="4.8" fill="url(#gGf)"/>
<circle cx="-24.9" cy="52.2" r="4.8" fill="url(#gGf)"/>
<circle cx="-26.6" cy="48.7" r="4.8" fill="url(#gGf)"/>
<circle cx="-30.2" cy="44.4" r="4.8" fill="url(#gGf)"/>
<circle cx="-17.6" cy="56.8" r="4.8" fill="url(#gGf)"/>
<circle cx="-20" cy="53.3" r="4.8" fill="url(#gGf)"/>
<circle cx="-22" cy="49.9" r="4.8" fill="url(#gGf)"/>
<circle cx="-24.7" cy="44.6" r="4.8" fill="url(#gGf)"/>
<circle cx="-15.6" cy="52.3" r="4.8" fill="url(#gGf)"/>
<circle cx="-18.9" cy="48.9" r="4.8" fill="url(#gGf)"/>
<circle cx="-20" cy="44.4" r="4.8" fill="url(#gGf)"/>
<circle cx="-49.1" cy="46.9" r="4.8" fill="url(#gGf)"/>
<circle cx="-49.5" cy="42.7" r="4.8" fill="url(#gGf)"/>
<circle cx="-50.8" cy="38.7" r="4.8" fill="url(#gGf)"/>
<circle cx="-44.5" cy="48.9" r="4.8" fill="url(#gGf)"/>
<circle cx="-44.7" cy="43.2" r="4.8" fill="url(#gGf)"/>
<circle cx="-45.8" cy="39.9" r="4.8" fill="url(#gGf)"/>
<circle cx="-48.3" cy="34.9" r="4.8" fill="url(#gGf)"/>
<circle cx="-39.6" cy="50.4" r="4.8" fill="url(#gGf)"/>
<circle cx="-41.2" cy="45.3" r="4.8" fill="url(#gGf)"/>
<circle cx="-41.4" cy="41.3" r="4.8" fill="url(#gGf)"/>
<circle cx="-42.5" cy="36.2" r="4.8" fill="url(#gGf)"/>
<circle cx="-44.1" cy="31.3" r="4.8" fill="url(#gGf)"/>
<circle cx="-36.2" cy="47" r="4.8" fill="url(#gGf)"/>
<circle cx="-37.4" cy="42.4" r="4.8" fill="url(#gGf)"/>
<circle cx="-39.3" cy="38.2" r="4.8" fill="url(#gGf)"/>
<circle cx="-39.1" cy="33.9" r="4.8" fill="url(#gGf)"/>
<circle cx="-33.2" cy="43.8" r="4.8" fill="url(#gGf)"/>
<circle cx="-34.7" cy="39.5" r="4.8" fill="url(#gGf)"/>
<circle cx="-34.9" cy="34" r="4.8" fill="url(#gGf)"/>
<circle cx="-34.2" cy="46.8" r="4.8" fill="url(#gGf)"/>
<circle cx="-69.3" cy="2.3" r="4.8" fill="url(#gGf)"/>
<circle cx="-67.1" cy="-3" r="4.8" fill="url(#gGf)"/>
<circle cx="-64.2" cy="-6.9" r="4.8" fill="url(#gGf)"/>
<circle cx="-66.6" cy="5.2" r="4.8" fill="url(#gGf)"/>
<circle cx="-65.1" cy="2.4" r="4.8" fill="url(#gGf)"/>
<circle cx="-63.1" cy="-2.7" r="4.8" fill="url(#gGf)"/>
<circle cx="-60.1" cy="-5.7" r="4.8" fill="url(#gGf)"/>
<circle cx="-64.3" cy="10.2" r="4.8" fill="url(#gGf)"/>
<circle cx="-61.8" cy="5.9" r="4.8" fill="url(#gGf)"/>
<circle cx="-59.4" cy="1.2" r="4.8" fill="url(#gGf)"/>
<circle cx="-58.4" cy="-2" r="4.8" fill="url(#gGf)"/>
<circle cx="-55.9" cy="-5.6" r="4.8" fill="url(#gGf)"/>
<circle cx="-60.1" cy="9.9" r="4.8" fill="url(#gGf)"/>
<circle cx="-57.4" cy="6" r="4.8" fill="url(#gGf)"/>
<circle cx="-56" cy="1.7" r="4.8" fill="url(#gGf)"/>
<circle cx="-52.7" cy="-1.3" r="4.8" fill="url(#gGf)"/>
<circle cx="-56.2" cy="10.6" r="4.8" fill="url(#gGf)"/>
<circle cx="-52.5" cy="6" r="4.8" fill="url(#gGf)"/>
<circle cx="-50.9" cy="1.5" r="4.8" fill="url(#gGf)"/>
<circle cx="-66.4" cy="-20.2" r="4.8" fill="url(#gGf)"/>
<circle cx="-62.8" cy="-24.2" r="4.8" fill="url(#gGf)"/>
<circle cx="-58.8" cy="-26.4" r="4.8" fill="url(#gGf)"/>
<circle cx="-65.6" cy="-15.2" r="4.8" fill="url(#gGf)"/>
<circle cx="-61.9" cy="-18.9" r="4.8" fill="url(#gGf)"/>
<circle cx="-58.3" cy="-22.7" r="4.8" fill="url(#gGf)"/>
<circle cx="-55.2" cy="-25.2" r="4.8" fill="url(#gGf)"/>
<circle cx="-63.7" cy="-10.5" r="4.8" fill="url(#gGf)"/>
<circle cx="-61.5" cy="-14.4" r="4.8" fill="url(#gGf)"/>
<circle cx="-58.4" cy="-17.6" r="4.8" fill="url(#gGf)"/>
<circle cx="-53.7" cy="-19.8" r="4.8" fill="url(#gGf)"/>
<circle cx="-50.9" cy="-23.9" r="4.8" fill="url(#gGf)"/>
<circle cx="-60.7" cy="-9.6" r="4.8" fill="url(#gGf)"/>
<circle cx="-55.9" cy="-13.6" r="4.8" fill="url(#gGf)"/>
<circle cx="-52.8" cy="-16.9" r="4.8" fill="url(#gGf)"/>
<circle cx="-50.4" cy="-19.6" r="4.8" fill="url(#gGf)"/>
<circle cx="-55.4" cy="-8.8" r="4.8" fill="url(#gGf)"/>
<circle cx="-52.6" cy="-11.3" r="4.8" fill="url(#gGf)"/>
<circle cx="-49.6" cy="-14.2" r="4.8" fill="url(#gGf)"/>
<circle cx="-59.6" cy="-7.7" r="4.8" fill="url(#gGf)"/>
<circle cx="-36.3" cy="-59.1" r="4.8" fill="url(#gGf)"/>
<circle cx="-31.2" cy="-58.6" r="4.8" fill="url(#gGf)"/>
<circle cx="-26.9" cy="-58.5" r="4.8" fill="url(#gGf)"/>
<circle cx="-38.2" cy="-55.2" r="4.8" fill="url(#gGf)"/>
<circle cx="-34.2" cy="-54.3" r="4.8" fill="url(#gGf)"/>
<circle cx="-28.8" cy="-54.4" r="4.8" fill="url(#gGf)"/>
<circle cx="-23.8" cy="-54.1" r="4.8" fill="url(#gGf)"/>
<circle cx="-40" cy="-51.1" r="4.8" fill="url(#gGf)"/>
<circle cx="-35.6" cy="-50" r="4.8" fill="url(#gGf)"/>
<circle cx="-30.7" cy="-50.8" r="4.8" fill="url(#gGf)"/>
<circle cx="-27.1" cy="-49.6" r="4.8" fill="url(#gGf)"/>
<circle cx="-22.7" cy="-49.4" r="4.8" fill="url(#gGf)"/>
<circle cx="-37.7" cy="-47.3" r="4.8" fill="url(#gGf)"/>
<circle cx="-34.2" cy="-46.1" r="4.8" fill="url(#gGf)"/>
<circle cx="-29.6" cy="-47.2" r="4.8" fill="url(#gGf)"/>
<circle cx="-24" cy="-46.5" r="4.8" fill="url(#gGf)"/>
<circle cx="-35.6" cy="-43.3" r="4.8" fill="url(#gGf)"/>
<circle cx="-31.7" cy="-42.2" r="4.8" fill="url(#gGf)"/>
<circle cx="-27.8" cy="-43" r="4.8" fill="url(#gGf)"/>
<circle cx="-14" cy="-66.4" r="4.8" fill="url(#gGf)"/>
<circle cx="-9.1" cy="-66.4" r="4.8" fill="url(#gGf)"/>
<circle cx="-5.6" cy="-63.8" r="4.8" fill="url(#gGf)"/>
<circle cx="-17.8" cy="-63.7" r="4.8" fill="url(#gGf)"/>
<circle cx="-14" cy="-63.4" r="4.8" fill="url(#gGf)"/>
<circle cx="-9.7" cy="-62" r="4.8" fill="url(#gGf)"/>
<circle cx="-4.6" cy="-59.7" r="4.8" fill="url(#gGf)"/>
<circle cx="-21.1" cy="-61.6" r="4.8" fill="url(#gGf)"/>
<circle cx="-17.4" cy="-60.1" r="4.8" fill="url(#gGf)"/>
<circle cx="-11.9" cy="-57.2" r="4.8" fill="url(#gGf)"/>
<circle cx="-7.3" cy="-57.4" r="4.8" fill="url(#gGf)"/>
<circle cx="-4.5" cy="-54.4" r="4.8" fill="url(#gGf)"/>
<circle cx="-20.3" cy="-56" r="4.8" fill="url(#gGf)"/>
<circle cx="-16.2" cy="-55.1" r="4.8" fill="url(#gGf)"/>
<circle cx="-11.5" cy="-53.7" r="4.8" fill="url(#gGf)"/>
<circle cx="-7" cy="-53" r="4.8" fill="url(#gGf)"/>
<circle cx="-19" cy="-51.4" r="4.8" fill="url(#gGf)"/>
<circle cx="-15.6" cy="-50.6" r="4.8" fill="url(#gGf)"/>
<circle cx="-10.2" cy="-49.3" r="4.8" fill="url(#gGf)"/>
<circle cx="-22.5" cy="-54.9" r="4.8" fill="url(#gGf)"/>
<circle cx="2.1" cy="-65.1" r="4.8" fill="url(#gGf)"/>
<circle cx="3.5" cy="-68.2" r="4.8" fill="url(#gGf)"/>
<circle cx="3.9" cy="-72.6" r="4.8" fill="url(#gGf)"/>
<circle cx="5.9" cy="-61.5" r="4.8" fill="url(#gGf)"/>
<circle cx="6.6" cy="-65.8" r="4.8" fill="url(#gGf)"/>
<circle cx="8" cy="-69.8" r="4.8" fill="url(#gGf)"/>
<circle cx="7.4" cy="-74.2" r="4.8" fill="url(#gGf)"/>
<circle cx="9.7" cy="-57.9" r="4.8" fill="url(#gGf)"/>
<circle cx="10.5" cy="-63.1" r="4.8" fill="url(#gGf)"/>
<circle cx="11.4" cy="-66.8" r="4.8" fill="url(#gGf)"/>
<circle cx="11.8" cy="-71.5" r="4.8" fill="url(#gGf)"/>
<circle cx="12.6" cy="-76.7" r="4.8" fill="url(#gGf)"/>
<circle cx="13.9" cy="-60.8" r="4.8" fill="url(#gGf)"/>
<circle cx="14" cy="-64.6" r="4.8" fill="url(#gGf)"/>
<circle cx="14.1" cy="-69.4" r="4.8" fill="url(#gGf)"/>
<circle cx="16" cy="-73.4" r="4.8" fill="url(#gGf)"/>
<circle cx="17.4" cy="-60.9" r="4.8" fill="url(#gGf)"/>
<circle cx="18.9" cy="-66.5" r="4.8" fill="url(#gGf)"/>
<circle cx="19.6" cy="-70.7" r="4.8" fill="url(#gGf)"/>
<circle cx="57.7" cy="-28.5" r="4.8" fill="url(#gGf)"/>
<circle cx="62.9" cy="-29.5" r="4.8" fill="url(#gGf)"/>
<circle cx="66.7" cy="-30.8" r="4.8" fill="url(#gGf)"/>
<circle cx="57.6" cy="-24.6" r="4.8" fill="url(#gGf)"/>
<circle cx="61.3" cy="-24.8" r="4.8" fill="url(#gGf)"/>
<circle cx="65" cy="-26.9" r="4.8" fill="url(#gGf)"/>
<circle cx="69" cy="-28.8" r="4.8" fill="url(#gGf)"/>
<circle cx="55.7" cy="-20" r="4.8" fill="url(#gGf)"/>
<circle cx="59.8" cy="-20" r="4.8" fill="url(#gGf)"/>
<circle cx="64.7" cy="-22.2" r="4.8" fill="url(#gGf)"/>
<circle cx="69.8" cy="-23.6" r="4.8" fill="url(#gGf)"/>
<circle cx="74.2" cy="-25" r="4.8" fill="url(#gGf)"/>
<circle cx="59.9" cy="-17" r="4.8" fill="url(#gGf)"/>
<circle cx="63.9" cy="-17.3" r="4.8" fill="url(#gGf)"/>
<circle cx="67.3" cy="-18.5" r="4.8" fill="url(#gGf)"/>
<circle cx="71.8" cy="-20.8" r="4.8" fill="url(#gGf)"/>
<circle cx="62.2" cy="-13.2" r="4.8" fill="url(#gGf)"/>
<circle cx="67.4" cy="-15.5" r="4.8" fill="url(#gGf)"/>
<circle cx="72.3" cy="-16.4" r="4.8" fill="url(#gGf)"/>
<circle cx="57.8" cy="28.2" r="4.8" fill="url(#gGf)"/>
<circle cx="61.4" cy="30.1" r="4.8" fill="url(#gGf)"/>
<circle cx="65.8" cy="33.1" r="4.8" fill="url(#gGf)"/>
<circle cx="53.3" cy="30.5" r="4.8" fill="url(#gGf)"/>
<circle cx="57.2" cy="31.7" r="4.8" fill="url(#gGf)"/>
<circle cx="60.9" cy="34.3" r="4.8" fill="url(#gGf)"/>
<circle cx="64.6" cy="38.1" r="4.8" fill="url(#gGf)"/>
<circle cx="49.4" cy="32.9" r="4.8" fill="url(#gGf)"/>
<circle cx="53.9" cy="33.9" r="4.8" fill="url(#gGf)"/>
<circle cx="58.2" cy="38" r="4.8" fill="url(#gGf)"/>
<circle cx="60.4" cy="40.4" r="4.8" fill="url(#gGf)"/>
<circle cx="64.9" cy="42.2" r="4.8" fill="url(#gGf)"/>
<circle cx="50.2" cy="36.3" r="4.8" fill="url(#gGf)"/>
<circle cx="53.2" cy="40.1" r="4.8" fill="url(#gGf)"/>
<circle cx="57.5" cy="41.7" r="4.8" fill="url(#gGf)"/>
<circle cx="61.8" cy="44.9" r="4.8" fill="url(#gGf)"/>
<circle cx="49.3" cy="40.7" r="4.8" fill="url(#gGf)"/>
<circle cx="53.2" cy="43.8" r="4.8" fill="url(#gGf)"/>
<circle cx="56.3" cy="45.6" r="4.8" fill="url(#gGf)"/>
<circle cx="4.7" cy="63.4" r="4.8" fill="url(#gGf)"/>
<circle cx="4.3" cy="68.9" r="4.8" fill="url(#gGf)"/>
<circle cx="4.1" cy="72.8" r="4.8" fill="url(#gGf)"/>
<circle cx="0.9" cy="61.4" r="4.8" fill="url(#gGf)"/>
<circle cx="1" cy="66.2" r="4.8" fill="url(#gGf)"/>
<circle cx="1.2" cy="71.5" r="4.8" fill="url(#gGf)"/>
<circle cx="0.5" cy="74.9" r="4.8" fill="url(#gGf)"/>
<circle cx="-3.8" cy="59.7" r="4.8" fill="url(#gGf)"/>
<circle cx="-2.8" cy="63.9" r="4.8" fill="url(#gGf)"/>
<circle cx="-3.8" cy="67.8" r="4.8" fill="url(#gGf)"/>
<circle cx="-3.5" cy="72.9" r="4.8" fill="url(#gGf)"/>
<circle cx="-3.9" cy="77.7" r="4.8" fill="url(#gGf)"/>
<circle cx="-6.7" cy="60.6" r="4.8" fill="url(#gGf)"/>
<circle cx="-7.9" cy="66.6" r="4.8" fill="url(#gGf)"/>
<circle cx="-6.9" cy="71" r="4.8" fill="url(#gGf)"/>
<circle cx="-8.7" cy="74.1" r="4.8" fill="url(#gGf)"/>
<circle cx="-11.7" cy="63.1" r="4.8" fill="url(#gGf)"/>
<circle cx="-11.3" cy="67.1" r="4.8" fill="url(#gGf)"/>
<circle cx="-11.7" cy="71.6" r="4.8" fill="url(#gGf)"/>
<circle cx="-56.8" cy="31.6" r="4.8" fill="url(#gGf)"/>
<circle cx="-60.3" cy="33.2" r="4.8" fill="url(#gGf)"/>
<circle cx="-64.9" cy="34.7" r="4.8" fill="url(#gGf)"/>
<circle cx="-56" cy="26.4" r="4.8" fill="url(#gGf)"/>
<circle cx="-59.3" cy="29" r="4.8" fill="url(#gGf)"/>
<circle cx="-64.8" cy="29.5" r="4.8" fill="url(#gGf)"/>
<circle cx="-67.7" cy="32.1" r="4.8" fill="url(#gGf)"/>
<circle cx="-54.3" cy="21.6" r="4.8" fill="url(#gGf)"/>
<circle cx="-59.2" cy="23.4" r="4.8" fill="url(#gGf)"/>
<circle cx="-62.8" cy="25.4" r="4.8" fill="url(#gGf)"/>
<circle cx="-67.3" cy="28.2" r="4.8" fill="url(#gGf)"/>
<circle cx="-72.2" cy="29.1" r="4.8" fill="url(#gGf)"/>
<circle cx="-58" cy="20.1" r="4.8" fill="url(#gGf)"/>
<circle cx="-62.8" cy="20.8" r="4.8" fill="url(#gGf)"/>
<circle cx="-67.7" cy="23.4" r="4.8" fill="url(#gGf)"/>
<circle cx="-72" cy="23.7" r="4.8" fill="url(#gGf)"/>
<circle cx="-61.9" cy="16.5" r="4.8" fill="url(#gGf)"/>
<circle cx="-66" cy="17.8" r="4.8" fill="url(#gGf)"/>
<circle cx="-70.1" cy="19.2" r="4.8" fill="url(#gGf)"/>
<circle cx="-56.2" cy="-31.7" r="4.8" fill="url(#gGf)"/>
<circle cx="-60.1" cy="-35.1" r="4.8" fill="url(#gGf)"/>
<circle cx="-62.6" cy="-37.2" r="4.8" fill="url(#gGf)"/>
<circle cx="-51.8" cy="-34.4" r="4.8" fill="url(#gGf)"/>
<circle cx="-55.4" cy="-36.1" r="4.8" fill="url(#gGf)"/>
<circle cx="-59" cy="-40" r="4.8" fill="url(#gGf)"/>
<circle cx="-62.1" cy="-42" r="4.8" fill="url(#gGf)"/>
<circle cx="-46.5" cy="-34.8" r="4.8" fill="url(#gGf)"/>
<circle cx="-50.1" cy="-38.5" r="4.8" fill="url(#gGf)"/>
<circle cx="-54" cy="-41.5" r="4.8" fill="url(#gGf)"/>
<circle cx="-58.6" cy="-44.1" r="4.8" fill="url(#gGf)"/>
<circle cx="-61.1" cy="-45.9" r="4.8" fill="url(#gGf)"/>
<circle cx="-47.1" cy="-40.4" r="4.8" fill="url(#gGf)"/>
<circle cx="-50.6" cy="-43.2" r="4.8" fill="url(#gGf)"/>
<circle cx="-54.2" cy="-45.9" r="4.8" fill="url(#gGf)"/>
<circle cx="-58.2" cy="-48.3" r="4.8" fill="url(#gGf)"/>
<circle cx="-45.6" cy="-44.6" r="4.8" fill="url(#gGf)"/>
<circle cx="-49.2" cy="-47.4" r="4.8" fill="url(#gGf)"/>
<circle cx="-54" cy="-49.8" r="4.8" fill="url(#gGf)"/>
<circle cx="-7.3" cy="4.2" r="4.8" fill="url(#gGf)"/>
<circle cx="-8.8" cy="0" r="4.8" fill="url(#gGf)"/>
<circle cx="-7.9" cy="-4.5" r="4.8" fill="url(#gGf)"/>
<circle cx="-3.1" cy="7.2" r="4.8" fill="url(#gGf)"/>
<circle cx="-3.4" cy="1.5" r="4.8" fill="url(#gGf)"/>
<circle cx="-3.9" cy="-1.8" r="4.8" fill="url(#gGf)"/>
<circle cx="-4.7" cy="-7.7" r="4.8" fill="url(#gGf)"/>
<circle cx="0.4" cy="9.9" r="4.8" fill="url(#gGf)"/>
<circle cx="-0.7" cy="4.8" r="4.8" fill="url(#gGf)"/>
<circle cx="-0.6" cy="0.4" r="4.8" fill="url(#gGf)"/>
<circle cx="0.3" cy="-5.1" r="4.8" fill="url(#gGf)"/>
<circle cx="-0.5" cy="-8.7" r="4.8" fill="url(#gGf)"/>
<circle cx="4" cy="7.4" r="4.8" fill="url(#gGf)"/>
<circle cx="3.8" cy="2" r="4.8" fill="url(#gGf)"/>
<circle cx="4.8" cy="-2" r="4.8" fill="url(#gGf)"/>
<circle cx="4" cy="-6.8" r="4.8" fill="url(#gGf)"/>
<circle cx="8.4" cy="5" r="4.8" fill="url(#gGf)"/>
<circle cx="8.7" cy="-0.2" r="4.8" fill="url(#gGf)"/>
<circle cx="8.6" cy="-4.3" r="4.8" fill="url(#gGf)"/>
<circle cx="16" cy="-14.4" r="4.8" fill="url(#gGf)"/>
<circle cx="20.6" cy="-13.9" r="4.8" fill="url(#gGf)"/>
<circle cx="25.4" cy="-14" r="4.8" fill="url(#gGf)"/>
<circle cx="12.8" cy="-10.8" r="4.8" fill="url(#gGf)"/>
<circle cx="17.9" cy="-11" r="4.8" fill="url(#gGf)"/>
<circle cx="21.8" cy="-11.1" r="4.8" fill="url(#gGf)"/>
<circle cx="27" cy="-9.3" r="4.8" fill="url(#gGf)"/>
<circle cx="10" cy="-7.9" r="4.8" fill="url(#gGf)"/>
<circle cx="14.3" cy="-7.1" r="4.8" fill="url(#gGf)"/>
<circle cx="19" cy="-5.8" r="4.8" fill="url(#gGf)"/>
<circle cx="23.2" cy="-6.7" r="4.8" fill="url(#gGf)"/>
<circle cx="27.9" cy="-5.7" r="4.8" fill="url(#gGf)"/>
<circle cx="12.7" cy="-3.8" r="4.8" fill="url(#gGf)"/>
<circle cx="16" cy="-2.9" r="4.8" fill="url(#gGf)"/>
<circle cx="21.5" cy="-1.8" r="4.8" fill="url(#gGf)"/>
<circle cx="25.1" cy="-2.9" r="4.8" fill="url(#gGf)"/>
<circle cx="13.7" cy="0.4" r="4.8" fill="url(#gGf)"/>
<circle cx="18.3" cy="1.7" r="4.8" fill="url(#gGf)"/>
<circle cx="23.6" cy="1.1" r="4.8" fill="url(#gGf)"/>
<circle cx="40.7" cy="-24.2" r="4.8" fill="url(#gGf)"/>
<circle cx="44.9" cy="-21.6" r="4.8" fill="url(#gGf)"/>
<circle cx="49.5" cy="-20.3" r="4.8" fill="url(#gGf)"/>
<circle cx="38.2" cy="-20.9" r="4.8" fill="url(#gGf)"/>
<circle cx="41.5" cy="-18.5" r="4.8" fill="url(#gGf)"/>
<circle cx="47" cy="-17.8" r="4.8" fill="url(#gGf)"/>
<circle cx="50.6" cy="-15.1" r="4.8" fill="url(#gGf)"/>
<circle cx="34" cy="-18.5" r="4.8" fill="url(#gGf)"/>
<circle cx="37.5" cy="-15.5" r="4.8" fill="url(#gGf)"/>
<circle cx="43.2" cy="-14.9" r="4.8" fill="url(#gGf)"/>
<circle cx="47" cy="-13" r="4.8" fill="url(#gGf)"/>
<circle cx="50.8" cy="-10.5" r="4.8" fill="url(#gGf)"/>
<circle cx="35" cy="-13.9" r="4.8" fill="url(#gGf)"/>
<circle cx="38.2" cy="-11.9" r="4.8" fill="url(#gGf)"/>
<circle cx="43.1" cy="-9.6" r="4.8" fill="url(#gGf)"/>
<circle cx="48" cy="-8.3" r="4.8" fill="url(#gGf)"/>
<circle cx="34.8" cy="-9.5" r="4.8" fill="url(#gGf)"/>
<circle cx="39.4" cy="-7.7" r="4.8" fill="url(#gGf)"/>
<circle cx="44.7" cy="-5.6" r="4.8" fill="url(#gGf)"/>
<circle cx="31.3" cy="-9.8" r="4.8" fill="url(#gGf)"/>
<circle cx="7.7" cy="19.9" r="4.8" fill="url(#gGf)"/>
<circle cx="5.5" cy="24.5" r="4.8" fill="url(#gGf)"/>
<circle cx="3.2" cy="28.7" r="4.8" fill="url(#gGf)"/>
<circle cx="6.2" cy="16.6" r="4.8" fill="url(#gGf)"/>
<circle cx="2.8" cy="19.7" r="4.8" fill="url(#gGf)"/>
<circle cx="1.9" cy="23.6" r="4.8" fill="url(#gGf)"/>
<circle cx="-0.6" cy="28.4" r="4.8" fill="url(#gGf)"/>
<circle cx="3.8" cy="12.4" r="4.8" fill="url(#gGf)"/>
<circle cx="1.6" cy="16" r="4.8" fill="url(#gGf)"/>
<circle cx="-0.6" cy="20.3" r="4.8" fill="url(#gGf)"/>
<circle cx="-2.3" cy="23.9" r="4.8" fill="url(#gGf)"/>
<circle cx="-4.5" cy="28.2" r="4.8" fill="url(#gGf)"/>
<circle cx="-1.5" cy="12.6" r="4.8" fill="url(#gGf)"/>
<circle cx="-4.3" cy="17.2" r="4.8" fill="url(#gGf)"/>
<circle cx="-6" cy="20.4" r="4.8" fill="url(#gGf)"/>
<circle cx="-8.5" cy="24.6" r="4.8" fill="url(#gGf)"/>
<circle cx="-6.3" cy="13.2" r="4.8" fill="url(#gGf)"/>
<circle cx="-8.5" cy="17.3" r="4.8" fill="url(#gGf)"/>
<circle cx="-11" cy="20.9" r="4.8" fill="url(#gGf)"/>
<circle cx="6.5" cy="48" r="4.8" fill="url(#gGf)"/>
<circle cx="4" cy="50.8" r="4.8" fill="url(#gGf)"/>
<circle cx="-0.6" cy="53.6" r="4.8" fill="url(#gGf)"/>
<circle cx="5.6" cy="42.3" r="4.8" fill="url(#gGf)"/>
<circle cx="2.2" cy="46" r="4.8" fill="url(#gGf)"/>
<circle cx="-1.9" cy="50.3" r="4.8" fill="url(#gGf)"/>
<circle cx="-3.7" cy="52.3" r="4.8" fill="url(#gGf)"/>
<circle cx="4.2" cy="38" r="4.8" fill="url(#gGf)"/>
<circle cx="0.6" cy="41.8" r="4.8" fill="url(#gGf)"/>
<circle cx="-2.7" cy="44.7" r="4.8" fill="url(#gGf)"/>
<circle cx="-5.7" cy="48.7" r="4.8" fill="url(#gGf)"/>
<circle cx="-9.1" cy="51.2" r="4.8" fill="url(#gGf)"/>
<circle cx="-0.1" cy="37" r="4.8" fill="url(#gGf)"/>
<circle cx="-2.9" cy="40.7" r="4.8" fill="url(#gGf)"/>
<circle cx="-6.4" cy="43.7" r="4.8" fill="url(#gGf)"/>
<circle cx="-9.4" cy="46.6" r="4.8" fill="url(#gGf)"/>
<circle cx="-5.6" cy="35.5" r="4.8" fill="url(#gGf)"/>
<circle cx="-7.8" cy="39.9" r="4.8" fill="url(#gGf)"/>
<circle cx="-11.9" cy="42.7" r="4.8" fill="url(#gGf)"/>
<circle cx="-1.1" cy="32.9" r="4.8" fill="url(#gGf)"/>
<circle cx="-21.7" cy="-4.9" r="4.8" fill="url(#gGf)"/>
<circle cx="-23.9" cy="-9" r="4.8" fill="url(#gGf)"/>
<circle cx="-25.7" cy="-13.1" r="4.8" fill="url(#gGf)"/>
<circle cx="-15.6" cy="-4.5" r="4.8" fill="url(#gGf)"/>
<circle cx="-18.7" cy="-8.1" r="4.8" fill="url(#gGf)"/>
<circle cx="-20.5" cy="-11.8" r="4.8" fill="url(#gGf)"/>
<circle cx="-23.5" cy="-16.6" r="4.8" fill="url(#gGf)"/>
<circle cx="-11.9" cy="-5.2" r="4.8" fill="url(#gGf)"/>
<circle cx="-14.3" cy="-8" r="4.8" fill="url(#gGf)"/>
<circle cx="-15.5" cy="-11.8" r="4.8" fill="url(#gGf)"/>
<circle cx="-18.4" cy="-16.1" r="4.8" fill="url(#gGf)"/>
<circle cx="-21.8" cy="-20.6" r="4.8" fill="url(#gGf)"/>
<circle cx="-9.8" cy="-8.1" r="4.8" fill="url(#gGf)"/>
<circle cx="-12.5" cy="-12.5" r="4.8" fill="url(#gGf)"/>
<circle cx="-14" cy="-15.8" r="4.8" fill="url(#gGf)"/>
<circle cx="-15.8" cy="-20.1" r="4.8" fill="url(#gGf)"/>
<circle cx="-7.8" cy="-11.8" r="4.8" fill="url(#gGf)"/>
<circle cx="-8.7" cy="-16.2" r="4.8" fill="url(#gGf)"/>
<circle cx="-12" cy="-20.3" r="4.8" fill="url(#gGf)"/>
<circle cx="-43.4" cy="-20.5" r="4.8" fill="url(#gGf)"/>
<circle cx="-42.9" cy="-25.4" r="4.8" fill="url(#gGf)"/>
<circle cx="-44.4" cy="-29.3" r="4.8" fill="url(#gGf)"/>
<circle cx="-38.9" cy="-18.7" r="4.8" fill="url(#gGf)"/>
<circle cx="-39.2" cy="-24.6" r="4.8" fill="url(#gGf)"/>
<circle cx="-41.2" cy="-29" r="4.8" fill="url(#gGf)"/>
<circle cx="-41.3" cy="-32.6" r="4.8" fill="url(#gGf)"/>
<circle cx="-34.3" cy="-17.4" r="4.8" fill="url(#gGf)"/>
<circle cx="-35.3" cy="-22.7" r="4.8" fill="url(#gGf)"/>
<circle cx="-36.7" cy="-26.3" r="4.8" fill="url(#gGf)"/>
<circle cx="-37.7" cy="-30.9" r="4.8" fill="url(#gGf)"/>
<circle cx="-38" cy="-36" r="4.8" fill="url(#gGf)"/>
<circle cx="-30.5" cy="-21.7" r="4.8" fill="url(#gGf)"/>
<circle cx="-30.9" cy="-24.9" r="4.8" fill="url(#gGf)"/>
<circle cx="-32.1" cy="-30.1" r="4.8" fill="url(#gGf)"/>
<circle cx="-34.3" cy="-34.2" r="4.8" fill="url(#gGf)"/>
<circle cx="-27.6" cy="-23.7" r="4.8" fill="url(#gGf)"/>
<circle cx="-28.7" cy="-28.8" r="4.8" fill="url(#gGf)"/>
<circle cx="-28.7" cy="-33.9" r="4.8" fill="url(#gGf)"/>
<circle cx="-26.1" cy="-20.5" r="4.8" fill="url(#gGf)"/>
<circle cx="21.8" cy="-62" r="3.8" fill="url(#gBf)"/>
<circle cx="57.5" cy="-32.2" r="3.8" fill="url(#gBf)"/>
<circle cx="36.6" cy="-63.2" r="4.6" fill="url(#gYf)"/>
<circle cx="39.3" cy="-26.4" r="4.6" fill="url(#gYf)"/>
<circle cx="66.1" cy="-10.7" r="3.8" fill="url(#gBf)"/>
<circle cx="62.2" cy="25.7" r="3.8" fill="url(#gBf)"/>
<circle cx="74.6" cy="-2" r="4.6" fill="url(#gYf)"/>
<circle cx="46.1" cy="16.7" r="4.6" fill="url(#gYf)"/>
<circle cx="47.5" cy="45.1" r="3.8" fill="url(#gBf)"/>
<circle cx="9.1" cy="64.8" r="3.8" fill="url(#gBf)"/>
<circle cx="43.9" cy="58.3" r="4.6" fill="url(#gYf)"/>
<circle cx="10.2" cy="46" r="4.6" fill="url(#gYf)"/>
<circle cx="-16.1" cy="62.2" r="3.8" fill="url(#gBf)"/>
<circle cx="-53.2" cy="36.1" r="3.8" fill="url(#gBf)"/>
<circle cx="-30.4" cy="64.9" r="4.6" fill="url(#gYf)"/>
<circle cx="-36.4" cy="29.1" r="4.6" fill="url(#gYf)"/>
<circle cx="-64.3" cy="13.3" r="3.8" fill="url(#gBf)"/>
<circle cx="-59.2" cy="-28.3" r="3.8" fill="url(#gBf)"/>
<circle cx="-72.8" cy="3.3" r="4.6" fill="url(#gYf)"/>
<circle cx="-44.7" cy="-18.3" r="4.6" fill="url(#gYf)"/>
<circle cx="-43.5" cy="-48.1" r="3.8" fill="url(#gBf)"/>
<circle cx="-2.5" cy="-65.4" r="3.8" fill="url(#gBf)"/>
<circle cx="-38.6" cy="-60.8" r="4.6" fill="url(#gYf)"/>
<circle cx="-5.7" cy="-47.8" r="4.6" fill="url(#gYf)"/>
<circle cx="11.1" cy="0.3" r="3.8" fill="url(#gBf)"/>
<circle cx="53.1" cy="-14.7" r="3.8" fill="url(#gBf)"/>
<circle cx="41.2" cy="-28.1" r="4.6" fill="url(#gYf)"/>
<circle cx="2.7" cy="9.6" r="3.8" fill="url(#gBf)"/>
<circle cx="-0.5" cy="54.6" r="3.8" fill="url(#gBf)"/>
<circle cx="-15.4" cy="46.6" r="4.6" fill="url(#gYf)"/>
<circle cx="-7.2" cy="-8.3" r="3.8" fill="url(#gBf)"/>
<circle cx="-41.8" cy="-35.8" r="3.8" fill="url(#gBf)"/>
<circle cx="-46.1" cy="-18.5" r="4.6" fill="url(#gYf)"/>
<circle cx="33" cy="-69.4" r="5.4" fill="url(#gRf)"/>
<circle cx="41.1" cy="-66.9" r="5.4" fill="url(#gRf)"/>
<circle cx="42.7" cy="-60.5" r="5.4" fill="url(#gRf)"/>
<circle cx="41.6" cy="-20.6" r="5.4" fill="url(#gRf)"/>
<circle cx="34.4" cy="-21.5" r="5.4" fill="url(#gRf)"/>
<circle cx="33" cy="-27.8" r="5.4" fill="url(#gRf)"/>
<circle cx="77.7" cy="-6.9" r="5.4" fill="url(#gRf)"/>
<circle cx="80.8" cy="-1.1" r="5.4" fill="url(#gRf)"/>
<circle cx="77.8" cy="3.2" r="5.4" fill="url(#gRf)"/>
<circle cx="43" cy="22" r="5.4" fill="url(#gRf)"/>
<circle cx="40.1" cy="15.4" r="5.4" fill="url(#gRf)"/>
<circle cx="45.6" cy="11.5" r="5.4" fill="url(#gRf)"/>
<circle cx="49.9" cy="58.1" r="5.4" fill="url(#gRf)"/>
<circle cx="46.8" cy="63.5" r="5.4" fill="url(#gRf)"/>
<circle cx="38.9" cy="64.3" r="5.4" fill="url(#gRf)"/>
<circle cx="3.3" cy="47.1" r="5.4" fill="url(#gRf)"/>
<circle cx="7.9" cy="42" r="5.4" fill="url(#gRf)"/>
<circle cx="13.9" cy="41.3" r="5.4" fill="url(#gRf)"/>
<circle cx="-27.5" cy="71.3" r="5.4" fill="url(#gRf)"/>
<circle cx="-33.3" cy="69.7" r="5.4" fill="url(#gRf)"/>
<circle cx="-35.9" cy="63.5" r="5.4" fill="url(#gRf)"/>
<circle cx="-39.9" cy="22.7" r="5.4" fill="url(#gRf)"/>
<circle cx="-32.2" cy="24.5" r="5.4" fill="url(#gRf)"/>
<circle cx="-30.9" cy="30.3" r="5.4" fill="url(#gRf)"/>
<circle cx="-77.2" cy="8.7" r="5.4" fill="url(#gRf)"/>
<circle cx="-80.5" cy="1.1" r="5.4" fill="url(#gRf)"/>
<circle cx="-74.8" cy="-3.8" r="5.4" fill="url(#gRf)"/>
<circle cx="-40.5" cy="-22.9" r="5.4" fill="url(#gRf)"/>
<circle cx="-37.9" cy="-18" r="5.4" fill="url(#gRf)"/>
<circle cx="-42.4" cy="-11.3" r="5.4" fill="url(#gRf)"/>
<circle cx="-44.9" cy="-62.5" r="5.4" fill="url(#gRf)"/>
<circle cx="-41.4" cy="-67.8" r="5.4" fill="url(#gRf)"/>
<circle cx="-33.7" cy="-66.7" r="5.4" fill="url(#gRf)"/>
<circle cx="0.4" cy="-47.3" r="5.4" fill="url(#gRf)"/>
<circle cx="-2.7" cy="-40.6" r="5.4" fill="url(#gRf)"/>
<circle cx="-10" cy="-42.2" r="5.4" fill="url(#gRf)"/>
<circle cx="24.6" cy="-72.4" r="5.2" fill="url(#gRf)"/>
<circle cx="-0.8" cy="-76.7" r="5.2" fill="url(#gRf)"/>
<circle cx="9.2" cy="-53.2" r="5.2" fill="url(#gRf)"/>
<circle cx="74.9" cy="-12.7" r="5.2" fill="url(#gRf)"/>
<circle cx="66.6" cy="-35.3" r="5.2" fill="url(#gRf)"/>
<circle cx="56.5" cy="51.4" r="5.2" fill="url(#gRf)"/>
<circle cx="70" cy="30" r="5.2" fill="url(#gRf)"/>
<circle cx="45.6" cy="29.1" r="5.2" fill="url(#gRf)"/>
<circle cx="-16.6" cy="75.2" r="5.2" fill="url(#gRf)"/>
<circle cx="7.5" cy="75.5" r="5.2" fill="url(#gRf)"/>
<circle cx="-74" cy="16.4" r="5.2" fill="url(#gRf)"/>
<circle cx="-65.7" cy="39.7" r="5.2" fill="url(#gRf)"/>
<circle cx="-50.8" cy="21" r="5.2" fill="url(#gRf)"/>
<circle cx="-52" cy="-56" r="5.2" fill="url(#gRf)"/>
<circle cx="-67.7" cy="-35.1" r="5.2" fill="url(#gRf)"/>
<circle cx="12" cy="-6.3" r="5.2" fill="url(#gRf)"/>
<circle cx="-12.3" cy="-7.7" r="5.2" fill="url(#gRf)"/>
<circle cx="0.1" cy="14.4" r="5.2" fill="url(#gRf)"/>
<circle cx="34.2" cy="-28" r="5.4" fill="url(#gRf)"/>
<circle cx="39.2" cy="-33.7" r="5.4" fill="url(#gRf)"/>
<circle cx="45.4" cy="-31.4" r="5.4" fill="url(#gRf)"/>
<circle cx="-18" cy="52.5" r="5.4" fill="url(#gRf)"/>
<circle cx="-20.9" cy="45.9" r="5.4" fill="url(#gRf)"/>
<circle cx="-17.2" cy="40.3" r="5.4" fill="url(#gRf)"/>
<circle cx="-42.5" cy="-13.2" r="5.4" fill="url(#gRf)"/>
<circle cx="-49.7" cy="-12.7" r="5.4" fill="url(#gRf)"/>
<circle cx="-51.4" cy="-19.2" r="5.4" fill="url(#gRf)"/></g>
<g transform="translate(297.3,214.1) rotate(15)"><circle cx="-3" cy="0" r="1.7" fill="#d81818"/><circle cx="3" cy="0" r="1.7" fill="#d81818"/><circle cx="0" cy="-2.6" r="1.2" fill="#222"/><circle cx="0" cy="2.6" r="1.2" fill="#222"/><circle cx="0" cy="0" r="2" fill="#e8d020"/></g>
<g transform="translate(286.8,273.2) rotate(35)"><circle cx="-3" cy="0" r="1.7" fill="#d81818"/><circle cx="3" cy="0" r="1.7" fill="#d81818"/><circle cx="0" cy="-2.6" r="1.2" fill="#222"/><circle cx="0" cy="2.6" r="1.2" fill="#222"/><circle cx="0" cy="0" r="2" fill="#e8d020"/></g>
<g transform="translate(345.9,251.3) rotate(30)"><circle cx="-3" cy="0" r="1.7" fill="#d81818"/><circle cx="3" cy="0" r="1.7" fill="#d81818"/><circle cx="0" cy="-2.6" r="1.2" fill="#222"/><circle cx="0" cy="2.6" r="1.2" fill="#222"/><circle cx="0" cy="0" r="2" fill="#e8d020"/></g>
<line x1="208.8" y1="71.4" x2="178" y2="71.4" stroke="#1aa3ea" stroke-width="2.3"/><path d="M170.5,71.4 L179,67.5 L179,75.3 Z" fill="#1aa3ea"/>
<line x1="387.4" y1="71.6" x2="442.2" y2="71.6" stroke="#1aa3ea" stroke-width="2.3"/><path d="M449.7,71.6 L441.2,75.5 L441.2,67.7 Z" fill="#1aa3ea"/>
<line x1="161.3" y1="107" x2="239.8" y2="170.9" stroke="#1aa3ea" stroke-width="2.3"/><path d="M245.6,175.6 L236.5,173.3 L241.5,167.2 Z" fill="#1aa3ea"/>
<line x1="464" y1="107.5" x2="385.3" y2="172" stroke="#1aa3ea" stroke-width="2.3"/><path d="M379.5,176.8 L383.6,168.4 L388.5,174.4 Z" fill="#1aa3ea"/>
<line x1="221" y1="399.8" x2="428.5" y2="399.8" stroke="#1aa3ea" stroke-width="2.3"/><path d="M436,399.8 L427.5,403.7 L427.5,395.9 Z" fill="#1aa3ea"/>
<path d="M297.8,68h7.1v-7.3h5.6v7.3h7.5v5.6h-7.5v7.3h-5.6v-7.3h-7.1z" fill="#1aa3ea"/>
<path d="M198.5,120.8L210.5,132.3M210.5,120.8L198.5,132.3" stroke="#e8161c" stroke-width="2.2" fill="none"/>
<path d="M408.3,127L415.1,135.2L430.1,121.4" stroke="#28e628" stroke-width="2.9" fill="none" stroke-linejoin="miter"/>
<polygon points="251.4,52.7 266.4,61.3 266.4,78.6 251.4,87.3 236.4,78.7 236.4,61.3" fill="#78b6f6" stroke="#3488ea" stroke-width="1.5" stroke-linejoin="round"/><line x1="252.8" y1="57.1" x2="261.8" y2="62.3" stroke="#3488ea" stroke-width="1.1"/><line x1="261.8" y1="77.7" x2="252.8" y2="82.9" stroke="#3488ea" stroke-width="1.1"/><line x1="239.5" y1="75.2" x2="239.5" y2="64.8" stroke="#3488ea" stroke-width="1.1"/>
<line x1="251.4" y1="52.7" x2="251.4" y2="40.2" stroke="#3488ea" stroke-width="1.4" stroke-linecap="round"/>
<line x1="266.4" y1="61.3" x2="277.2" y2="55.1" stroke="#ea2a2a" stroke-width="1.4" stroke-linecap="round"/>
<line x1="266.4" y1="78.6" x2="277.2" y2="84.9" stroke="#3488ea" stroke-width="1.4" stroke-linecap="round"/>
<line x1="251.4" y1="87.3" x2="251.4" y2="99.8" stroke="#ea2a2a" stroke-width="1.4" stroke-linecap="round"/>
<line x1="236.4" y1="78.7" x2="225.6" y2="84.9" stroke="#3488ea" stroke-width="1.4" stroke-linecap="round"/>
<line x1="236.4" y1="61.3" x2="225.6" y2="55.1" stroke="#ea2a2a" stroke-width="1.4" stroke-linecap="round"/>
<text x="252.6" y="38.3" font-size="5.6" fill="#3488ea" text-anchor="middle">OH</text>
<text x="285.7" y="54.8" font-size="5.6" fill="#ea2a2a" text-anchor="middle">CHO</text>
<text x="284.4" y="88.9" font-size="5.6" fill="#3488ea" text-anchor="middle">OH</text>
<text x="255.1" y="106.4" font-size="5.6" fill="#ea2a2a" text-anchor="middle">CHO</text>
<text x="218.3" y="88.9" font-size="5.6" fill="#3488ea" text-anchor="middle">HO</text>
<text x="215.6" y="54.8" font-size="5.6" fill="#ea2a2a" text-anchor="middle">OHC</text>
<polygon points="357.9,27.3 372,35.5 372,51.8 357.9,59.9 343.8,51.8 343.8,35.5" fill="#78b6f6" stroke="#3488ea" stroke-width="1.5" stroke-linejoin="round"/><line x1="368.9" y1="38.8" x2="368.9" y2="48.4" stroke="#3488ea" stroke-width="1.1"/><line x1="356.6" y1="55.5" x2="348.2" y2="50.7" stroke="#3488ea" stroke-width="1.1"/><line x1="348.2" y1="36.5" x2="356.6" y2="31.7" stroke="#3488ea" stroke-width="1.1"/>
<polygon points="357.9,76.4 372,84.5 372,100.8 357.9,109 343.8,100.9 343.8,84.5" fill="#78b6f6" stroke="#3488ea" stroke-width="1.5" stroke-linejoin="round"/><line x1="368.9" y1="87.9" x2="368.9" y2="97.5" stroke="#3488ea" stroke-width="1.1"/><line x1="356.6" y1="104.6" x2="348.2" y2="99.8" stroke="#3488ea" stroke-width="1.1"/><line x1="348.2" y1="85.6" x2="356.6" y2="80.8" stroke="#3488ea" stroke-width="1.1"/>
<line x1="357.9" y1="59.9" x2="357.9" y2="76.4" stroke="#3488ea" stroke-width="1.4" stroke-linecap="round"/>
<line x1="357.9" y1="27.3" x2="357.9" y2="17.2" stroke="#3488ea" stroke-width="1.4" stroke-linecap="round"/>
<line x1="357.9" y1="109" x2="357.9" y2="119.8" stroke="#3488ea" stroke-width="1.4" stroke-linecap="round"/>
<line x1="372" y1="35.5" x2="383.4" y2="29.6" stroke="#ea2a2a" stroke-width="1.4" stroke-linecap="round"/>
<line x1="343.8" y1="100.9" x2="330.5" y2="107.6" stroke="#ea2a2a" stroke-width="1.4" stroke-linecap="round"/>
<text x="361" y="14.4" font-size="5.4" fill="#3488ea" text-anchor="middle">NH&#8322;</text>
<text x="361" y="129.6" font-size="5.4" fill="#3488ea" text-anchor="middle">NH&#8322;</text>
<text x="393" y="30.4" font-size="5.2" fill="#ea2a2a" text-anchor="middle">SO&#8323;H</text>
<text x="321.5" y="112.3" font-size="5.2" fill="#ea2a2a" text-anchor="middle">HO&#8323;S</text>
<g><line x1="121.1" y1="375.6" x2="117.5" y2="371.5" stroke="#cc30c4" stroke-width="1.4" stroke-linecap="round"/><line x1="117.5" y1="371.5" x2="113.9" y2="367.3" stroke="#ea4c40" stroke-width="1.4" stroke-linecap="round"/><line x1="121.1" y1="375.6" x2="124.1" y2="371.5" stroke="#cc30c4" stroke-width="1.4" stroke-linecap="round"/><line x1="124.1" y1="371.5" x2="127.2" y2="367.3" stroke="#ea4c40" stroke-width="1.4" stroke-linecap="round"/><line x1="113.9" y1="367.3" x2="116.8" y2="364.8" stroke="#ea4c40" stroke-width="1.4" stroke-linecap="round"/><line x1="116.8" y1="364.8" x2="119.8" y2="362.3" stroke="#b4aeac" stroke-width="1.4" stroke-linecap="round"/><line x1="127.2" y1="367.3" x2="123.5" y2="364.8" stroke="#ea4c40" stroke-width="1.4" stroke-linecap="round"/><line x1="123.5" y1="364.8" x2="119.8" y2="362.3" stroke="#b4aeac" stroke-width="1.4" stroke-linecap="round"/><line x1="119.8" y1="362.3" x2="119.4" y2="359" stroke="#b4aeac" stroke-width="1.4" stroke-linecap="round"/><line x1="119.4" y1="359" x2="119.1" y2="355.6" stroke="#ea4c40" stroke-width="1.4" stroke-linecap="round"/><line x1="121.1" y1="375.6" x2="114.1" y2="376.2" stroke="#cc30c4" stroke-width="1.4" stroke-linecap="round"/><line x1="114.1" y1="376.2" x2="107.2" y2="376.7" stroke="#ea4c40" stroke-width="1.4" stroke-linecap="round"/><line x1="121.1" y1="375.6" x2="118.9" y2="379.5" stroke="#cc30c4" stroke-width="1.4" stroke-linecap="round"/><line x1="118.9" y1="379.5" x2="116.7" y2="383.4" stroke="#ea4c40" stroke-width="1.4" stroke-linecap="round"/><line x1="107.2" y1="376.7" x2="106.9" y2="380.1" stroke="#ea4c40" stroke-width="1.4" stroke-linecap="round"/><line x1="106.9" y1="380.1" x2="106.7" y2="383.4" stroke="#b4aeac" stroke-width="1.4" stroke-linecap="round"/><line x1="116.7" y1="383.4" x2="111.7" y2="383.4" stroke="#ea4c40" stroke-width="1.4" stroke-linecap="round"/><line x1="111.7" y1="383.4" x2="106.7" y2="383.4" stroke="#b4aeac" stroke-width="1.4" stroke-linecap="round"/><line x1="106.7" y1="383.4" x2="102.8" y2="384.5" stroke="#b4aeac" stroke-width="1.4" stroke-linecap="round"/><line x1="102.8" y1="384.5" x2="98.9" y2="385.6" stroke="#ea4c40" stroke-width="1.4" stroke-linecap="round"/><line x1="121.1" y1="375.6" x2="127.5" y2="375.6" stroke="#cc30c4" stroke-width="1.4" stroke-linecap="round"/><line x1="127.5" y1="375.6" x2="133.9" y2="375.6" stroke="#ea4c40" stroke-width="1.4" stroke-linecap="round"/><line x1="121.1" y1="375.6" x2="124.4" y2="379.2" stroke="#cc30c4" stroke-width="1.4" stroke-linecap="round"/><line x1="124.4" y1="379.2" x2="127.8" y2="382.8" stroke="#ea4c40" stroke-width="1.4" stroke-linecap="round"/><line x1="133.9" y1="375.6" x2="135" y2="379" stroke="#ea4c40" stroke-width="1.4" stroke-linecap="round"/><line x1="135" y1="379" x2="136.1" y2="382.3" stroke="#b4aeac" stroke-width="1.4" stroke-linecap="round"/><line x1="127.8" y1="382.8" x2="131.9" y2="382.6" stroke="#ea4c40" stroke-width="1.4" stroke-linecap="round"/><line x1="131.9" y1="382.6" x2="136.1" y2="382.3" stroke="#b4aeac" stroke-width="1.4" stroke-linecap="round"/><line x1="136.1" y1="382.3" x2="139.4" y2="384" stroke="#b4aeac" stroke-width="1.4" stroke-linecap="round"/><line x1="139.4" y1="384" x2="142.8" y2="385.6" stroke="#ea4c40" stroke-width="1.4" stroke-linecap="round"/><circle cx="121.1" cy="375.6" r="1.9" fill="#cc30c4"/></g>
<g><line x1="44.8" y1="304.4" x2="41.7" y2="300.8" stroke="#cc30c4" stroke-width="1.1" stroke-linecap="round"/><line x1="41.7" y1="300.8" x2="38.6" y2="297.3" stroke="#ea4c40" stroke-width="1.1" stroke-linecap="round"/><line x1="44.8" y1="304.4" x2="47.4" y2="300.8" stroke="#cc30c4" stroke-width="1.1" stroke-linecap="round"/><line x1="47.4" y1="300.8" x2="50" y2="297.3" stroke="#ea4c40" stroke-width="1.1" stroke-linecap="round"/><line x1="38.6" y1="297.3" x2="41.1" y2="295.1" stroke="#ea4c40" stroke-width="1.1" stroke-linecap="round"/><line x1="41.1" y1="295.1" x2="43.7" y2="293" stroke="#b4aeac" stroke-width="1.1" stroke-linecap="round"/><line x1="50" y1="297.3" x2="46.9" y2="295.1" stroke="#ea4c40" stroke-width="1.1" stroke-linecap="round"/><line x1="46.9" y1="295.1" x2="43.7" y2="293" stroke="#b4aeac" stroke-width="1.1" stroke-linecap="round"/><line x1="43.7" y1="293" x2="43.4" y2="290.1" stroke="#b4aeac" stroke-width="1.1" stroke-linecap="round"/><line x1="43.4" y1="290.1" x2="43.1" y2="287.2" stroke="#ea4c40" stroke-width="1.1" stroke-linecap="round"/><line x1="44.8" y1="304.4" x2="38.8" y2="304.9" stroke="#cc30c4" stroke-width="1.1" stroke-linecap="round"/><line x1="38.8" y1="304.9" x2="32.8" y2="305.3" stroke="#ea4c40" stroke-width="1.1" stroke-linecap="round"/><line x1="44.8" y1="304.4" x2="42.9" y2="307.8" stroke="#cc30c4" stroke-width="1.1" stroke-linecap="round"/><line x1="42.9" y1="307.8" x2="41" y2="311.1" stroke="#ea4c40" stroke-width="1.1" stroke-linecap="round"/><line x1="32.8" y1="305.3" x2="32.6" y2="308.2" stroke="#ea4c40" stroke-width="1.1" stroke-linecap="round"/><line x1="32.6" y1="308.2" x2="32.4" y2="311.1" stroke="#b4aeac" stroke-width="1.1" stroke-linecap="round"/><line x1="41" y1="311.1" x2="36.7" y2="311.1" stroke="#ea4c40" stroke-width="1.1" stroke-linecap="round"/><line x1="36.7" y1="311.1" x2="32.4" y2="311.1" stroke="#b4aeac" stroke-width="1.1" stroke-linecap="round"/><line x1="32.4" y1="311.1" x2="29.1" y2="312.1" stroke="#b4aeac" stroke-width="1.1" stroke-linecap="round"/><line x1="29.1" y1="312.1" x2="25.7" y2="313" stroke="#ea4c40" stroke-width="1.1" stroke-linecap="round"/><line x1="44.8" y1="304.4" x2="50.3" y2="304.4" stroke="#cc30c4" stroke-width="1.1" stroke-linecap="round"/><line x1="50.3" y1="304.4" x2="55.8" y2="304.4" stroke="#ea4c40" stroke-width="1.1" stroke-linecap="round"/><line x1="44.8" y1="304.4" x2="47.7" y2="307.5" stroke="#cc30c4" stroke-width="1.1" stroke-linecap="round"/><line x1="47.7" y1="307.5" x2="50.6" y2="310.6" stroke="#ea4c40" stroke-width="1.1" stroke-linecap="round"/><line x1="55.8" y1="304.4" x2="56.8" y2="307.3" stroke="#ea4c40" stroke-width="1.1" stroke-linecap="round"/><line x1="56.8" y1="307.3" x2="57.7" y2="310.2" stroke="#b4aeac" stroke-width="1.1" stroke-linecap="round"/><line x1="50.6" y1="310.6" x2="54.1" y2="310.4" stroke="#ea4c40" stroke-width="1.1" stroke-linecap="round"/><line x1="54.1" y1="310.4" x2="57.7" y2="310.2" stroke="#b4aeac" stroke-width="1.1" stroke-linecap="round"/><line x1="57.7" y1="310.2" x2="60.6" y2="311.6" stroke="#b4aeac" stroke-width="1.1" stroke-linecap="round"/><line x1="60.6" y1="311.6" x2="63.5" y2="313" stroke="#ea4c40" stroke-width="1.1" stroke-linecap="round"/><circle cx="44.8" cy="304.4" r="1.6" fill="#cc30c4"/></g>
<g><line x1="92.7" y1="333.4" x2="89.6" y2="329.8" stroke="#cc30c4" stroke-width="1.1" stroke-linecap="round"/><line x1="89.6" y1="329.8" x2="86.5" y2="326.3" stroke="#ea4c40" stroke-width="1.1" stroke-linecap="round"/><line x1="92.7" y1="333.4" x2="95.3" y2="329.8" stroke="#cc30c4" stroke-width="1.1" stroke-linecap="round"/><line x1="95.3" y1="329.8" x2="97.9" y2="326.3" stroke="#ea4c40" stroke-width="1.1" stroke-linecap="round"/><line x1="86.5" y1="326.3" x2="89" y2="324.1" stroke="#ea4c40" stroke-width="1.1" stroke-linecap="round"/><line x1="89" y1="324.1" x2="91.6" y2="322" stroke="#b4aeac" stroke-width="1.1" stroke-linecap="round"/><line x1="97.9" y1="326.3" x2="94.8" y2="324.1" stroke="#ea4c40" stroke-width="1.1" stroke-linecap="round"/><line x1="94.8" y1="324.1" x2="91.6" y2="322" stroke="#b4aeac" stroke-width="1.1" stroke-linecap="round"/><line x1="91.6" y1="322" x2="91.3" y2="319.1" stroke="#b4aeac" stroke-width="1.1" stroke-linecap="round"/><line x1="91.3" y1="319.1" x2="91" y2="316.2" stroke="#ea4c40" stroke-width="1.1" stroke-linecap="round"/><line x1="92.7" y1="333.4" x2="86.7" y2="333.9" stroke="#cc30c4" stroke-width="1.1" stroke-linecap="round"/><line x1="86.7" y1="333.9" x2="80.7" y2="334.3" stroke="#ea4c40" stroke-width="1.1" stroke-linecap="round"/><line x1="92.7" y1="333.4" x2="90.8" y2="336.8" stroke="#cc30c4" stroke-width="1.1" stroke-linecap="round"/><line x1="90.8" y1="336.8" x2="88.9" y2="340.1" stroke="#ea4c40" stroke-width="1.1" stroke-linecap="round"/><line x1="80.7" y1="334.3" x2="80.5" y2="337.2" stroke="#ea4c40" stroke-width="1.1" stroke-linecap="round"/><line x1="80.5" y1="337.2" x2="80.3" y2="340.1" stroke="#b4aeac" stroke-width="1.1" stroke-linecap="round"/><line x1="88.9" y1="340.1" x2="84.6" y2="340.1" stroke="#ea4c40" stroke-width="1.1" stroke-linecap="round"/><line x1="84.6" y1="340.1" x2="80.3" y2="340.1" stroke="#b4aeac" stroke-width="1.1" stroke-linecap="round"/><line x1="80.3" y1="340.1" x2="77" y2="341.1" stroke="#b4aeac" stroke-width="1.1" stroke-linecap="round"/><line x1="77" y1="341.1" x2="73.6" y2="342" stroke="#ea4c40" stroke-width="1.1" stroke-linecap="round"/><line x1="92.7" y1="333.4" x2="98.2" y2="333.4" stroke="#cc30c4" stroke-width="1.1" stroke-linecap="round"/><line x1="98.2" y1="333.4" x2="103.7" y2="333.4" stroke="#ea4c40" stroke-width="1.1" stroke-linecap="round"/><line x1="92.7" y1="333.4" x2="95.6" y2="336.5" stroke="#cc30c4" stroke-width="1.1" stroke-linecap="round"/><line x1="95.6" y1="336.5" x2="98.5" y2="339.6" stroke="#ea4c40" stroke-width="1.1" stroke-linecap="round"/><line x1="103.7" y1="333.4" x2="104.7" y2="336.3" stroke="#ea4c40" stroke-width="1.1" stroke-linecap="round"/><line x1="104.7" y1="336.3" x2="105.6" y2="339.2" stroke="#b4aeac" stroke-width="1.1" stroke-linecap="round"/><line x1="98.5" y1="339.6" x2="102" y2="339.4" stroke="#ea4c40" stroke-width="1.1" stroke-linecap="round"/><line x1="102" y1="339.4" x2="105.6" y2="339.2" stroke="#b4aeac" stroke-width="1.1" stroke-linecap="round"/><line x1="105.6" y1="339.2" x2="108.5" y2="340.6" stroke="#b4aeac" stroke-width="1.1" stroke-linecap="round"/><line x1="108.5" y1="340.6" x2="111.4" y2="342" stroke="#ea4c40" stroke-width="1.1" stroke-linecap="round"/><circle cx="92.7" cy="333.4" r="1.6" fill="#cc30c4"/></g>
<g><line x1="141.1" y1="313.7" x2="138" y2="310.1" stroke="#cc30c4" stroke-width="1.1" stroke-linecap="round"/><line x1="138" y1="310.1" x2="134.9" y2="306.6" stroke="#ea4c40" stroke-width="1.1" stroke-linecap="round"/><line x1="141.1" y1="313.7" x2="143.7" y2="310.1" stroke="#cc30c4" stroke-width="1.1" stroke-linecap="round"/><line x1="143.7" y1="310.1" x2="146.3" y2="306.6" stroke="#ea4c40" stroke-width="1.1" stroke-linecap="round"/><line x1="134.9" y1="306.6" x2="137.4" y2="304.4" stroke="#ea4c40" stroke-width="1.1" stroke-linecap="round"/><line x1="137.4" y1="304.4" x2="140" y2="302.3" stroke="#b4aeac" stroke-width="1.1" stroke-linecap="round"/><line x1="146.3" y1="306.6" x2="143.2" y2="304.4" stroke="#ea4c40" stroke-width="1.1" stroke-linecap="round"/><line x1="143.2" y1="304.4" x2="140" y2="302.3" stroke="#b4aeac" stroke-width="1.1" stroke-linecap="round"/><line x1="140" y1="302.3" x2="139.7" y2="299.4" stroke="#b4aeac" stroke-width="1.1" stroke-linecap="round"/><line x1="139.7" y1="299.4" x2="139.4" y2="296.5" stroke="#ea4c40" stroke-width="1.1" stroke-linecap="round"/><line x1="141.1" y1="313.7" x2="135.1" y2="314.2" stroke="#cc30c4" stroke-width="1.1" stroke-linecap="round"/><line x1="135.1" y1="314.2" x2="129.1" y2="314.6" stroke="#ea4c40" stroke-width="1.1" stroke-linecap="round"/><line x1="141.1" y1="313.7" x2="139.2" y2="317.1" stroke="#cc30c4" stroke-width="1.1" stroke-linecap="round"/><line x1="139.2" y1="317.1" x2="137.3" y2="320.4" stroke="#ea4c40" stroke-width="1.1" stroke-linecap="round"/><line x1="129.1" y1="314.6" x2="128.9" y2="317.5" stroke="#ea4c40" stroke-width="1.1" stroke-linecap="round"/><line x1="128.9" y1="317.5" x2="128.7" y2="320.4" stroke="#b4aeac" stroke-width="1.1" stroke-linecap="round"/><line x1="137.3" y1="320.4" x2="133" y2="320.4" stroke="#ea4c40" stroke-width="1.1" stroke-linecap="round"/><line x1="133" y1="320.4" x2="128.7" y2="320.4" stroke="#b4aeac" stroke-width="1.1" stroke-linecap="round"/><line x1="128.7" y1="320.4" x2="125.4" y2="321.4" stroke="#b4aeac" stroke-width="1.1" stroke-linecap="round"/><line x1="125.4" y1="321.4" x2="122" y2="322.3" stroke="#ea4c40" stroke-width="1.1" stroke-linecap="round"/><line x1="141.1" y1="313.7" x2="146.6" y2="313.7" stroke="#cc30c4" stroke-width="1.1" stroke-linecap="round"/><line x1="146.6" y1="313.7" x2="152.1" y2="313.7" stroke="#ea4c40" stroke-width="1.1" stroke-linecap="round"/><line x1="141.1" y1="313.7" x2="144" y2="316.8" stroke="#cc30c4" stroke-width="1.1" stroke-linecap="round"/><line x1="144" y1="316.8" x2="146.9" y2="319.9" stroke="#ea4c40" stroke-width="1.1" stroke-linecap="round"/><line x1="152.1" y1="313.7" x2="153.1" y2="316.6" stroke="#ea4c40" stroke-width="1.1" stroke-linecap="round"/><line x1="153.1" y1="316.6" x2="154" y2="319.5" stroke="#b4aeac" stroke-width="1.1" stroke-linecap="round"/><line x1="146.9" y1="319.9" x2="150.4" y2="319.7" stroke="#ea4c40" stroke-width="1.1" stroke-linecap="round"/><line x1="150.4" y1="319.7" x2="154" y2="319.5" stroke="#b4aeac" stroke-width="1.1" stroke-linecap="round"/><line x1="154" y1="319.5" x2="156.9" y2="320.9" stroke="#b4aeac" stroke-width="1.1" stroke-linecap="round"/><line x1="156.9" y1="320.9" x2="159.8" y2="322.3" stroke="#ea4c40" stroke-width="1.1" stroke-linecap="round"/><circle cx="141.1" cy="313.7" r="1.6" fill="#cc30c4"/></g>
<g><line x1="170.7" y1="285.5" x2="167.6" y2="281.9" stroke="#cc30c4" stroke-width="1.1" stroke-linecap="round"/><line x1="167.6" y1="281.9" x2="164.5" y2="278.4" stroke="#ea4c40" stroke-width="1.1" stroke-linecap="round"/><line x1="170.7" y1="285.5" x2="173.3" y2="281.9" stroke="#cc30c4" stroke-width="1.1" stroke-linecap="round"/><line x1="173.3" y1="281.9" x2="175.9" y2="278.4" stroke="#ea4c40" stroke-width="1.1" stroke-linecap="round"/><line x1="164.5" y1="278.4" x2="167" y2="276.2" stroke="#ea4c40" stroke-width="1.1" stroke-linecap="round"/><line x1="167" y1="276.2" x2="169.6" y2="274.1" stroke="#b4aeac" stroke-width="1.1" stroke-linecap="round"/><line x1="175.9" y1="278.4" x2="172.8" y2="276.2" stroke="#ea4c40" stroke-width="1.1" stroke-linecap="round"/><line x1="172.8" y1="276.2" x2="169.6" y2="274.1" stroke="#b4aeac" stroke-width="1.1" stroke-linecap="round"/><line x1="169.6" y1="274.1" x2="169.3" y2="271.2" stroke="#b4aeac" stroke-width="1.1" stroke-linecap="round"/><line x1="169.3" y1="271.2" x2="169" y2="268.3" stroke="#ea4c40" stroke-width="1.1" stroke-linecap="round"/><line x1="170.7" y1="285.5" x2="164.7" y2="286" stroke="#cc30c4" stroke-width="1.1" stroke-linecap="round"/><line x1="164.7" y1="286" x2="158.7" y2="286.4" stroke="#ea4c40" stroke-width="1.1" stroke-linecap="round"/><line x1="170.7" y1="285.5" x2="168.8" y2="288.9" stroke="#cc30c4" stroke-width="1.1" stroke-linecap="round"/><line x1="168.8" y1="288.9" x2="166.9" y2="292.2" stroke="#ea4c40" stroke-width="1.1" stroke-linecap="round"/><line x1="158.7" y1="286.4" x2="158.5" y2="289.3" stroke="#ea4c40" stroke-width="1.1" stroke-linecap="round"/><line x1="158.5" y1="289.3" x2="158.3" y2="292.2" stroke="#b4aeac" stroke-width="1.1" stroke-linecap="round"/><line x1="166.9" y1="292.2" x2="162.6" y2="292.2" stroke="#ea4c40" stroke-width="1.1" stroke-linecap="round"/><line x1="162.6" y1="292.2" x2="158.3" y2="292.2" stroke="#b4aeac" stroke-width="1.1" stroke-linecap="round"/><line x1="158.3" y1="292.2" x2="155" y2="293.2" stroke="#b4aeac" stroke-width="1.1" stroke-linecap="round"/><line x1="155" y1="293.2" x2="151.6" y2="294.1" stroke="#ea4c40" stroke-width="1.1" stroke-linecap="round"/><line x1="170.7" y1="285.5" x2="176.2" y2="285.5" stroke="#cc30c4" stroke-width="1.1" stroke-linecap="round"/><line x1="176.2" y1="285.5" x2="181.7" y2="285.5" stroke="#ea4c40" stroke-width="1.1" stroke-linecap="round"/><line x1="170.7" y1="285.5" x2="173.6" y2="288.6" stroke="#cc30c4" stroke-width="1.1" stroke-linecap="round"/><line x1="173.6" y1="288.6" x2="176.5" y2="291.7" stroke="#ea4c40" stroke-width="1.1" stroke-linecap="round"/><line x1="181.7" y1="285.5" x2="182.7" y2="288.4" stroke="#ea4c40" stroke-width="1.1" stroke-linecap="round"/><line x1="182.7" y1="288.4" x2="183.6" y2="291.3" stroke="#b4aeac" stroke-width="1.1" stroke-linecap="round"/><line x1="176.5" y1="291.7" x2="180" y2="291.5" stroke="#ea4c40" stroke-width="1.1" stroke-linecap="round"/><line x1="180" y1="291.5" x2="183.6" y2="291.3" stroke="#b4aeac" stroke-width="1.1" stroke-linecap="round"/><line x1="183.6" y1="291.3" x2="186.5" y2="292.7" stroke="#b4aeac" stroke-width="1.1" stroke-linecap="round"/><line x1="186.5" y1="292.7" x2="189.4" y2="294.1" stroke="#ea4c40" stroke-width="1.1" stroke-linecap="round"/><circle cx="170.7" cy="285.5" r="1.6" fill="#cc30c4"/></g>
<g><line x1="459.4" y1="293.2" x2="456.3" y2="289.6" stroke="#cc30c4" stroke-width="1.1" stroke-linecap="round"/><line x1="456.3" y1="289.6" x2="453.2" y2="286.1" stroke="#ea4c40" stroke-width="1.1" stroke-linecap="round"/><line x1="459.4" y1="293.2" x2="462" y2="289.6" stroke="#cc30c4" stroke-width="1.1" stroke-linecap="round"/><line x1="462" y1="289.6" x2="464.6" y2="286.1" stroke="#ea4c40" stroke-width="1.1" stroke-linecap="round"/><line x1="453.2" y1="286.1" x2="455.7" y2="283.9" stroke="#ea4c40" stroke-width="1.1" stroke-linecap="round"/><line x1="455.7" y1="283.9" x2="458.3" y2="281.8" stroke="#b4aeac" stroke-width="1.1" stroke-linecap="round"/><line x1="464.6" y1="286.1" x2="461.5" y2="283.9" stroke="#ea4c40" stroke-width="1.1" stroke-linecap="round"/><line x1="461.5" y1="283.9" x2="458.3" y2="281.8" stroke="#b4aeac" stroke-width="1.1" stroke-linecap="round"/><line x1="458.3" y1="281.8" x2="458" y2="278.9" stroke="#b4aeac" stroke-width="1.1" stroke-linecap="round"/><line x1="458" y1="278.9" x2="457.7" y2="276" stroke="#ea4c40" stroke-width="1.1" stroke-linecap="round"/><line x1="459.4" y1="293.2" x2="453.4" y2="293.7" stroke="#cc30c4" stroke-width="1.1" stroke-linecap="round"/><line x1="453.4" y1="293.7" x2="447.4" y2="294.1" stroke="#ea4c40" stroke-width="1.1" stroke-linecap="round"/><line x1="459.4" y1="293.2" x2="457.5" y2="296.6" stroke="#cc30c4" stroke-width="1.1" stroke-linecap="round"/><line x1="457.5" y1="296.6" x2="455.6" y2="299.9" stroke="#ea4c40" stroke-width="1.1" stroke-linecap="round"/><line x1="447.4" y1="294.1" x2="447.2" y2="297" stroke="#ea4c40" stroke-width="1.1" stroke-linecap="round"/><line x1="447.2" y1="297" x2="447" y2="299.9" stroke="#b4aeac" stroke-width="1.1" stroke-linecap="round"/><line x1="455.6" y1="299.9" x2="451.3" y2="299.9" stroke="#ea4c40" stroke-width="1.1" stroke-linecap="round"/><line x1="451.3" y1="299.9" x2="447" y2="299.9" stroke="#b4aeac" stroke-width="1.1" stroke-linecap="round"/><line x1="447" y1="299.9" x2="443.7" y2="300.9" stroke="#b4aeac" stroke-width="1.1" stroke-linecap="round"/><line x1="443.7" y1="300.9" x2="440.3" y2="301.8" stroke="#ea4c40" stroke-width="1.1" stroke-linecap="round"/><line x1="459.4" y1="293.2" x2="464.9" y2="293.2" stroke="#cc30c4" stroke-width="1.1" stroke-linecap="round"/><line x1="464.9" y1="293.2" x2="470.4" y2="293.2" stroke="#ea4c40" stroke-width="1.1" stroke-linecap="round"/><line x1="459.4" y1="293.2" x2="462.3" y2="296.3" stroke="#cc30c4" stroke-width="1.1" stroke-linecap="round"/><line x1="462.3" y1="296.3" x2="465.2" y2="299.4" stroke="#ea4c40" stroke-width="1.1" stroke-linecap="round"/><line x1="470.4" y1="293.2" x2="471.4" y2="296.1" stroke="#ea4c40" stroke-width="1.1" stroke-linecap="round"/><line x1="471.4" y1="296.1" x2="472.3" y2="299" stroke="#b4aeac" stroke-width="1.1" stroke-linecap="round"/><line x1="465.2" y1="299.4" x2="468.7" y2="299.2" stroke="#ea4c40" stroke-width="1.1" stroke-linecap="round"/><line x1="468.7" y1="299.2" x2="472.3" y2="299" stroke="#b4aeac" stroke-width="1.1" stroke-linecap="round"/><line x1="472.3" y1="299" x2="475.2" y2="300.4" stroke="#b4aeac" stroke-width="1.1" stroke-linecap="round"/><line x1="475.2" y1="300.4" x2="478.1" y2="301.8" stroke="#ea4c40" stroke-width="1.1" stroke-linecap="round"/><circle cx="459.4" cy="293.2" r="1.6" fill="#cc30c4"/></g>
<g><line x1="527.2" y1="278.8" x2="524.1" y2="275.2" stroke="#cc30c4" stroke-width="1.1" stroke-linecap="round"/><line x1="524.1" y1="275.2" x2="521" y2="271.7" stroke="#ea4c40" stroke-width="1.1" stroke-linecap="round"/><line x1="527.2" y1="278.8" x2="529.8" y2="275.2" stroke="#cc30c4" stroke-width="1.1" stroke-linecap="round"/><line x1="529.8" y1="275.2" x2="532.4" y2="271.7" stroke="#ea4c40" stroke-width="1.1" stroke-linecap="round"/><line x1="521" y1="271.7" x2="523.5" y2="269.5" stroke="#ea4c40" stroke-width="1.1" stroke-linecap="round"/><line x1="523.5" y1="269.5" x2="526.1" y2="267.4" stroke="#b4aeac" stroke-width="1.1" stroke-linecap="round"/><line x1="532.4" y1="271.7" x2="529.3" y2="269.5" stroke="#ea4c40" stroke-width="1.1" stroke-linecap="round"/><line x1="529.3" y1="269.5" x2="526.1" y2="267.4" stroke="#b4aeac" stroke-width="1.1" stroke-linecap="round"/><line x1="526.1" y1="267.4" x2="525.8" y2="264.5" stroke="#b4aeac" stroke-width="1.1" stroke-linecap="round"/><line x1="525.8" y1="264.5" x2="525.5" y2="261.6" stroke="#ea4c40" stroke-width="1.1" stroke-linecap="round"/><line x1="527.2" y1="278.8" x2="521.2" y2="279.3" stroke="#cc30c4" stroke-width="1.1" stroke-linecap="round"/><line x1="521.2" y1="279.3" x2="515.2" y2="279.7" stroke="#ea4c40" stroke-width="1.1" stroke-linecap="round"/><line x1="527.2" y1="278.8" x2="525.3" y2="282.2" stroke="#cc30c4" stroke-width="1.1" stroke-linecap="round"/><line x1="525.3" y1="282.2" x2="523.4" y2="285.5" stroke="#ea4c40" stroke-width="1.1" stroke-linecap="round"/><line x1="515.2" y1="279.7" x2="515" y2="282.6" stroke="#ea4c40" stroke-width="1.1" stroke-linecap="round"/><line x1="515" y1="282.6" x2="514.8" y2="285.5" stroke="#b4aeac" stroke-width="1.1" stroke-linecap="round"/><line x1="523.4" y1="285.5" x2="519.1" y2="285.5" stroke="#ea4c40" stroke-width="1.1" stroke-linecap="round"/><line x1="519.1" y1="285.5" x2="514.8" y2="285.5" stroke="#b4aeac" stroke-width="1.1" stroke-linecap="round"/><line x1="514.8" y1="285.5" x2="511.5" y2="286.5" stroke="#b4aeac" stroke-width="1.1" stroke-linecap="round"/><line x1="511.5" y1="286.5" x2="508.1" y2="287.4" stroke="#ea4c40" stroke-width="1.1" stroke-linecap="round"/><line x1="527.2" y1="278.8" x2="532.7" y2="278.8" stroke="#cc30c4" stroke-width="1.1" stroke-linecap="round"/><line x1="532.7" y1="278.8" x2="538.2" y2="278.8" stroke="#ea4c40" stroke-width="1.1" stroke-linecap="round"/><line x1="527.2" y1="278.8" x2="530.1" y2="281.9" stroke="#cc30c4" stroke-width="1.1" stroke-linecap="round"/><line x1="530.1" y1="281.9" x2="533" y2="285" stroke="#ea4c40" stroke-width="1.1" stroke-linecap="round"/><line x1="538.2" y1="278.8" x2="539.2" y2="281.7" stroke="#ea4c40" stroke-width="1.1" stroke-linecap="round"/><line x1="539.2" y1="281.7" x2="540.1" y2="284.6" stroke="#b4aeac" stroke-width="1.1" stroke-linecap="round"/><line x1="533" y1="285" x2="536.5" y2="284.8" stroke="#ea4c40" stroke-width="1.1" stroke-linecap="round"/><line x1="536.5" y1="284.8" x2="540.1" y2="284.6" stroke="#b4aeac" stroke-width="1.1" stroke-linecap="round"/><line x1="540.1" y1="284.6" x2="543" y2="286" stroke="#b4aeac" stroke-width="1.1" stroke-linecap="round"/><line x1="543" y1="286" x2="545.9" y2="287.4" stroke="#ea4c40" stroke-width="1.1" stroke-linecap="round"/><circle cx="527.2" cy="278.8" r="1.6" fill="#cc30c4"/></g>
<g><line x1="592.6" y1="295.5" x2="589.5" y2="291.9" stroke="#cc30c4" stroke-width="1.1" stroke-linecap="round"/><line x1="589.5" y1="291.9" x2="586.4" y2="288.4" stroke="#ea4c40" stroke-width="1.1" stroke-linecap="round"/><line x1="592.6" y1="295.5" x2="595.2" y2="291.9" stroke="#cc30c4" stroke-width="1.1" stroke-linecap="round"/><line x1="595.2" y1="291.9" x2="597.8" y2="288.4" stroke="#ea4c40" stroke-width="1.1" stroke-linecap="round"/><line x1="586.4" y1="288.4" x2="588.9" y2="286.2" stroke="#ea4c40" stroke-width="1.1" stroke-linecap="round"/><line x1="588.9" y1="286.2" x2="591.5" y2="284.1" stroke="#b4aeac" stroke-width="1.1" stroke-linecap="round"/><line x1="597.8" y1="288.4" x2="594.7" y2="286.2" stroke="#ea4c40" stroke-width="1.1" stroke-linecap="round"/><line x1="594.7" y1="286.2" x2="591.5" y2="284.1" stroke="#b4aeac" stroke-width="1.1" stroke-linecap="round"/><line x1="591.5" y1="284.1" x2="591.2" y2="281.2" stroke="#b4aeac" stroke-width="1.1" stroke-linecap="round"/><line x1="591.2" y1="281.2" x2="590.9" y2="278.3" stroke="#ea4c40" stroke-width="1.1" stroke-linecap="round"/><line x1="592.6" y1="295.5" x2="586.6" y2="296" stroke="#cc30c4" stroke-width="1.1" stroke-linecap="round"/><line x1="586.6" y1="296" x2="580.6" y2="296.4" stroke="#ea4c40" stroke-width="1.1" stroke-linecap="round"/><line x1="592.6" y1="295.5" x2="590.7" y2="298.9" stroke="#cc30c4" stroke-width="1.1" stroke-linecap="round"/><line x1="590.7" y1="298.9" x2="588.8" y2="302.2" stroke="#ea4c40" stroke-width="1.1" stroke-linecap="round"/><line x1="580.6" y1="296.4" x2="580.4" y2="299.3" stroke="#ea4c40" stroke-width="1.1" stroke-linecap="round"/><line x1="580.4" y1="299.3" x2="580.2" y2="302.2" stroke="#b4aeac" stroke-width="1.1" stroke-linecap="round"/><line x1="588.8" y1="302.2" x2="584.5" y2="302.2" stroke="#ea4c40" stroke-width="1.1" stroke-linecap="round"/><line x1="584.5" y1="302.2" x2="580.2" y2="302.2" stroke="#b4aeac" stroke-width="1.1" stroke-linecap="round"/><line x1="580.2" y1="302.2" x2="576.9" y2="303.2" stroke="#b4aeac" stroke-width="1.1" stroke-linecap="round"/><line x1="576.9" y1="303.2" x2="573.5" y2="304.1" stroke="#ea4c40" stroke-width="1.1" stroke-linecap="round"/><line x1="592.6" y1="295.5" x2="598.1" y2="295.5" stroke="#cc30c4" stroke-width="1.1" stroke-linecap="round"/><line x1="598.1" y1="295.5" x2="603.6" y2="295.5" stroke="#ea4c40" stroke-width="1.1" stroke-linecap="round"/><line x1="592.6" y1="295.5" x2="595.5" y2="298.6" stroke="#cc30c4" stroke-width="1.1" stroke-linecap="round"/><line x1="595.5" y1="298.6" x2="598.4" y2="301.7" stroke="#ea4c40" stroke-width="1.1" stroke-linecap="round"/><line x1="603.6" y1="295.5" x2="604.6" y2="298.4" stroke="#ea4c40" stroke-width="1.1" stroke-linecap="round"/><line x1="604.6" y1="298.4" x2="605.5" y2="301.3" stroke="#b4aeac" stroke-width="1.1" stroke-linecap="round"/><line x1="598.4" y1="301.7" x2="601.9" y2="301.5" stroke="#ea4c40" stroke-width="1.1" stroke-linecap="round"/><line x1="601.9" y1="301.5" x2="605.5" y2="301.3" stroke="#b4aeac" stroke-width="1.1" stroke-linecap="round"/><line x1="605.5" y1="301.3" x2="608.4" y2="302.7" stroke="#b4aeac" stroke-width="1.1" stroke-linecap="round"/><line x1="608.4" y1="302.7" x2="611.3" y2="304.1" stroke="#ea4c40" stroke-width="1.1" stroke-linecap="round"/><circle cx="592.6" cy="295.5" r="1.6" fill="#cc30c4"/></g>
<g><line x1="542.8" y1="341.1" x2="539.7" y2="337.5" stroke="#cc30c4" stroke-width="1.1" stroke-linecap="round"/><line x1="539.7" y1="337.5" x2="536.6" y2="334" stroke="#ea4c40" stroke-width="1.1" stroke-linecap="round"/><line x1="542.8" y1="341.1" x2="545.4" y2="337.5" stroke="#cc30c4" stroke-width="1.1" stroke-linecap="round"/><line x1="545.4" y1="337.5" x2="548" y2="334" stroke="#ea4c40" stroke-width="1.1" stroke-linecap="round"/><line x1="536.6" y1="334" x2="539.1" y2="331.8" stroke="#ea4c40" stroke-width="1.1" stroke-linecap="round"/><line x1="539.1" y1="331.8" x2="541.7" y2="329.7" stroke="#b4aeac" stroke-width="1.1" stroke-linecap="round"/><line x1="548" y1="334" x2="544.9" y2="331.8" stroke="#ea4c40" stroke-width="1.1" stroke-linecap="round"/><line x1="544.9" y1="331.8" x2="541.7" y2="329.7" stroke="#b4aeac" stroke-width="1.1" stroke-linecap="round"/><line x1="541.7" y1="329.7" x2="541.4" y2="326.8" stroke="#b4aeac" stroke-width="1.1" stroke-linecap="round"/><line x1="541.4" y1="326.8" x2="541.1" y2="323.9" stroke="#ea4c40" stroke-width="1.1" stroke-linecap="round"/><line x1="542.8" y1="341.1" x2="536.8" y2="341.6" stroke="#cc30c4" stroke-width="1.1" stroke-linecap="round"/><line x1="536.8" y1="341.6" x2="530.8" y2="342" stroke="#ea4c40" stroke-width="1.1" stroke-linecap="round"/><line x1="542.8" y1="341.1" x2="540.9" y2="344.5" stroke="#cc30c4" stroke-width="1.1" stroke-linecap="round"/><line x1="540.9" y1="344.5" x2="539" y2="347.8" stroke="#ea4c40" stroke-width="1.1" stroke-linecap="round"/><line x1="530.8" y1="342" x2="530.6" y2="344.9" stroke="#ea4c40" stroke-width="1.1" stroke-linecap="round"/><line x1="530.6" y1="344.9" x2="530.4" y2="347.8" stroke="#b4aeac" stroke-width="1.1" stroke-linecap="round"/><line x1="539" y1="347.8" x2="534.7" y2="347.8" stroke="#ea4c40" stroke-width="1.1" stroke-linecap="round"/><line x1="534.7" y1="347.8" x2="530.4" y2="347.8" stroke="#b4aeac" stroke-width="1.1" stroke-linecap="round"/><line x1="530.4" y1="347.8" x2="527.1" y2="348.8" stroke="#b4aeac" stroke-width="1.1" stroke-linecap="round"/><line x1="527.1" y1="348.8" x2="523.7" y2="349.7" stroke="#ea4c40" stroke-width="1.1" stroke-linecap="round"/><line x1="542.8" y1="341.1" x2="548.3" y2="341.1" stroke="#cc30c4" stroke-width="1.1" stroke-linecap="round"/><line x1="548.3" y1="341.1" x2="553.8" y2="341.1" stroke="#ea4c40" stroke-width="1.1" stroke-linecap="round"/><line x1="542.8" y1="341.1" x2="545.7" y2="344.2" stroke="#cc30c4" stroke-width="1.1" stroke-linecap="round"/><line x1="545.7" y1="344.2" x2="548.6" y2="347.3" stroke="#ea4c40" stroke-width="1.1" stroke-linecap="round"/><line x1="553.8" y1="341.1" x2="554.8" y2="344" stroke="#ea4c40" stroke-width="1.1" stroke-linecap="round"/><line x1="554.8" y1="344" x2="555.7" y2="346.9" stroke="#b4aeac" stroke-width="1.1" stroke-linecap="round"/><line x1="548.6" y1="347.3" x2="552.1" y2="347.1" stroke="#ea4c40" stroke-width="1.1" stroke-linecap="round"/><line x1="552.1" y1="347.1" x2="555.7" y2="346.9" stroke="#b4aeac" stroke-width="1.1" stroke-linecap="round"/><line x1="555.7" y1="346.9" x2="558.6" y2="348.3" stroke="#b4aeac" stroke-width="1.1" stroke-linecap="round"/><line x1="558.6" y1="348.3" x2="561.5" y2="349.7" stroke="#ea4c40" stroke-width="1.1" stroke-linecap="round"/><circle cx="542.8" cy="341.1" r="1.6" fill="#cc30c4"/></g>
<path d="M77.7,311C80.6,310.8 89.2,310.6 95,309.8C100.8,309 107.2,308.5 112.7,306.4C118.2,304.3 123.3,300.8 128,297C132.7,293.2 137.1,288.6 140.8,283.9C144.5,279.2 147.3,272.7 150.2,268.9C153.1,265.1 154.9,263.2 158,261C161.1,258.8 165,257.4 169,255.7C173,253.9 177.6,252.1 182,250.5C186.4,248.9 193.1,247 195.3,246.3" fill="none" stroke="#5583c2" stroke-width="2.5" stroke-linecap="round" opacity="0.95"/>
<path d="M77.7,311C80.6,310.8 89.2,310.6 95,309.8C100.8,309 107.2,308.5 112.7,306.4C118.2,304.3 123.3,300.8 128,297C132.7,293.2 137.1,288.6 140.8,283.9C144.5,279.2 147.3,272.7 150.2,268.9C153.1,265.1 154.9,263.2 158,261C161.1,258.8 165,257.4 169,255.7C173,253.9 177.6,252.1 182,250.5C186.4,248.9 193.1,247 195.3,246.3" fill="none" stroke="#86a8dc" stroke-width="0.9" stroke-dasharray="1.2 1.8" opacity="0.7"/>
<path d="M397,253.5C399.5,253.6 406.7,253.7 412,254C417.3,254.3 423.5,254.7 429,255.4C434.5,256.1 439.8,257.2 445,258.5C450.2,259.8 455.5,261.2 460,263C464.5,264.8 468.4,266.7 472,269C475.6,271.3 478.8,274.1 481.6,276.8C484.4,279.6 486.7,282.6 489,285.5C491.3,288.4 492.7,291.6 495.2,294.4C497.7,297.1 500.8,299.7 504,302C507.2,304.3 510.4,306.2 514.7,308C519,309.8 524.8,311.3 530,312.5C535.2,313.7 540.1,314.2 545.9,315C551.7,315.8 558.8,316.6 565,317.2C571.2,317.8 579.9,318.6 582.9,318.9" fill="none" stroke="#5583c2" stroke-width="2.5" stroke-linecap="round" opacity="0.95"/>
<path d="M397,253.5C399.5,253.6 406.7,253.7 412,254C417.3,254.3 423.5,254.7 429,255.4C434.5,256.1 439.8,257.2 445,258.5C450.2,259.8 455.5,261.2 460,263C464.5,264.8 468.4,266.7 472,269C475.6,271.3 478.8,274.1 481.6,276.8C484.4,279.6 486.7,282.6 489,285.5C491.3,288.4 492.7,291.6 495.2,294.4C497.7,297.1 500.8,299.7 504,302C507.2,304.3 510.4,306.2 514.7,308C519,309.8 524.8,311.3 530,312.5C535.2,313.7 540.1,314.2 545.9,315C551.7,315.8 558.8,316.6 565,317.2C571.2,317.8 579.9,318.6 582.9,318.9" fill="none" stroke="#86a8dc" stroke-width="0.9" stroke-dasharray="1.2 1.8" opacity="0.7"/>
<path d="M146.7,351.8 A42,39.5 0 1,1 104.7,391.3 L146.7,391.3 Z" fill="none" stroke="#1c9fe6" stroke-width="1.6" stroke-dasharray="4.4 2.2"/>
<defs><radialGradient id="imag" cx="0.42" cy="0.36" r="0.66"><stop offset="0" stop-color="#dc5aa0"/><stop offset="0.55" stop-color="#b02f78"/><stop offset="1" stop-color="#4a0e30"/></radialGradient><radialGradient id="ired" cx="0.42" cy="0.36" r="0.66"><stop offset="0" stop-color="#f23a34"/><stop offset="0.55" stop-color="#cc1012"/><stop offset="1" stop-color="#5a0204"/></radialGradient><radialGradient id="igrn" cx="0.42" cy="0.36" r="0.66"><stop offset="0" stop-color="#a6dc54"/><stop offset="0.55" stop-color="#76b62a"/><stop offset="1" stop-color="#2c4a0c"/></radialGradient><radialGradient id="isal" cx="0.42" cy="0.36" r="0.66"><stop offset="0" stop-color="#e88464"/><stop offset="0.55" stop-color="#c4543a"/><stop offset="1" stop-color="#5e2212"/></radialGradient><radialGradient id="iyel" cx="0.42" cy="0.36" r="0.66"><stop offset="0" stop-color="#ecec58"/><stop offset="0.55" stop-color="#c8c62a"/><stop offset="1" stop-color="#5c5608"/></radialGradient><radialGradient id="ipur" cx="0.42" cy="0.36" r="0.66"><stop offset="0" stop-color="#bc58dc"/><stop offset="0.55" stop-color="#8e2eb6"/><stop offset="1" stop-color="#3c0e56"/></radialGradient></defs>
<ellipse cx="161.6" cy="374.8" rx="6.3" ry="2.2" fill="#000" opacity="0.13"/><circle cx="160.4" cy="367.5" r="7.9" fill="url(#imag)"/><circle cx="156.4" cy="363.6" r="0.65" fill="#ff60c0" opacity="0.38"/><circle cx="165.6" cy="365.5" r="0.65" fill="#40ff90" opacity="0.38"/><circle cx="164.7" cy="368.3" r="0.65" fill="#fff" opacity="0.38"/><circle cx="156.8" cy="362.5" r="0.65" fill="#fff" opacity="0.38"/><circle cx="156.2" cy="371.9" r="0.65" fill="#ffe070" opacity="0.38"/><circle cx="155.7" cy="366.2" r="0.65" fill="#fff" opacity="0.38"/><circle cx="159.9" cy="363.4" r="0.65" fill="#fff" opacity="0.38"/><circle cx="165.3" cy="364.7" r="0.65" fill="#fff" opacity="0.38"/><circle cx="160.5" cy="365.8" r="0.65" fill="#40ff90" opacity="0.38"/><circle cx="158.7" cy="365.9" r="0.65" fill="#fff" opacity="0.38"/><circle cx="160.9" cy="367.4" r="0.65" fill="#fff" opacity="0.38"/><circle cx="163" cy="366.8" r="0.65" fill="#fff" opacity="0.38"/><circle cx="158.8" cy="373.7" r="0.65" fill="#40ff90" opacity="0.38"/><circle cx="164" cy="363.9" r="0.65" fill="#fff" opacity="0.38"/><circle cx="165.4" cy="365.5" r="0.65" fill="#ffe070" opacity="0.38"/><circle cx="159.2" cy="371.2" r="0.65" fill="#fff" opacity="0.38"/>
<ellipse cx="157.2" cy="393.7" rx="6.3" ry="2.2" fill="#000" opacity="0.13"/><circle cx="156" cy="386.4" r="7.9" fill="url(#ired)"/>
<ellipse cx="176.7" cy="390.8" rx="6.3" ry="2.2" fill="#000" opacity="0.13"/><circle cx="175.5" cy="383.5" r="7.9" fill="url(#igrn)"/><circle cx="178.6" cy="382.2" r="0.65" fill="#000" opacity="0.38"/><circle cx="173.9" cy="388.3" r="0.65" fill="#fff" opacity="0.38"/><circle cx="171" cy="380.4" r="0.65" fill="#fff" opacity="0.38"/><circle cx="173.3" cy="388.9" r="0.65" fill="#ffe070" opacity="0.38"/><circle cx="174.6" cy="380.9" r="0.65" fill="#ffe070" opacity="0.38"/><circle cx="175.1" cy="382" r="0.65" fill="#fff" opacity="0.38"/><circle cx="179.2" cy="382.3" r="0.65" fill="#ffe070" opacity="0.38"/><circle cx="181.2" cy="384.2" r="0.65" fill="#000" opacity="0.38"/><circle cx="171.3" cy="387.7" r="0.65" fill="#ffe070" opacity="0.38"/><circle cx="178.1" cy="384.3" r="0.65" fill="#fff" opacity="0.38"/><circle cx="177.9" cy="385.7" r="0.65" fill="#ffe070" opacity="0.38"/><circle cx="173.3" cy="386.7" r="0.65" fill="#40ff90" opacity="0.38"/><circle cx="175.5" cy="387.9" r="0.65" fill="#40ff90" opacity="0.38"/><circle cx="175.4" cy="377.7" r="0.65" fill="#000" opacity="0.38"/><circle cx="181.6" cy="384.9" r="0.65" fill="#fff" opacity="0.38"/><circle cx="176.7" cy="388" r="0.65" fill="#000" opacity="0.38"/>
<ellipse cx="129.2" cy="412.1" rx="6.3" ry="2.2" fill="#000" opacity="0.13"/><circle cx="128" cy="404.8" r="7.9" fill="url(#isal)"/><circle cx="131.3" cy="402.9" r="0.65" fill="#ff60c0" opacity="0.38"/><circle cx="124.5" cy="403.8" r="0.65" fill="#000" opacity="0.38"/><circle cx="126" cy="410.2" r="0.65" fill="#ff60c0" opacity="0.38"/><circle cx="131.2" cy="409.1" r="0.65" fill="#ffe070" opacity="0.38"/><circle cx="128.8" cy="406" r="0.65" fill="#40ff90" opacity="0.38"/><circle cx="124" cy="403.9" r="0.65" fill="#fff" opacity="0.38"/><circle cx="127.8" cy="401" r="0.65" fill="#000" opacity="0.38"/><circle cx="124" cy="406" r="0.65" fill="#fff" opacity="0.38"/><circle cx="133.1" cy="404.1" r="0.65" fill="#ffe070" opacity="0.38"/><circle cx="126.5" cy="407.3" r="0.65" fill="#ff60c0" opacity="0.38"/><circle cx="125.8" cy="403.9" r="0.65" fill="#ffe070" opacity="0.38"/><circle cx="131.3" cy="407.5" r="0.65" fill="#fff" opacity="0.38"/><circle cx="131.9" cy="406.3" r="0.65" fill="#fff" opacity="0.38"/><circle cx="121.8" cy="406.7" r="0.65" fill="#fff" opacity="0.38"/><circle cx="132.3" cy="404.1" r="0.65" fill="#ffe070" opacity="0.38"/><circle cx="126.6" cy="401.4" r="0.65" fill="#000" opacity="0.38"/>
<ellipse cx="146.4" cy="420.6" rx="6.3" ry="2.2" fill="#000" opacity="0.13"/><circle cx="145.2" cy="413.3" r="7.9" fill="url(#iyel)"/><circle cx="144.2" cy="417.3" r="0.65" fill="#fff" opacity="0.38"/><circle cx="149.7" cy="417.1" r="0.65" fill="#40ff90" opacity="0.38"/><circle cx="150.2" cy="412" r="0.65" fill="#ffe070" opacity="0.38"/><circle cx="147.1" cy="411.3" r="0.65" fill="#ffe070" opacity="0.38"/><circle cx="144.4" cy="419" r="0.65" fill="#40ff90" opacity="0.38"/><circle cx="141.5" cy="417.7" r="0.65" fill="#000" opacity="0.38"/><circle cx="143.4" cy="408.3" r="0.65" fill="#000" opacity="0.38"/><circle cx="141.6" cy="417.4" r="0.65" fill="#000" opacity="0.38"/><circle cx="146.9" cy="410.4" r="0.65" fill="#ff60c0" opacity="0.38"/><circle cx="143.9" cy="407.1" r="0.65" fill="#000" opacity="0.38"/><circle cx="142.3" cy="409.3" r="0.65" fill="#fff" opacity="0.38"/><circle cx="139.6" cy="414.2" r="0.65" fill="#000" opacity="0.38"/><circle cx="143.1" cy="409.4" r="0.65" fill="#40ff90" opacity="0.38"/><circle cx="141.7" cy="408.7" r="0.65" fill="#000" opacity="0.38"/><circle cx="144.6" cy="417.1" r="0.65" fill="#ffe070" opacity="0.38"/><circle cx="141.7" cy="418.1" r="0.65" fill="#ff60c0" opacity="0.38"/>
<ellipse cx="166" cy="411.8" rx="6.3" ry="2.2" fill="#000" opacity="0.13"/><circle cx="164.8" cy="404.5" r="7.9" fill="url(#ipur)"/><circle cx="161.1" cy="405.7" r="0.65" fill="#000" opacity="0.38"/><circle cx="160.1" cy="404" r="0.65" fill="#fff" opacity="0.38"/><circle cx="166" cy="408.2" r="0.65" fill="#ffe070" opacity="0.38"/><circle cx="164.4" cy="406.3" r="0.65" fill="#ff60c0" opacity="0.38"/><circle cx="164.5" cy="401.8" r="0.65" fill="#40ff90" opacity="0.38"/><circle cx="158.6" cy="403.9" r="0.65" fill="#000" opacity="0.38"/><circle cx="160.7" cy="400.5" r="0.65" fill="#ff60c0" opacity="0.38"/><circle cx="164" cy="410.9" r="0.65" fill="#fff" opacity="0.38"/><circle cx="167.1" cy="408.1" r="0.65" fill="#ff60c0" opacity="0.38"/><circle cx="167.2" cy="409.6" r="0.65" fill="#fff" opacity="0.38"/><circle cx="163.9" cy="403.5" r="0.65" fill="#ffe070" opacity="0.38"/><circle cx="167.4" cy="404.2" r="0.65" fill="#fff" opacity="0.38"/><circle cx="169.7" cy="408.6" r="0.65" fill="#ffe070" opacity="0.38"/><circle cx="165.2" cy="405.6" r="0.65" fill="#ffe070" opacity="0.38"/><circle cx="161.7" cy="408.7" r="0.65" fill="#fff" opacity="0.38"/><circle cx="162.1" cy="402.8" r="0.65" fill="#000" opacity="0.38"/>
<ellipse cx="457.9" cy="391.7" rx="6.3" ry="2.2" fill="#000" opacity="0.13"/><circle cx="456.7" cy="384.4" r="7.9" fill="url(#imag)"/><circle cx="460.8" cy="384.4" r="0.65" fill="#000" opacity="0.38"/><circle cx="460.4" cy="379.7" r="0.65" fill="#ff60c0" opacity="0.38"/><circle cx="458.6" cy="380.9" r="0.65" fill="#fff" opacity="0.38"/><circle cx="453.3" cy="383.3" r="0.65" fill="#000" opacity="0.38"/><circle cx="453.1" cy="383.3" r="0.65" fill="#40ff90" opacity="0.38"/><circle cx="455.7" cy="388.1" r="0.65" fill="#fff" opacity="0.38"/><circle cx="451.6" cy="387.2" r="0.65" fill="#ff60c0" opacity="0.38"/><circle cx="452.4" cy="383.3" r="0.65" fill="#fff" opacity="0.38"/><circle cx="452.7" cy="381.6" r="0.65" fill="#fff" opacity="0.38"/><circle cx="461.7" cy="383.4" r="0.65" fill="#000" opacity="0.38"/><circle cx="459" cy="379.6" r="0.65" fill="#ffe070" opacity="0.38"/><circle cx="460.5" cy="387.5" r="0.65" fill="#40ff90" opacity="0.38"/><circle cx="453.1" cy="383.5" r="0.65" fill="#40ff90" opacity="0.38"/><circle cx="453.7" cy="387.4" r="0.65" fill="#fff" opacity="0.38"/><circle cx="452.2" cy="384.6" r="0.65" fill="#ff60c0" opacity="0.38"/><circle cx="452.1" cy="388.8" r="0.65" fill="#fff" opacity="0.38"/>
<ellipse cx="479.2" cy="387.8" rx="6.3" ry="2.2" fill="#000" opacity="0.13"/><circle cx="478" cy="380.5" r="7.9" fill="url(#igrn)"/><circle cx="475.3" cy="378.6" r="0.65" fill="#000" opacity="0.38"/><circle cx="473.8" cy="380.6" r="0.65" fill="#000" opacity="0.38"/><circle cx="481.4" cy="379.3" r="0.65" fill="#000" opacity="0.38"/><circle cx="478.6" cy="381.3" r="0.65" fill="#ff60c0" opacity="0.38"/><circle cx="474.9" cy="377.5" r="0.65" fill="#000" opacity="0.38"/><circle cx="480.3" cy="381.1" r="0.65" fill="#ffe070" opacity="0.38"/><circle cx="482.7" cy="380.9" r="0.65" fill="#000" opacity="0.38"/><circle cx="478.2" cy="385" r="0.65" fill="#fff" opacity="0.38"/><circle cx="478.1" cy="383.9" r="0.65" fill="#fff" opacity="0.38"/><circle cx="477.4" cy="377.1" r="0.65" fill="#ffe070" opacity="0.38"/><circle cx="474.5" cy="377.7" r="0.65" fill="#ff60c0" opacity="0.38"/><circle cx="482" cy="375.9" r="0.65" fill="#fff" opacity="0.38"/><circle cx="480.3" cy="380.7" r="0.65" fill="#000" opacity="0.38"/><circle cx="474.3" cy="379.7" r="0.65" fill="#000" opacity="0.38"/><circle cx="477.9" cy="379.5" r="0.65" fill="#000" opacity="0.38"/><circle cx="474.4" cy="384.8" r="0.65" fill="#40ff90" opacity="0.38"/>
<ellipse cx="489.9" cy="404.1" rx="6.3" ry="2.2" fill="#000" opacity="0.13"/><circle cx="488.7" cy="396.8" r="7.9" fill="url(#ired)"/>
<ellipse cx="462.7" cy="413" rx="6.3" ry="2.2" fill="#000" opacity="0.13"/><circle cx="461.5" cy="405.7" r="7.9" fill="url(#isal)"/><circle cx="461.7" cy="406" r="0.65" fill="#40ff90" opacity="0.38"/><circle cx="455.5" cy="407.4" r="0.65" fill="#ff60c0" opacity="0.38"/><circle cx="460.8" cy="405.5" r="0.65" fill="#ffe070" opacity="0.38"/><circle cx="457.1" cy="402.7" r="0.65" fill="#ff60c0" opacity="0.38"/><circle cx="457.9" cy="400.9" r="0.65" fill="#ffe070" opacity="0.38"/><circle cx="456.2" cy="406.5" r="0.65" fill="#ff60c0" opacity="0.38"/><circle cx="462.7" cy="409" r="0.65" fill="#fff" opacity="0.38"/><circle cx="461.4" cy="406" r="0.65" fill="#ffe070" opacity="0.38"/><circle cx="457" cy="403.1" r="0.65" fill="#ffe070" opacity="0.38"/><circle cx="463.6" cy="404.4" r="0.65" fill="#ffe070" opacity="0.38"/><circle cx="459.4" cy="400" r="0.65" fill="#000" opacity="0.38"/><circle cx="457.4" cy="404.7" r="0.65" fill="#40ff90" opacity="0.38"/><circle cx="462.1" cy="404.1" r="0.65" fill="#fff" opacity="0.38"/><circle cx="461.3" cy="407.6" r="0.65" fill="#fff" opacity="0.38"/><circle cx="461" cy="404.8" r="0.65" fill="#ff60c0" opacity="0.38"/><circle cx="460" cy="406.4" r="0.65" fill="#ffe070" opacity="0.38"/>
<ellipse cx="475.2" cy="427.8" rx="6.3" ry="2.2" fill="#000" opacity="0.13"/><circle cx="474" cy="420.5" r="7.9" fill="url(#iyel)"/><circle cx="473.6" cy="419.1" r="0.65" fill="#fff" opacity="0.38"/><circle cx="475" cy="425.6" r="0.65" fill="#fff" opacity="0.38"/><circle cx="473.4" cy="418.2" r="0.65" fill="#000" opacity="0.38"/><circle cx="472.8" cy="416.4" r="0.65" fill="#fff" opacity="0.38"/><circle cx="470.8" cy="417.8" r="0.65" fill="#fff" opacity="0.38"/><circle cx="476.7" cy="421.7" r="0.65" fill="#40ff90" opacity="0.38"/><circle cx="477.1" cy="423" r="0.65" fill="#fff" opacity="0.38"/><circle cx="473.1" cy="425.3" r="0.65" fill="#fff" opacity="0.38"/><circle cx="473.7" cy="414.4" r="0.65" fill="#fff" opacity="0.38"/><circle cx="476" cy="420.6" r="0.65" fill="#ff60c0" opacity="0.38"/><circle cx="470.3" cy="417.8" r="0.65" fill="#ff60c0" opacity="0.38"/><circle cx="472.9" cy="421.6" r="0.65" fill="#ff60c0" opacity="0.38"/><circle cx="472.6" cy="425.2" r="0.65" fill="#ff60c0" opacity="0.38"/><circle cx="467.8" cy="420.3" r="0.65" fill="#40ff90" opacity="0.38"/><circle cx="471.1" cy="419.6" r="0.65" fill="#fff" opacity="0.38"/><circle cx="470.9" cy="419.5" r="0.65" fill="#000" opacity="0.38"/>
<ellipse cx="496.5" cy="422.5" rx="6.3" ry="2.2" fill="#000" opacity="0.13"/><circle cx="495.3" cy="415.2" r="7.9" fill="url(#ipur)"/><circle cx="492.9" cy="414.9" r="0.65" fill="#fff" opacity="0.38"/><circle cx="498.2" cy="411.9" r="0.65" fill="#ffe070" opacity="0.38"/><circle cx="497.7" cy="420.1" r="0.65" fill="#ff60c0" opacity="0.38"/><circle cx="492.6" cy="419.3" r="0.65" fill="#fff" opacity="0.38"/><circle cx="497.2" cy="416.4" r="0.65" fill="#40ff90" opacity="0.38"/><circle cx="491.4" cy="416.4" r="0.65" fill="#ffe070" opacity="0.38"/><circle cx="491.6" cy="415.7" r="0.65" fill="#40ff90" opacity="0.38"/><circle cx="500.7" cy="416.2" r="0.65" fill="#fff" opacity="0.38"/><circle cx="498.9" cy="410.1" r="0.65" fill="#ffe070" opacity="0.38"/><circle cx="494" cy="412.4" r="0.65" fill="#fff" opacity="0.38"/><circle cx="500.6" cy="418.3" r="0.65" fill="#ffe070" opacity="0.38"/><circle cx="496.3" cy="413" r="0.65" fill="#40ff90" opacity="0.38"/><circle cx="491.1" cy="419.4" r="0.65" fill="#000" opacity="0.38"/><circle cx="492.8" cy="419.6" r="0.65" fill="#000" opacity="0.38"/><circle cx="496.4" cy="411.4" r="0.65" fill="#ff60c0" opacity="0.38"/><circle cx="497.8" cy="410.6" r="0.65" fill="#ff60c0" opacity="0.38"/>
<text x="12.5" y="154.4" font-size="15.8" fill="#111" stroke="#111" stroke-width="0.25" textLength="166.5" lengthAdjust="spacingAndGlyphs" xml:space="preserve" style="font-family:'Liberation Serif',serif">Interfacial polymerization</text>
<text x="445.7" y="159.2" font-size="13.8" fill="#111" stroke="#111" stroke-width="0.25" textLength="191.3" lengthAdjust="spacingAndGlyphs" xml:space="preserve" style="font-family:'Liberation Sans',sans-serif">Solvothermal  polymerization</text>
<text x="7" y="274" font-size="15.3" fill="#111" stroke="#111" stroke-width="0.25" textLength="118.3" lengthAdjust="spacingAndGlyphs" xml:space="preserve" style="font-family:'Liberation Sans',sans-serif">natural seawater</text>
<text x="30.3" y="379.6" font-size="15.3" fill="#111" stroke="#111" stroke-width="0.25" textLength="65.7" lengthAdjust="spacingAndGlyphs" xml:space="preserve" style="font-family:'Liberation Sans',sans-serif">target ion</text>
<text x="94.2" y="444.4" font-size="15.3" fill="#111" stroke="#111" stroke-width="0.25" textLength="105.1" lengthAdjust="spacingAndGlyphs" xml:space="preserve" style="font-family:'Liberation Sans',sans-serif">coexisting ions</text></svg>
</body></html>
